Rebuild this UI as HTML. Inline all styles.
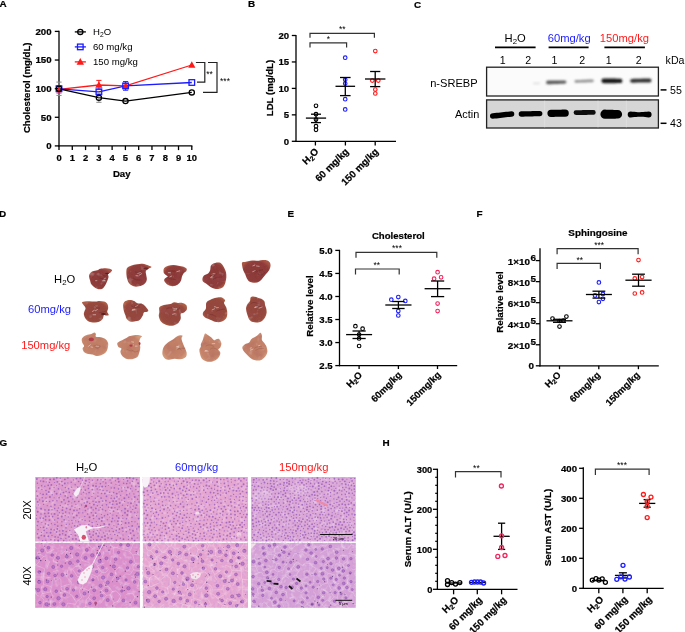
<!DOCTYPE html><html><head><meta charset="utf-8"><style>html,body{margin:0;padding:0;background:#fff;}svg{display:block;will-change:transform;font-family:"Liberation Sans", sans-serif;}</style></head><body><svg width="685" height="632" viewBox="0 0 685 632"><text x="-0.4" y="6.8" font-size="9.9" font-weight="bold" text-anchor="start" fill="#000" stroke="#000" stroke-width="0.22">A</text>
<text x="248" y="7.1" font-size="9.9" font-weight="bold" text-anchor="start" fill="#000" stroke="#000" stroke-width="0.22">B</text>
<text x="414" y="7.6" font-size="9.9" font-weight="bold" text-anchor="start" fill="#000" stroke="#000" stroke-width="0.22">C</text>
<text x="-0.9" y="216.8" font-size="9.9" font-weight="bold" text-anchor="start" fill="#000" stroke="#000" stroke-width="0.22">D</text>
<text x="287.6" y="217.1" font-size="9.9" font-weight="bold" text-anchor="start" fill="#000" stroke="#000" stroke-width="0.22">E</text>
<text x="476.6" y="217.1" font-size="9.9" font-weight="bold" text-anchor="start" fill="#000" stroke="#000" stroke-width="0.22">F</text>
<text x="-0.5" y="445.6" font-size="9.9" font-weight="bold" text-anchor="start" fill="#000" stroke="#000" stroke-width="0.22">G</text>
<text x="382.6" y="445.6" font-size="9.9" font-weight="bold" text-anchor="start" fill="#000" stroke="#000" stroke-width="0.22">H</text>
<line x1="59" y1="30.8" x2="59" y2="146.5" stroke="#000" stroke-width="1.3"/>
<line x1="58.4" y1="145.9" x2="192.4" y2="145.9" stroke="#000" stroke-width="1.3"/>
<line x1="54.8" y1="145.9" x2="59" y2="145.9" stroke="#000" stroke-width="1.3"/>
<text x="51.6" y="149.3" font-size="9.7" font-weight="bold" text-anchor="end" fill="#000" stroke="#000" stroke-width="0.22">0</text>
<line x1="54.8" y1="117.28" x2="59" y2="117.28" stroke="#000" stroke-width="1.3"/>
<text x="51.6" y="120.68" font-size="9.7" font-weight="bold" text-anchor="end" fill="#000" stroke="#000" stroke-width="0.22">50</text>
<line x1="54.8" y1="88.65" x2="59" y2="88.65" stroke="#000" stroke-width="1.3"/>
<text x="51.6" y="92.05" font-size="9.7" font-weight="bold" text-anchor="end" fill="#000" stroke="#000" stroke-width="0.22">100</text>
<line x1="54.8" y1="60.03" x2="59" y2="60.03" stroke="#000" stroke-width="1.3"/>
<text x="51.6" y="63.43" font-size="9.7" font-weight="bold" text-anchor="end" fill="#000" stroke="#000" stroke-width="0.22">150</text>
<line x1="54.8" y1="31.4" x2="59" y2="31.4" stroke="#000" stroke-width="1.3"/>
<text x="51.6" y="34.8" font-size="9.7" font-weight="bold" text-anchor="end" fill="#000" stroke="#000" stroke-width="0.22">200</text>
<line x1="59" y1="145.9" x2="59" y2="150.1" stroke="#000" stroke-width="1.3"/>
<text x="59" y="161" font-size="9.4" font-weight="bold" text-anchor="middle" fill="#000" stroke="#000" stroke-width="0.22">0</text>
<line x1="72.28" y1="145.9" x2="72.28" y2="150.1" stroke="#000" stroke-width="1.3"/>
<text x="72.28" y="161" font-size="9.4" font-weight="bold" text-anchor="middle" fill="#000" stroke="#000" stroke-width="0.22">1</text>
<line x1="85.56" y1="145.9" x2="85.56" y2="150.1" stroke="#000" stroke-width="1.3"/>
<text x="85.56" y="161" font-size="9.4" font-weight="bold" text-anchor="middle" fill="#000" stroke="#000" stroke-width="0.22">2</text>
<line x1="98.84" y1="145.9" x2="98.84" y2="150.1" stroke="#000" stroke-width="1.3"/>
<text x="98.84" y="161" font-size="9.4" font-weight="bold" text-anchor="middle" fill="#000" stroke="#000" stroke-width="0.22">3</text>
<line x1="112.12" y1="145.9" x2="112.12" y2="150.1" stroke="#000" stroke-width="1.3"/>
<text x="112.12" y="161" font-size="9.4" font-weight="bold" text-anchor="middle" fill="#000" stroke="#000" stroke-width="0.22">4</text>
<line x1="125.4" y1="145.9" x2="125.4" y2="150.1" stroke="#000" stroke-width="1.3"/>
<text x="125.4" y="161" font-size="9.4" font-weight="bold" text-anchor="middle" fill="#000" stroke="#000" stroke-width="0.22">5</text>
<line x1="138.68" y1="145.9" x2="138.68" y2="150.1" stroke="#000" stroke-width="1.3"/>
<text x="138.68" y="161" font-size="9.4" font-weight="bold" text-anchor="middle" fill="#000" stroke="#000" stroke-width="0.22">6</text>
<line x1="151.96" y1="145.9" x2="151.96" y2="150.1" stroke="#000" stroke-width="1.3"/>
<text x="151.96" y="161" font-size="9.4" font-weight="bold" text-anchor="middle" fill="#000" stroke="#000" stroke-width="0.22">7</text>
<line x1="165.24" y1="145.9" x2="165.24" y2="150.1" stroke="#000" stroke-width="1.3"/>
<text x="165.24" y="161" font-size="9.4" font-weight="bold" text-anchor="middle" fill="#000" stroke="#000" stroke-width="0.22">8</text>
<line x1="178.52" y1="145.9" x2="178.52" y2="150.1" stroke="#000" stroke-width="1.3"/>
<text x="178.52" y="161" font-size="9.4" font-weight="bold" text-anchor="middle" fill="#000" stroke="#000" stroke-width="0.22">9</text>
<line x1="191.8" y1="145.9" x2="191.8" y2="150.1" stroke="#000" stroke-width="1.3"/>
<text x="191.8" y="161" font-size="9.4" font-weight="bold" text-anchor="middle" fill="#000" stroke="#000" stroke-width="0.22">10</text>
<text x="121.7" y="177" font-size="9.6" font-weight="bold" text-anchor="middle" fill="#000" stroke="#000" stroke-width="0.22">Day</text>
<text x="29.8" y="87.8" font-size="9.6" font-weight="bold" text-anchor="middle" fill="#000" transform="rotate(-90 29.8 87.8)" stroke="#000" stroke-width="0.22">Cholesterol (mg/dL)</text>
<polyline points="59,89.3 98.9,85 125.6,85.9 191.8,65" stroke="#ff1a1a" stroke-width="1.3" fill="none"/>
<polyline points="59,88.8 98.9,91.8 125.6,85.9 191.8,82.5" stroke="#1c1cff" stroke-width="1.3" fill="none"/>
<polyline points="59,88.8 98.9,97.7 125.5,101.1 191.8,92.4" stroke="#000" stroke-width="1.3" fill="none"/>
<line x1="59" y1="82.1" x2="59" y2="95.4" stroke="#8a8a8a" stroke-width="1"/>
<line x1="56.4" y1="82.1" x2="61.6" y2="82.1" stroke="#8a8a8a" stroke-width="1"/>
<line x1="56.4" y1="95.4" x2="61.6" y2="95.4" stroke="#8a8a8a" stroke-width="1"/>
<line x1="98.9" y1="93.1" x2="98.9" y2="102.3" stroke="#8a8a8a" stroke-width="1"/>
<line x1="96.3" y1="93.1" x2="101.5" y2="93.1" stroke="#8a8a8a" stroke-width="1"/>
<line x1="96.3" y1="102.3" x2="101.5" y2="102.3" stroke="#8a8a8a" stroke-width="1"/>
<line x1="59" y1="85.5" x2="59" y2="93" stroke="#ff1a1a" stroke-width="1"/>
<line x1="56.4" y1="85.5" x2="61.6" y2="85.5" stroke="#ff1a1a" stroke-width="1"/>
<line x1="56.4" y1="93" x2="61.6" y2="93" stroke="#ff1a1a" stroke-width="1"/>
<line x1="98.9" y1="80.4" x2="98.9" y2="89.6" stroke="#ff1a1a" stroke-width="1"/>
<line x1="96.3" y1="80.4" x2="101.5" y2="80.4" stroke="#ff1a1a" stroke-width="1"/>
<line x1="96.3" y1="89.6" x2="101.5" y2="89.6" stroke="#ff1a1a" stroke-width="1"/>
<line x1="125.6" y1="81.6" x2="125.6" y2="90.2" stroke="#1c1cff" stroke-width="1"/>
<line x1="123" y1="81.6" x2="128.2" y2="81.6" stroke="#1c1cff" stroke-width="1"/>
<line x1="123" y1="90.2" x2="128.2" y2="90.2" stroke="#1c1cff" stroke-width="1"/>
<line x1="125.6" y1="83.5" x2="125.6" y2="88.3" stroke="#ff1a1a" stroke-width="1"/>
<line x1="123" y1="83.5" x2="128.2" y2="83.5" stroke="#ff1a1a" stroke-width="1"/>
<line x1="123" y1="88.3" x2="128.2" y2="88.3" stroke="#ff1a1a" stroke-width="1"/>
<path d="M98.9 81.28 L102.5 87.7 L95.3 87.7 Z" fill="#ff1a1a"/>
<path d="M125.6 82.18 L129.2 88.6 L122 88.6 Z" fill="#ff1a1a"/>
<path d="M191.8 61.28 L195.4 67.7 L188.2 67.7 Z" fill="#ff1a1a"/>
<path d="M59 86.87 L61.64 91.58 L56.36 91.58 Z" fill="#ff1a1a"/>
<rect x="56.2" y="86" width="5.6" height="5.6" fill="none" stroke="#1c1cff" stroke-width="1.3"/>
<rect x="96.1" y="89" width="5.6" height="5.6" fill="none" stroke="#1c1cff" stroke-width="1.3"/>
<rect x="122.8" y="83.1" width="5.6" height="5.6" fill="none" stroke="#1c1cff" stroke-width="1.3"/>
<rect x="189" y="79.7" width="5.6" height="5.6" fill="none" stroke="#1c1cff" stroke-width="1.3"/>
<circle cx="59" cy="88.8" r="2.6" stroke="#000" stroke-width="1.3" fill="none"/>
<circle cx="98.9" cy="97.7" r="2.6" stroke="#000" stroke-width="1.3" fill="none"/>
<circle cx="125.5" cy="101.1" r="2.6" stroke="#000" stroke-width="1.3" fill="none"/>
<circle cx="191.8" cy="92.4" r="2.6" stroke="#000" stroke-width="1.3" fill="none"/>
<line x1="74.8" y1="31.9" x2="85.9" y2="31.9" stroke="#000" stroke-width="1.3"/>
<circle cx="80.3" cy="31.9" r="2.6" stroke="#000" stroke-width="1.3" fill="none"/>
<text x="93" y="35.3" font-size="9.6" font-weight="normal" text-anchor="start" fill="#000">H<tspan font-size="0.7em" dy="0.25em">2</tspan><tspan dy="-0.18em">O</tspan></text>
<line x1="74.8" y1="46.9" x2="85.9" y2="46.9" stroke="#1c1cff" stroke-width="1.3"/>
<rect x="77.5" y="44.1" width="5.6" height="5.6" fill="none" stroke="#1c1cff" stroke-width="1.3"/>
<text x="93" y="50.3" font-size="9.6" font-weight="normal" text-anchor="start" fill="#000">60 mg/kg</text>
<line x1="74.8" y1="61.9" x2="85.9" y2="61.9" stroke="#ff1a1a" stroke-width="1.3"/>
<path d="M80.3 58.06 L84.02 64.69 L76.58 64.69 Z" fill="#ff1a1a"/>
<text x="93" y="65.3" font-size="9.6" font-weight="normal" text-anchor="start" fill="#000">150 mg/kg</text>
<polyline points="195.9,62.5 204.8,62.5 204.8,82.2 197,82.2" stroke="#222" stroke-width="1.2" fill="none"/>
<polyline points="208,62.5 217,62.5 217,92.3 203,92.3" stroke="#222" stroke-width="1.2" fill="none"/>
<text x="209.6" y="76.5" font-size="8.5" font-weight="normal" text-anchor="middle" fill="#000">**</text>
<text x="225" y="84" font-size="8.5" font-weight="normal" text-anchor="middle" fill="#000">***</text>
<line x1="296" y1="34.9" x2="296" y2="141.9" stroke="#000" stroke-width="1.3"/>
<line x1="291.8" y1="141.3" x2="296" y2="141.3" stroke="#000" stroke-width="1.3"/>
<text x="289.2" y="144.6" font-size="9.6" font-weight="bold" text-anchor="end" fill="#000" stroke="#000" stroke-width="0.22">0</text>
<line x1="291.8" y1="114.85" x2="296" y2="114.85" stroke="#000" stroke-width="1.3"/>
<text x="289.2" y="118.15" font-size="9.6" font-weight="bold" text-anchor="end" fill="#000" stroke="#000" stroke-width="0.22">5</text>
<line x1="291.8" y1="88.4" x2="296" y2="88.4" stroke="#000" stroke-width="1.3"/>
<text x="289.2" y="91.7" font-size="9.6" font-weight="bold" text-anchor="end" fill="#000" stroke="#000" stroke-width="0.22">10</text>
<line x1="291.8" y1="61.95" x2="296" y2="61.95" stroke="#000" stroke-width="1.3"/>
<text x="289.2" y="65.25" font-size="9.6" font-weight="bold" text-anchor="end" fill="#000" stroke="#000" stroke-width="0.22">15</text>
<line x1="291.8" y1="35.5" x2="296" y2="35.5" stroke="#000" stroke-width="1.3"/>
<text x="289.2" y="38.8" font-size="9.6" font-weight="bold" text-anchor="end" fill="#000" stroke="#000" stroke-width="0.22">20</text>
<line x1="295.4" y1="141.3" x2="396" y2="141.3" stroke="#000" stroke-width="1.3"/>
<line x1="315.4" y1="141.3" x2="315.4" y2="145.5" stroke="#000" stroke-width="1.3"/>
<line x1="345.4" y1="141.3" x2="345.4" y2="145.5" stroke="#000" stroke-width="1.3"/>
<line x1="375.2" y1="141.3" x2="375.2" y2="145.5" stroke="#000" stroke-width="1.3"/>
<text x="272.9" y="88" font-size="9.6" font-weight="bold" text-anchor="middle" fill="#000" transform="rotate(-90 272.9 88)" stroke="#000" stroke-width="0.22">LDL (mg/dL)</text>
<text x="319.3" y="152.2" font-size="9.8" font-weight="bold" text-anchor="end" fill="#000" transform="rotate(-45 319.3 152.2)" stroke="#000" stroke-width="0.22">H<tspan font-size="0.7em" dy="0.25em">2</tspan><tspan dy="-0.18em">O</tspan></text>
<text x="349.3" y="152.2" font-size="9.8" font-weight="bold" text-anchor="end" fill="#000" transform="rotate(-45 349.3 152.2)" stroke="#000" stroke-width="0.22">60 mg/kg</text>
<text x="379.1" y="152.2" font-size="9.8" font-weight="bold" text-anchor="end" fill="#000" transform="rotate(-45 379.1 152.2)" stroke="#000" stroke-width="0.22">150 mg/kg</text>
<circle cx="316" cy="105.8" r="1.8" stroke="#000" stroke-width="1.1" fill="none"/>
<circle cx="316" cy="114.2" r="1.8" stroke="#000" stroke-width="1.1" fill="none"/>
<circle cx="316" cy="119.6" r="1.8" stroke="#000" stroke-width="1.1" fill="none"/>
<circle cx="316" cy="126.2" r="1.8" stroke="#000" stroke-width="1.1" fill="none"/>
<circle cx="316" cy="129.8" r="1.8" stroke="#000" stroke-width="1.1" fill="none"/>
<line x1="305.9" y1="118.1" x2="326.1" y2="118.1" stroke="#000" stroke-width="1.3"/>
<line x1="316" y1="114.2" x2="316" y2="122.6" stroke="#000" stroke-width="1.3"/>
<line x1="311" y1="114.2" x2="321" y2="114.2" stroke="#000" stroke-width="1.3"/>
<line x1="311" y1="122.6" x2="321" y2="122.6" stroke="#000" stroke-width="1.3"/>
<circle cx="345.2" cy="57.7" r="1.8" stroke="#1c1cff" stroke-width="1.1" fill="none"/>
<circle cx="345.2" cy="79.7" r="1.8" stroke="#1c1cff" stroke-width="1.1" fill="none"/>
<circle cx="345.2" cy="83.6" r="1.8" stroke="#1c1cff" stroke-width="1.1" fill="none"/>
<circle cx="345.2" cy="99.2" r="1.8" stroke="#1c1cff" stroke-width="1.1" fill="none"/>
<circle cx="345.2" cy="109.4" r="1.8" stroke="#1c1cff" stroke-width="1.1" fill="none"/>
<line x1="335.5" y1="86.3" x2="355.1" y2="86.3" stroke="#000" stroke-width="1.3"/>
<line x1="345.3" y1="77.5" x2="345.3" y2="95.6" stroke="#000" stroke-width="1.3"/>
<line x1="340" y1="77.5" x2="350.6" y2="77.5" stroke="#000" stroke-width="1.3"/>
<line x1="340" y1="95.6" x2="350.6" y2="95.6" stroke="#000" stroke-width="1.3"/>
<circle cx="375.3" cy="51.1" r="1.8" stroke="#ff1a1a" stroke-width="1.1" fill="none"/>
<circle cx="372.3" cy="80.6" r="1.8" stroke="#ff1a1a" stroke-width="1.1" fill="none"/>
<circle cx="378.3" cy="80.6" r="1.8" stroke="#ff1a1a" stroke-width="1.1" fill="none"/>
<circle cx="375.3" cy="89.6" r="1.8" stroke="#ff1a1a" stroke-width="1.1" fill="none"/>
<circle cx="375.3" cy="93.5" r="1.8" stroke="#ff1a1a" stroke-width="1.1" fill="none"/>
<line x1="365" y1="79" x2="385.4" y2="79" stroke="#000" stroke-width="1.3"/>
<line x1="375.2" y1="71.5" x2="375.2" y2="86.6" stroke="#000" stroke-width="1.3"/>
<line x1="370.1" y1="71.5" x2="380.3" y2="71.5" stroke="#000" stroke-width="1.3"/>
<line x1="370.1" y1="86.6" x2="380.3" y2="86.6" stroke="#000" stroke-width="1.3"/>
<polyline points="310,47.6 310,42.8 346.6,42.8 346.6,47.6" stroke="#333" stroke-width="1.2" fill="none"/>
<polyline points="310,37.7 310,33.3 374.4,33.3 374.4,37.7" stroke="#333" stroke-width="1.2" fill="none"/>
<text x="328.3" y="42.2" font-size="8.5" font-weight="normal" text-anchor="middle" fill="#000">*</text>
<text x="342.3" y="32.3" font-size="8.5" font-weight="normal" text-anchor="middle" fill="#000">**</text>
<text x="515.2" y="42" font-size="11.2" font-weight="normal" text-anchor="middle" fill="#000">H<tspan font-size="0.7em" dy="0.25em">2</tspan><tspan dy="-0.18em">O</tspan></text>
<text x="569.2" y="42" font-size="11.2" font-weight="normal" text-anchor="middle" fill="#1c1cff">60mg/kg</text>
<text x="624.4" y="42" font-size="11.2" font-weight="normal" text-anchor="middle" fill="#ff1a1a">150mg/kg</text>
<line x1="495" y1="47.4" x2="535.6" y2="47.4" stroke="#000" stroke-width="1.6"/>
<line x1="548.6" y1="47.4" x2="588.6" y2="47.4" stroke="#000" stroke-width="1.6"/>
<line x1="604.4" y1="47.4" x2="644.9" y2="47.4" stroke="#000" stroke-width="1.6"/>
<text x="502.6" y="63.5" font-size="10.6" font-weight="normal" text-anchor="middle" fill="#000">1</text>
<text x="528.2" y="63.5" font-size="10.6" font-weight="normal" text-anchor="middle" fill="#000">2</text>
<text x="554.5" y="63.5" font-size="10.6" font-weight="normal" text-anchor="middle" fill="#000">1</text>
<text x="582.2" y="63.5" font-size="10.6" font-weight="normal" text-anchor="middle" fill="#000">2</text>
<text x="608.7" y="63.5" font-size="10.6" font-weight="normal" text-anchor="middle" fill="#000">1</text>
<text x="638.8" y="63.5" font-size="10.6" font-weight="normal" text-anchor="middle" fill="#000">2</text>
<text x="665.6" y="63.7" font-size="10.6" font-weight="normal" text-anchor="start" fill="#000">kDa</text>
<text x="453.9" y="87.2" font-size="11.1" font-weight="normal" text-anchor="middle" fill="#000">n-SREBP</text>
<text x="467.1" y="118" font-size="10.9" font-weight="normal" text-anchor="middle" fill="#000">Actin</text>
<defs><filter id="bl1" x="-50%" y="-50%" width="200%" height="200%"><feGaussianBlur stdDeviation="0.9"/></filter><filter id="bl2" x="-50%" y="-50%" width="200%" height="200%"><feGaussianBlur stdDeviation="0.6"/></filter><filter id="bl3" x="-20%" y="-20%" width="140%" height="140%"><feGaussianBlur stdDeviation="0.35"/></filter></defs>
<rect x="486.6" y="67.2" width="171.8" height="28.8" fill="#fbfbfb" stroke="#222" stroke-width="1.3"/>
<rect x="486.6" y="99.9" width="171.8" height="28.1" fill="#d6d6d6" stroke="#222" stroke-width="1.3"/>
<rect x="544.2" y="100.6" width="1" height="26.8" fill="#e4e4e4" opacity="0.6"/>
<rect x="597.5" y="100.6" width="1" height="26.8" fill="#e4e4e4" opacity="0.6"/>
<rect x="625.8" y="100.6" width="1" height="26.8" fill="#e4e4e4" opacity="0.6"/>
<path d="M534 82.2 L534.5 82.2 L535 82.2 L535.5 82.2 L536 82.2 L536.5 82.2 L537 82.2 L537.5 82.2 L538 82.2 L538.5 82.2 L539 82.2 A1.1 1.1 0 0 1 539 84.4 L538.5 84.4 L538 84.4 L537.5 84.4 L537 84.4 L536.5 84.4 L536 84.4 L535.5 84.4 L535 84.4 L534.5 84.4 L534 84.4 A1.1 1.1 0 0 1 534 82.2 Z" fill="#e4e4e4" filter="url(#bl1)"/>
<path d="M548 80.5 L549.68 80.49 L551.36 80.48 L553.04 80.47 L554.72 80.46 L556.4 80.45 L558.08 80.44 L559.76 80.43 L561.44 80.42 L563.12 80.41 L564.8 80.4 A1.6 1.6 0 0 1 564.8 83.6 L563.12 83.67 L561.44 83.74 L559.76 83.81 L558.08 83.88 L556.4 83.95 L554.72 84.02 L553.04 84.09 L551.36 84.16 L549.68 84.23 L548 84.3 A1.9 1.9 0 0 1 548 80.5 Z" fill="#5c5c5c" filter="url(#bl1)"/>
<path d="M575.8 80.1 L577.46 80.03 L579.12 79.96 L580.78 79.89 L582.44 79.82 L584.1 79.75 L585.76 79.68 L587.42 79.61 L589.08 79.54 L590.74 79.47 L592.4 79.4 A1.4 1.4 0 0 1 592.4 82.2 L590.74 82.25 L589.08 82.3 L587.42 82.35 L585.76 82.4 L584.1 82.45 L582.44 82.5 L580.78 82.55 L579.12 82.6 L577.46 82.65 L575.8 82.7 A1.3 1.3 0 0 1 575.8 80.1 Z" fill="#929292" filter="url(#bl1)"/>
<path d="M603.8 78.4 L605.44 78.43 L607.08 78.46 L608.72 78.49 L610.36 78.52 L612 78.55 L613.64 78.58 L615.28 78.61 L616.92 78.64 L618.56 78.67 L620.2 78.7 A2.2 2.2 0 0 1 620.2 83.1 L618.56 83.11 L616.92 83.12 L615.28 83.13 L613.64 83.14 L612 83.15 L610.36 83.16 L608.72 83.17 L607.08 83.18 L605.44 83.19 L603.8 83.2 A2.4 2.4 0 0 1 603.8 78.4 Z" fill="#181818" filter="url(#bl1)"/>
<path d="M632 78.9 L633.75 78.85 L635.5 78.8 L637.25 78.75 L639 78.7 L640.75 78.65 L642.5 78.6 L644.25 78.55 L646 78.5 L647.75 78.45 L649.5 78.4 A2 2 0 0 1 649.5 82.4 L647.75 82.43 L646 82.46 L644.25 82.49 L642.5 82.52 L640.75 82.55 L639 82.58 L637.25 82.61 L635.5 82.64 L633.75 82.67 L632 82.7 A1.9 1.9 0 0 1 632 78.9 Z" fill="#333" filter="url(#bl1)"/>
<path d="M492.8 113.2 L494.68 113.01 L496.56 112.82 L498.44 112.63 L500.32 112.44 L502.2 112.25 L504.08 112.06 L505.96 111.87 L507.84 111.68 L509.72 111.49 L511.6 111.3 A2.7 2.7 0 0 1 511.6 116.7 L509.72 116.91 L507.84 117.12 L505.96 117.33 L504.08 117.54 L502.2 117.75 L500.32 117.96 L498.44 118.17 L496.56 118.38 L494.68 118.59 L492.8 118.8 A2.8 2.8 0 0 1 492.8 113.2 Z" fill="#050505" filter="url(#bl2)"/>
<path d="M521.4 111.3 L523.24 111.27 L525.08 111.24 L526.92 111.21 L528.76 111.18 L530.6 111.15 L532.44 111.12 L534.28 111.09 L536.12 111.06 L537.96 111.03 L539.8 111 A2.6 2.6 0 0 1 539.8 116.2 L537.96 116.25 L536.12 116.3 L534.28 116.35 L532.44 116.4 L530.6 116.45 L528.76 116.5 L526.92 116.55 L525.08 116.6 L523.24 116.65 L521.4 116.7 A2.7 2.7 0 0 1 521.4 111.3 Z" fill="#050505" filter="url(#bl2)"/>
<path d="M551 109.7 L552.42 109.69 L553.84 109.68 L555.26 109.67 L556.68 109.66 L558.1 109.65 L559.52 109.64 L560.94 109.63 L562.36 109.62 L563.78 109.61 L565.2 109.6 A3.6 3.6 0 0 1 565.2 116.8 L563.78 116.81 L562.36 116.82 L560.94 116.83 L559.52 116.84 L558.1 116.85 L556.68 116.86 L555.26 116.87 L553.84 116.88 L552.42 116.89 L551 116.9 A3.6 3.6 0 0 1 551 109.7 Z" fill="#000" filter="url(#bl2)"/>
<path d="M576 110.2 L577.73 110.18 L579.46 110.16 L581.19 110.14 L582.92 110.12 L584.65 110.1 L586.38 110.08 L588.11 110.06 L589.84 110.04 L591.57 110.02 L593.3 110 A2.4 2.4 0 0 1 593.3 114.8 L591.57 114.82 L589.84 114.84 L588.11 114.86 L586.38 114.88 L584.65 114.9 L582.92 114.92 L581.19 114.94 L579.46 114.96 L577.73 114.98 L576 115 A2.4 2.4 0 0 1 576 110.2 Z" fill="#0a0a0a" filter="url(#bl2)"/>
<path d="M605 109.6 L606.28 109.64 L607.56 109.68 L608.84 109.72 L610.12 109.76 L611.4 109.8 L612.68 109.84 L613.96 109.88 L615.24 109.92 L616.52 109.96 L617.8 110 A4.3 4.3 0 0 1 617.8 118.6 L616.52 118.62 L615.24 118.64 L613.96 118.66 L612.68 118.68 L611.4 118.7 L610.12 118.72 L608.84 118.74 L607.56 118.76 L606.28 118.78 L605 118.8 A4.6 4.6 0 0 1 605 109.6 Z" fill="#000" filter="url(#bl2)"/>
<path d="M630.8 111.4 L632.58 111.64 L634.36 111.85 L636.14 112.02 L637.92 112.13 L639.7 112.16 L641.48 112.12 L643.26 112.01 L645.04 111.84 L646.82 111.63 L648.6 111.4 A3 3 0 0 1 648.6 117.4 L646.82 117.19 L645.04 117 L643.26 116.85 L641.48 116.76 L639.7 116.74 L637.92 116.79 L636.14 116.92 L634.36 117.11 L632.58 117.34 L630.8 117.6 A3.1 3.1 0 0 1 630.8 111.4 Z" fill="#050505" filter="url(#bl2)"/>
<line x1="660.6" y1="89.9" x2="666.5" y2="89.9" stroke="#000" stroke-width="1.5"/>
<line x1="660.6" y1="123.3" x2="666.5" y2="123.3" stroke="#000" stroke-width="1.5"/>
<text x="670" y="93.8" font-size="10.6" font-weight="normal" text-anchor="start" fill="#000">55</text>
<text x="670" y="127.2" font-size="10.6" font-weight="normal" text-anchor="start" fill="#000">43</text>
<text x="75.2" y="282.8" font-size="11.2" font-weight="normal" text-anchor="end" fill="#000">H<tspan font-size="0.7em" dy="0.25em">2</tspan><tspan dy="-0.18em">O</tspan></text>
<text x="71" y="313.4" font-size="11.2" font-weight="normal" text-anchor="end" fill="#1c1cff">60mg/kg</text>
<text x="70.3" y="349" font-size="11.2" font-weight="normal" text-anchor="end" fill="#ff1a1a">150mg/kg</text>
<defs><radialGradient id="lvA" cx="50%" cy="50%" r="55%"><stop offset="0" stop-color="#8a3939"/><stop offset="0.78" stop-color="#8f3c3a"/><stop offset="1" stop-color="#ac5844"/></radialGradient><radialGradient id="lvA2" cx="50%" cy="50%" r="55%"><stop offset="0" stop-color="#a34a3e"/><stop offset="0.75" stop-color="#a84e40"/><stop offset="1" stop-color="#c06a48"/></radialGradient><radialGradient id="lvB" cx="50%" cy="50%" r="55%"><stop offset="0" stop-color="#93453e"/><stop offset="0.78" stop-color="#96483e"/><stop offset="1" stop-color="#ae6045"/></radialGradient><radialGradient id="lvC" cx="50%" cy="50%" r="55%"><stop offset="0" stop-color="#bf7c64"/><stop offset="0.78" stop-color="#c4836a"/><stop offset="1" stop-color="#d29878"/></radialGradient><filter id="lvf" x="-10%" y="-10%" width="120%" height="120%"><feGaussianBlur in="SourceGraphic" stdDeviation="0.45" result="b"/><feTurbulence type="fractalNoise" baseFrequency="0.18" numOctaves="2" seed="4" result="t"/><feColorMatrix in="t" type="matrix" values="0 0 0 0 1  0 0 0 0 0.85  0 0 0 0 0.8  0 0 0 0.5 -0.31" result="tw"/><feComposite in="tw" in2="b" operator="in" result="tw2"/><feTurbulence type="fractalNoise" baseFrequency="0.12" numOctaves="2" seed="11" result="t2"/><feColorMatrix in="t2" type="matrix" values="0 0 0 0 0.35  0 0 0 0 0.08  0 0 0 0 0.1  0 0 0 0.8 -0.38" result="td"/><feComposite in="td" in2="b" operator="in" result="td2"/><feMerge><feMergeNode in="b"/><feMergeNode in="td2"/><feMergeNode in="tw2"/></feMerge></filter></defs>
<path d="M89.6 273.9 C90.2 272.97 91.42 271.9 92.7 271.3 C93.98 270.7 96.03 270.72 97.3 270.3 C98.57 269.88 98.95 269.13 100.3 268.8 C101.65 268.47 103.87 268.3 105.4 268.3 C106.93 268.3 108.38 268.47 109.5 268.8 C110.62 269.13 111.93 269.7 112.1 270.3 C112.27 270.9 111.18 271.8 110.5 272.4 C109.82 273 108.33 273.15 108 273.9 C107.67 274.65 108.67 275.63 108.5 276.9 C108.33 278.17 107.52 280.13 107 281.5 C106.48 282.87 106.17 283.9 105.4 285.1 C104.63 286.3 103.58 288.02 102.4 288.7 C101.22 289.38 99.75 289.53 98.3 289.2 C96.85 288.87 94.9 287.55 93.7 286.7 C92.5 285.85 91.7 285.13 91.1 284.1 C90.5 283.07 90.43 281.7 90.1 280.5 C89.77 279.3 89.18 278 89.1 276.9 C89.02 275.8 89 274.83 89.6 273.9 Z" fill="url(#lvA)" filter="url(#lvf)"/>
<path d="M126.9 268.3 C127.67 266.85 129.3 266.38 131 265.7 C132.7 265.02 135.23 264.53 137.1 264.2 C138.97 263.87 140.67 263.62 142.2 263.7 C143.73 263.78 144.93 264.28 146.3 264.7 C147.67 265.12 149.55 265.78 150.4 266.2 C151.25 266.62 151.73 266.77 151.4 267.2 C151.07 267.63 149.33 268.12 148.4 268.8 C147.47 269.48 146.15 270.2 145.8 271.3 C145.45 272.4 146.13 274.03 146.3 275.4 C146.47 276.77 146.97 278.22 146.8 279.5 C146.63 280.78 146.15 282.08 145.3 283.1 C144.45 284.12 143.23 285 141.7 285.6 C140.17 286.2 137.72 286.7 136.1 286.7 C134.48 286.7 133.2 286.2 132 285.6 C130.8 285 129.67 284.12 128.9 283.1 C128.13 282.08 127.82 280.95 127.4 279.5 C126.98 278.05 126.48 276.27 126.4 274.4 C126.32 272.53 126.13 269.75 126.9 268.3 Z" fill="url(#lvA)" filter="url(#lvf)"/>
<path d="M164.1 268.3 C164.87 267.2 166.67 266.25 168.2 265.7 C169.73 265.15 171.6 265 173.3 265 C175 265 176.7 265.42 178.4 265.7 C180.1 265.98 182.13 266.18 183.5 266.7 C184.87 267.22 186.17 268.03 186.6 268.8 C187.03 269.57 186.62 270.53 186.1 271.3 C185.58 272.07 184.18 272.55 183.5 273.4 C182.82 274.25 182.42 275.22 182 276.4 C181.58 277.58 181.6 279.22 181 280.5 C180.4 281.78 179.52 283.17 178.4 284.1 C177.28 285.03 175.83 285.85 174.3 286.1 C172.77 286.35 170.63 286.1 169.2 285.6 C167.77 285.1 166.55 284.03 165.7 283.1 C164.85 282.17 164.02 280.93 164.1 280 C164.18 279.07 165.6 278.1 166.2 277.5 C166.8 276.9 167.87 276.92 167.7 276.4 C167.53 275.88 165.88 275.08 165.2 274.4 C164.52 273.72 163.78 273.32 163.6 272.3 C163.42 271.28 163.33 269.4 164.1 268.3 Z" fill="url(#lvA)" filter="url(#lvf)"/>
<path d="M211.1 265.2 C211.95 263.97 213.83 263.33 215.2 262.9 C216.57 262.47 218.1 262.3 219.3 262.6 C220.5 262.9 221.55 263.75 222.4 264.7 C223.25 265.65 223.8 267.03 224.4 268.3 C225 269.57 225.68 270.77 226 272.3 C226.32 273.83 226.4 275.78 226.3 277.5 C226.2 279.22 225.88 281.07 225.4 282.6 C224.92 284.13 224.42 285.68 223.4 286.7 C222.38 287.72 220.75 288.37 219.3 288.7 C217.85 289.03 216.23 289.03 214.7 288.7 C213.17 288.37 211.55 287.55 210.1 286.7 C208.65 285.85 207.18 284.47 206 283.6 C204.82 282.73 203.58 282.35 203 281.5 C202.42 280.65 202.33 279.52 202.5 278.5 C202.67 277.48 203.07 276.25 204 275.4 C204.93 274.55 207.08 274.25 208.1 273.4 C209.12 272.55 209.6 271.67 210.1 270.3 C210.6 268.93 210.25 266.43 211.1 265.2 Z" fill="url(#lvA)" filter="url(#lvf)"/>
<path d="M242.2 262.5 C242.83 261.8 244.67 262.08 246 261.8 C247.33 261.52 248.8 261.03 250.2 260.8 C251.6 260.57 253 260.4 254.4 260.4 C255.8 260.4 257.2 260.85 258.6 260.8 C260 260.75 261.4 260.17 262.8 260.1 C264.2 260.03 265.83 260 267 260.4 C268.17 260.8 269.22 261.57 269.8 262.5 C270.38 263.43 270.62 264.72 270.5 266 C270.38 267.28 269.92 268.8 269.1 270.2 C268.28 271.6 266.65 273.12 265.6 274.4 C264.55 275.68 263.85 276.73 262.8 277.9 C261.75 279.07 260.58 280.58 259.3 281.4 C258.02 282.22 256.62 282.68 255.1 282.8 C253.58 282.92 251.48 282.68 250.2 282.1 C248.92 281.52 248.22 280.58 247.4 279.3 C246.58 278.02 246 275.92 245.3 274.4 C244.6 272.88 243.72 271.6 243.2 270.2 C242.68 268.8 242.37 267.28 242.2 266 C242.03 264.72 241.57 263.2 242.2 262.5 Z" fill="url(#lvA)" filter="url(#lvf)"/>
<path d="M82.3 302.1 C83.2 301.52 86.63 301.38 88.8 301.3 C90.97 301.22 93.5 301.65 95.3 301.6 C97.1 301.55 98.17 301 99.6 301 C101.03 301 102.63 301.15 103.9 301.6 C105.17 302.05 106.48 302.63 107.2 303.7 C107.92 304.77 108.2 306.65 108.2 308 C108.2 309.35 107.1 310.62 107.2 311.8 C107.3 312.98 108.98 314.47 108.8 315.1 C108.62 315.73 106.92 315.6 106.1 315.6 C105.28 315.6 104.45 314.57 103.9 315.1 C103.35 315.63 103.52 317.73 102.8 318.8 C102.08 319.87 101.03 320.87 99.6 321.5 C98.17 322.13 96 322.6 94.2 322.6 C92.4 322.6 90.23 322.13 88.8 321.5 C87.37 320.87 86.42 319.97 85.6 318.8 C84.78 317.63 84.08 315.75 83.9 314.5 C83.72 313.25 84.22 312.38 84.5 311.3 C84.78 310.22 85.78 309.08 85.6 308 C85.42 306.92 83.95 305.78 83.4 304.8 C82.85 303.82 81.4 302.68 82.3 302.1 Z" fill="url(#lvB)" filter="url(#lvf)"/>
<path d="M123.4 303.7 C123.78 302.7 124.42 301.63 125.5 301 C126.58 300.37 128.45 299.9 129.9 299.9 C131.35 299.9 132.95 300.45 134.2 301 C135.45 301.55 136.15 302.75 137.4 303.2 C138.65 303.65 140.43 303.25 141.7 303.7 C142.97 304.15 143.92 304.82 145 305.9 C146.08 306.98 147.85 309.22 148.2 310.2 C148.55 311.18 147.82 311.43 147.1 311.8 C146.38 312.17 144.62 311.77 143.9 312.4 C143.18 313.03 143.52 314.35 142.8 315.6 C142.08 316.85 141.03 318.92 139.6 319.9 C138.17 320.88 135.82 321.23 134.2 321.5 C132.58 321.77 131.17 321.95 129.9 321.5 C128.63 321.05 127.33 319.78 126.6 318.8 C125.87 317.82 125.95 316.85 125.5 315.6 C125.05 314.35 124.28 312.73 123.9 311.3 C123.52 309.87 123.28 308.27 123.2 307 C123.12 305.73 123.02 304.7 123.4 303.7 Z" fill="url(#lvB)" filter="url(#lvf)"/>
<path d="M159.4 307.3 C160.13 306.2 161.98 305.65 163.8 305.1 C165.62 304.55 168.67 304.45 170.3 304 C171.93 303.55 172.32 302.58 173.6 302.4 C174.88 302.22 176.53 302.82 178 302.9 C179.47 302.98 181.03 302.53 182.4 302.9 C183.77 303.27 185.47 304 186.2 305.1 C186.93 306.2 187.25 308.22 186.8 309.5 C186.35 310.78 184.52 312.07 183.5 312.8 C182.48 313.53 181.17 312.9 180.7 313.9 C180.23 314.9 181.15 317.25 180.7 318.8 C180.25 320.35 179.18 322.1 178 323.2 C176.82 324.3 175.25 325.03 173.6 325.4 C171.95 325.77 169.73 325.67 168.1 325.4 C166.47 325.13 165.07 324.53 163.8 323.8 C162.53 323.07 161.33 322.28 160.5 321 C159.67 319.72 158.98 317.65 158.8 316.1 C158.62 314.55 159.3 313.17 159.4 311.7 C159.5 310.23 158.67 308.4 159.4 307.3 Z" fill="url(#lvB)" filter="url(#lvf)"/>
<path d="M206.5 302.4 C207.5 300.85 210.08 299.92 211.9 299.1 C213.72 298.28 215.75 297.77 217.4 297.5 C219.05 297.23 220.52 297.05 221.8 297.5 C223.08 297.95 224.73 299.3 225.1 300.2 C225.47 301.1 223.82 301.72 224 302.9 C224.18 304.08 225.65 305.65 226.2 307.3 C226.75 308.95 227.3 310.97 227.3 312.8 C227.3 314.63 227.12 316.83 226.2 318.3 C225.28 319.77 223.45 320.97 221.8 321.6 C220.15 322.23 218.13 322.38 216.3 322.1 C214.47 321.82 212.43 320.53 210.8 319.9 C209.17 319.27 207.77 319.03 206.5 318.3 C205.23 317.57 203.75 316.5 203.2 315.5 C202.65 314.5 202.75 313.48 203.2 312.3 C203.65 311.12 205.35 310.05 205.9 308.4 C206.45 306.75 205.5 303.95 206.5 302.4 Z" fill="url(#lvB)" filter="url(#lvf)"/>
<path d="M250.6 297.4 C251.1 296.65 252.08 296.55 253 296.5 C253.92 296.45 255.18 296.85 256.1 297.1 C257.02 297.35 257.5 297.65 258.5 298 C259.5 298.35 261.1 298.6 262.1 299.2 C263.1 299.8 264 300.6 264.5 301.6 C265 302.6 264.8 304 265.1 305.2 C265.4 306.4 266.05 307.48 266.3 308.8 C266.55 310.12 266.8 311.68 266.6 313.1 C266.4 314.52 265.85 316 265.1 317.3 C264.35 318.6 263.3 320.05 262.1 320.9 C260.9 321.75 259.42 322.2 257.9 322.4 C256.38 322.6 254.42 322.55 253 322.1 C251.58 321.65 250.3 320.8 249.4 319.7 C248.5 318.6 248.1 316.9 247.6 315.5 C247.1 314.1 246.65 312.62 246.4 311.3 C246.15 309.98 245.9 308.82 246.1 307.6 C246.3 306.38 246.95 305.1 247.6 304 C248.25 302.9 249.5 302.1 250 301 C250.5 299.9 250.1 298.15 250.6 297.4 Z" fill="url(#lvB)" filter="url(#lvf)"/>
<path d="M82.1 338.2 C82.78 337.02 84.67 335.88 86.2 335.2 C87.73 334.52 89.93 334.53 91.3 334.1 C92.67 333.67 93.63 332.6 94.4 332.6 C95.17 332.6 95.65 333.42 95.9 334.1 C96.15 334.78 95.13 336.18 95.9 336.7 C96.67 337.22 98.88 336.78 100.5 337.2 C102.12 337.62 104.33 338.18 105.6 339.2 C106.87 340.22 107.77 341.77 108.1 343.3 C108.43 344.83 108.02 346.87 107.6 348.4 C107.18 349.93 106.62 351.38 105.6 352.5 C104.58 353.62 103.03 354.5 101.5 355.1 C99.97 355.7 97.93 356.18 96.4 356.1 C94.87 356.02 93.67 354.93 92.3 354.6 C90.93 354.27 89.57 354.53 88.2 354.1 C86.83 353.67 85.03 352.95 84.1 352 C83.17 351.05 82.6 349.42 82.6 348.4 C82.6 347.38 84.18 346.92 84.1 345.9 C84.02 344.88 82.43 343.58 82.1 342.3 C81.77 341.02 81.42 339.38 82.1 338.2 Z" fill="url(#lvC)" filter="url(#lvf)"/>
<path d="M117.3 343.3 C117.72 342.28 119.45 341.65 120.9 340.8 C122.35 339.95 124.63 338.97 126 338.2 C127.37 337.43 127.73 336.7 129.1 336.2 C130.47 335.7 132.5 335.37 134.2 335.2 C135.9 335.03 138.02 335.03 139.3 335.2 C140.58 335.37 141.73 335.7 141.9 336.2 C142.07 336.7 140.73 337.18 140.3 338.2 C139.87 339.22 139.3 340.77 139.3 342.3 C139.3 343.83 140.3 345.7 140.3 347.4 C140.3 349.1 139.8 350.88 139.3 352.5 C138.8 354.12 138.48 355.98 137.3 357.1 C136.12 358.22 134.08 358.93 132.2 359.2 C130.32 359.47 127.72 359.3 126 358.7 C124.28 358.1 122.83 356.8 121.9 355.6 C120.97 354.4 120.48 352.7 120.4 351.5 C120.32 350.3 121.73 349.17 121.4 348.4 C121.07 347.63 119.08 347.75 118.4 346.9 C117.72 346.05 116.88 344.32 117.3 343.3 Z" fill="url(#lvC)" filter="url(#lvf)"/>
<path d="M162.6 350.5 C162.85 349.05 163.17 347.77 164.1 346.4 C165.03 345.03 166.67 343.5 168.2 342.3 C169.73 341.1 171.93 340.13 173.3 339.2 C174.67 338.27 175.28 337.37 176.4 336.7 C177.52 336.03 178.98 335.37 180 335.2 C181.02 335.03 182.25 335.2 182.5 335.7 C182.75 336.2 181.5 337.1 181.5 338.2 C181.5 339.3 181.98 340.77 182.5 342.3 C183.02 343.83 183.92 345.7 184.6 347.4 C185.28 349.1 186.35 350.97 186.6 352.5 C186.85 354.03 186.7 355.57 186.1 356.6 C185.5 357.63 184.28 358.27 183 358.7 C181.72 359.13 179.85 359.2 178.4 359.2 C176.95 359.2 175.83 358.62 174.3 358.7 C172.77 358.78 170.72 359.7 169.2 359.7 C167.68 359.7 166.3 359.47 165.2 358.7 C164.1 357.93 163.03 356.47 162.6 355.1 C162.17 353.73 162.35 351.95 162.6 350.5 Z" fill="url(#lvC)" filter="url(#lvf)"/>
<path d="M200.9 344.3 C201.25 343.1 202.32 340.98 203 339.2 C203.68 337.42 204.15 334.27 205 333.6 C205.85 332.93 207.08 334.6 208.1 335.2 C209.12 335.8 210.08 336.35 211.1 337.2 C212.12 338.05 213.35 339.97 214.2 340.3 C215.05 340.63 215.35 339.38 216.2 339.2 C217.05 339.02 218.43 338.52 219.3 339.2 C220.17 339.88 221.23 341.93 221.4 343.3 C221.57 344.67 220.82 346.37 220.3 347.4 C219.78 348.43 218.3 348.65 218.3 349.5 C218.3 350.35 220.13 351.32 220.3 352.5 C220.47 353.68 219.98 355.4 219.3 356.6 C218.62 357.8 217.57 358.85 216.2 359.7 C214.83 360.55 212.8 361.45 211.1 361.7 C209.4 361.95 207.53 361.7 206 361.2 C204.47 360.7 202.92 359.98 201.9 358.7 C200.88 357.42 200.32 355.03 199.9 353.5 C199.48 351.97 199.23 350.68 199.4 349.5 C199.57 348.32 200.65 347.27 200.9 346.4 C201.15 345.53 200.55 345.5 200.9 344.3 Z" fill="url(#lvC)" filter="url(#lvf)"/>
<path d="M242.6 346.6 C243 345.8 243.9 344.9 245 344.2 C246.1 343.5 248.2 343.2 249.2 342.4 C250.2 341.6 250.2 340.2 251 339.4 C251.8 338.6 252.9 338.3 254 337.6 C255.1 336.9 256.53 336 257.6 335.2 C258.67 334.4 259.68 332.7 260.4 332.8 C261.12 332.9 261.65 334.6 261.9 335.8 C262.15 337 261.5 338.8 261.9 340 C262.3 341.2 263.5 341.8 264.3 343 C265.1 344.2 266.2 345.68 266.7 347.2 C267.2 348.72 267.5 350.58 267.3 352.1 C267.1 353.62 266.5 355 265.5 356.3 C264.5 357.6 262.82 359.2 261.3 359.9 C259.78 360.6 257.92 360.6 256.4 360.5 C254.88 360.4 253.6 360.1 252.2 359.3 C250.8 358.5 249.3 356.9 248 355.7 C246.7 354.5 245.3 353.22 244.4 352.1 C243.5 350.98 242.9 349.92 242.6 349 C242.3 348.08 242.2 347.4 242.6 346.6 Z" fill="url(#lvC)" filter="url(#lvf)"/>
<g filter="url(#bl3)"><path d="M95.6 280.69 l1.3 -0.02" stroke="#fbeee8" stroke-opacity="0.7" stroke-width="0.7" stroke-linecap="round"/><path d="M103.86 279.07 l1.6 -0.8" stroke="#fbeee8" stroke-opacity="0.7" stroke-width="0.7" stroke-linecap="round"/><path d="M102.55 280.81 l2.33 -0.42" stroke="#fbeee8" stroke-opacity="0.7" stroke-width="0.7" stroke-linecap="round"/><path d="M137.73 273.3 l2.44 -0.64" stroke="#fbeee8" stroke-opacity="0.7" stroke-width="0.7" stroke-linecap="round"/><path d="M139.34 275.1 l2.27 -1.42" stroke="#fbeee8" stroke-opacity="0.7" stroke-width="0.7" stroke-linecap="round"/><path d="M136 275.7 l2.14 0.18" stroke="#fbeee8" stroke-opacity="0.7" stroke-width="0.7" stroke-linecap="round"/><path d="M168.32 272.66 l2 -0.01" stroke="#fbeee8" stroke-opacity="0.7" stroke-width="0.7" stroke-linecap="round"/><path d="M169.89 276.92 l1.82 -0.89" stroke="#fbeee8" stroke-opacity="0.7" stroke-width="0.7" stroke-linecap="round"/><path d="M176.87 271.66 l2.87 -0.88" stroke="#fbeee8" stroke-opacity="0.7" stroke-width="0.7" stroke-linecap="round"/><path d="M213.06 273.71 l1.94 0.18" stroke="#fbeee8" stroke-opacity="0.7" stroke-width="0.7" stroke-linecap="round"/><path d="M211.5 276.52 l1.88 -0.9" stroke="#fbeee8" stroke-opacity="0.7" stroke-width="0.7" stroke-linecap="round"/><path d="M210.5 277.67 l1.83 -0.56" stroke="#fbeee8" stroke-opacity="0.7" stroke-width="0.7" stroke-linecap="round"/><path d="M256.51 266.01 l2.64 0.28" stroke="#fbeee8" stroke-opacity="0.7" stroke-width="0.7" stroke-linecap="round"/><path d="M252.68 271.69 l2.4 -0.9" stroke="#fbeee8" stroke-opacity="0.7" stroke-width="0.7" stroke-linecap="round"/><path d="M252.85 265.83 l1.83 -0.6" stroke="#fbeee8" stroke-opacity="0.7" stroke-width="0.7" stroke-linecap="round"/><path d="M95.34 310.79 l2.1 -1.25" stroke="#fbeee8" stroke-opacity="0.7" stroke-width="0.7" stroke-linecap="round"/><path d="M92.46 311.41 l1.94 -1.15" stroke="#fbeee8" stroke-opacity="0.7" stroke-width="0.7" stroke-linecap="round"/><path d="M93.03 314.77 l2.6 -0.05" stroke="#fbeee8" stroke-opacity="0.7" stroke-width="0.7" stroke-linecap="round"/><path d="M132.46 309.57 l2.41 -0.38" stroke="#fbeee8" stroke-opacity="0.7" stroke-width="0.7" stroke-linecap="round"/><path d="M135.6 306.51 l2.43 -1.1" stroke="#fbeee8" stroke-opacity="0.7" stroke-width="0.7" stroke-linecap="round"/><path d="M132.16 310.47 l2.9 -0.69" stroke="#fbeee8" stroke-opacity="0.7" stroke-width="0.7" stroke-linecap="round"/><path d="M173.75 310.52 l2.88 -1" stroke="#fbeee8" stroke-opacity="0.7" stroke-width="0.7" stroke-linecap="round"/><path d="M172.59 314.3 l2.4 -0.61" stroke="#fbeee8" stroke-opacity="0.7" stroke-width="0.7" stroke-linecap="round"/><path d="M173.76 308.93 l2.97 -0.38" stroke="#fbeee8" stroke-opacity="0.7" stroke-width="0.7" stroke-linecap="round"/><path d="M216.43 307.79 l1.96 -0.22" stroke="#fbeee8" stroke-opacity="0.7" stroke-width="0.7" stroke-linecap="round"/><path d="M214.42 306.73 l1.39 0.25" stroke="#fbeee8" stroke-opacity="0.7" stroke-width="0.7" stroke-linecap="round"/><path d="M212.14 309.87 l2.42 -1.06" stroke="#fbeee8" stroke-opacity="0.7" stroke-width="0.7" stroke-linecap="round"/><path d="M259.1 308.16 l2.89 -1.09" stroke="#fbeee8" stroke-opacity="0.7" stroke-width="0.7" stroke-linecap="round"/><path d="M254.89 307.25 l1.55 -0.65" stroke="#fbeee8" stroke-opacity="0.7" stroke-width="0.7" stroke-linecap="round"/><path d="M254.91 307.51 l2.74 -0.85" stroke="#fbeee8" stroke-opacity="0.7" stroke-width="0.7" stroke-linecap="round"/><path d="M88.54 346.21 l1.87 -1.45" stroke="#fbeee8" stroke-opacity="0.7" stroke-width="0.7" stroke-linecap="round"/><path d="M96.22 346.02 l2.31 0.14" stroke="#fbeee8" stroke-opacity="0.7" stroke-width="0.7" stroke-linecap="round"/><path d="M90.89 346.93 l1.73 0.22" stroke="#fbeee8" stroke-opacity="0.7" stroke-width="0.7" stroke-linecap="round"/><path d="M135.29 346.15 l1.84 -0.03" stroke="#fbeee8" stroke-opacity="0.7" stroke-width="0.7" stroke-linecap="round"/><path d="M132.22 345.76 l1.16 -0.79" stroke="#fbeee8" stroke-opacity="0.7" stroke-width="0.7" stroke-linecap="round"/><path d="M131.79 341.83 l1.82 0.33" stroke="#fbeee8" stroke-opacity="0.7" stroke-width="0.7" stroke-linecap="round"/><path d="M177.48 346.59 l1.27 -0.36" stroke="#fbeee8" stroke-opacity="0.7" stroke-width="0.7" stroke-linecap="round"/><path d="M176.38 346.8 l2.03 0.48" stroke="#fbeee8" stroke-opacity="0.7" stroke-width="0.7" stroke-linecap="round"/><path d="M176.77 348.84 l1.13 -0.55" stroke="#fbeee8" stroke-opacity="0.7" stroke-width="0.7" stroke-linecap="round"/><path d="M204.89 351.12 l2.03 -0.3" stroke="#fbeee8" stroke-opacity="0.7" stroke-width="0.7" stroke-linecap="round"/><path d="M212.13 343.73 l2.64 -0.1" stroke="#fbeee8" stroke-opacity="0.7" stroke-width="0.7" stroke-linecap="round"/><path d="M205.43 350.73 l2.73 0.48" stroke="#fbeee8" stroke-opacity="0.7" stroke-width="0.7" stroke-linecap="round"/><path d="M250.4 350.12 l2.56 -0.99" stroke="#fbeee8" stroke-opacity="0.7" stroke-width="0.7" stroke-linecap="round"/><path d="M250.26 348.21 l1.13 -0.4" stroke="#fbeee8" stroke-opacity="0.7" stroke-width="0.7" stroke-linecap="round"/><path d="M258.25 345.97 l1.67 -0.67" stroke="#fbeee8" stroke-opacity="0.7" stroke-width="0.7" stroke-linecap="round"/><path d="M102.6 275.35 q2.48 1.94 4.46 -0.1" stroke="#5a1e22" stroke-opacity="0.35" stroke-width="0.9" fill="none" stroke-linecap="round"/><path d="M100.19 278.2 q2.29 0.78 6 1.4" stroke="#5a1e22" stroke-opacity="0.35" stroke-width="0.9" fill="none" stroke-linecap="round"/><path d="M133.75 278.63 q2.35 1.88 6.03 1.34" stroke="#5a1e22" stroke-opacity="0.35" stroke-width="0.9" fill="none" stroke-linecap="round"/><path d="M135.3 272.27 q2.17 1.67 6.14 -1.18" stroke="#5a1e22" stroke-opacity="0.35" stroke-width="0.9" fill="none" stroke-linecap="round"/><path d="M169.66 270.61 q2.4 0.36 5.75 0.82" stroke="#5a1e22" stroke-opacity="0.35" stroke-width="0.9" fill="none" stroke-linecap="round"/><path d="M168.51 278.2 q3.96 1.44 6.97 1.4" stroke="#5a1e22" stroke-opacity="0.35" stroke-width="0.9" fill="none" stroke-linecap="round"/><path d="M210.02 275.7 q2.16 1.69 6.15 -1.57" stroke="#5a1e22" stroke-opacity="0.35" stroke-width="0.9" fill="none" stroke-linecap="round"/><path d="M213.52 278.86 q3.1 -2.27 7.75 -1.77" stroke="#5a1e22" stroke-opacity="0.35" stroke-width="0.9" fill="none" stroke-linecap="round"/><path d="M258.31 273.9 q3.5 2.68 6.12 -1.12" stroke="#5a1e22" stroke-opacity="0.35" stroke-width="0.9" fill="none" stroke-linecap="round"/><path d="M254.6 271.54 q3.54 -0.69 7.79 -1.86" stroke="#5a1e22" stroke-opacity="0.35" stroke-width="0.9" fill="none" stroke-linecap="round"/><path d="M94.94 306.33 q2.72 2.94 4.47 1.94" stroke="#5a1e22" stroke-opacity="0.35" stroke-width="0.9" fill="none" stroke-linecap="round"/><path d="M99.04 312.82 q2.11 -0.17 6.77 -1.62" stroke="#5a1e22" stroke-opacity="0.35" stroke-width="0.9" fill="none" stroke-linecap="round"/><path d="M131.54 306.14 q3.69 2.49 7.69 1" stroke="#5a1e22" stroke-opacity="0.35" stroke-width="0.9" fill="none" stroke-linecap="round"/><path d="M134.31 305.84 q2.96 1.56 7.02 -1.89" stroke="#5a1e22" stroke-opacity="0.35" stroke-width="0.9" fill="none" stroke-linecap="round"/><path d="M166.73 308.73 q3.85 -2.32 5.56 -0.1" stroke="#5a1e22" stroke-opacity="0.35" stroke-width="0.9" fill="none" stroke-linecap="round"/><path d="M175.48 309.21 q2.52 1.63 4.34 -1.34" stroke="#5a1e22" stroke-opacity="0.35" stroke-width="0.9" fill="none" stroke-linecap="round"/><path d="M210.13 314.34 q2.47 0.01 5.52 1.93" stroke="#5a1e22" stroke-opacity="0.35" stroke-width="0.9" fill="none" stroke-linecap="round"/><path d="M217 310.77 q2.98 -1.39 7.36 -1.59" stroke="#5a1e22" stroke-opacity="0.35" stroke-width="0.9" fill="none" stroke-linecap="round"/><path d="M256.43 306.3 q2.55 -0.28 4.76 0.37" stroke="#5a1e22" stroke-opacity="0.35" stroke-width="0.9" fill="none" stroke-linecap="round"/><path d="M250.92 303.54 q2.28 -2.46 7.51 0.04" stroke="#5a1e22" stroke-opacity="0.35" stroke-width="0.9" fill="none" stroke-linecap="round"/><path d="M94.71 347 q2.33 2.71 5.54 -0.16" stroke="#8a4a3c" stroke-opacity="0.35" stroke-width="0.9" fill="none" stroke-linecap="round"/><path d="M92.8 346.16 q3.54 -1.84 7.31 -0.29" stroke="#8a4a3c" stroke-opacity="0.35" stroke-width="0.9" fill="none" stroke-linecap="round"/><path d="M126.82 349.36 q3.74 2.15 5.29 1.66" stroke="#8a4a3c" stroke-opacity="0.35" stroke-width="0.9" fill="none" stroke-linecap="round"/><path d="M132.06 350.42 q3.51 3 5.91 1" stroke="#8a4a3c" stroke-opacity="0.35" stroke-width="0.9" fill="none" stroke-linecap="round"/><path d="M177.43 348.75 q3.01 -0.6 7.47 -0.49" stroke="#8a4a3c" stroke-opacity="0.35" stroke-width="0.9" fill="none" stroke-linecap="round"/><path d="M177.08 349.12 q3.41 -1.14 4.32 0.7" stroke="#8a4a3c" stroke-opacity="0.35" stroke-width="0.9" fill="none" stroke-linecap="round"/><path d="M206.09 346.01 q3.56 -2.71 7.64 0.36" stroke="#8a4a3c" stroke-opacity="0.35" stroke-width="0.9" fill="none" stroke-linecap="round"/><path d="M210.25 349.18 q2.11 -2.87 6.88 0.35" stroke="#8a4a3c" stroke-opacity="0.35" stroke-width="0.9" fill="none" stroke-linecap="round"/><path d="M255.78 350.03 q2.54 -2.03 7.88 -1.76" stroke="#8a4a3c" stroke-opacity="0.35" stroke-width="0.9" fill="none" stroke-linecap="round"/><path d="M254.54 348.03 q3.91 -2.48 6.81 -1.68" stroke="#8a4a3c" stroke-opacity="0.35" stroke-width="0.9" fill="none" stroke-linecap="round"/></g>
<ellipse cx="91.3" cy="339.4" rx="2.6" ry="1.8" fill="#b23a4a" filter="url(#bl3)"/>
<ellipse cx="131.1" cy="345.6" rx="1.6" ry="1.2" fill="#b23a4a" filter="url(#bl3)"/>
<ellipse cx="139.6" cy="343.5" rx="0.9" ry="1.5" fill="#c0304a" filter="url(#bl3)"/>
<ellipse cx="107" cy="273.5" rx="2" ry="0.8" fill="#5a1f22" filter="url(#bl3)"/>
<ellipse cx="146" cy="268.5" rx="2.5" ry="0.9" fill="#6a2525" filter="url(#bl3)"/>
<ellipse cx="103.5" cy="314" rx="2.5" ry="0.9" fill="#5a1f22" filter="url(#bl3)"/>
<line x1="339.5" y1="249.8" x2="339.5" y2="366.2" stroke="#000" stroke-width="1.3"/>
<line x1="335.3" y1="365.6" x2="339.5" y2="365.6" stroke="#000" stroke-width="1.3"/>
<text x="332.7" y="368.9" font-size="9.6" font-weight="bold" text-anchor="end" fill="#000" stroke="#000" stroke-width="0.22">2.5</text>
<line x1="335.3" y1="342.56" x2="339.5" y2="342.56" stroke="#000" stroke-width="1.3"/>
<text x="332.7" y="345.86" font-size="9.6" font-weight="bold" text-anchor="end" fill="#000" stroke="#000" stroke-width="0.22">3.0</text>
<line x1="335.3" y1="319.52" x2="339.5" y2="319.52" stroke="#000" stroke-width="1.3"/>
<text x="332.7" y="322.82" font-size="9.6" font-weight="bold" text-anchor="end" fill="#000" stroke="#000" stroke-width="0.22">3.5</text>
<line x1="335.3" y1="296.48" x2="339.5" y2="296.48" stroke="#000" stroke-width="1.3"/>
<text x="332.7" y="299.78" font-size="9.6" font-weight="bold" text-anchor="end" fill="#000" stroke="#000" stroke-width="0.22">4.0</text>
<line x1="335.3" y1="273.44" x2="339.5" y2="273.44" stroke="#000" stroke-width="1.3"/>
<text x="332.7" y="276.74" font-size="9.6" font-weight="bold" text-anchor="end" fill="#000" stroke="#000" stroke-width="0.22">4.5</text>
<line x1="335.3" y1="250.4" x2="339.5" y2="250.4" stroke="#000" stroke-width="1.3"/>
<text x="332.7" y="253.7" font-size="9.6" font-weight="bold" text-anchor="end" fill="#000" stroke="#000" stroke-width="0.22">5.0</text>
<line x1="338.9" y1="365.6" x2="457.2" y2="365.6" stroke="#000" stroke-width="1.3"/>
<line x1="359.1" y1="365.6" x2="359.1" y2="369" stroke="#000" stroke-width="1.3"/>
<line x1="398.4" y1="365.6" x2="398.4" y2="369" stroke="#000" stroke-width="1.3"/>
<line x1="437.5" y1="365.6" x2="437.5" y2="369" stroke="#000" stroke-width="1.3"/>
<text x="398.3" y="238.9" font-size="9.6" font-weight="bold" text-anchor="middle" fill="#000" stroke="#000" stroke-width="0.22">Cholesterol</text>
<text x="313.1" y="306" font-size="9.7" font-weight="bold" text-anchor="middle" fill="#000" transform="rotate(-90 313.1 306)" stroke="#000" stroke-width="0.22">Relative level</text>
<text x="362.9" y="375.5" font-size="9.5" font-weight="bold" text-anchor="end" fill="#000" transform="rotate(-45 362.9 375.5)" stroke="#000" stroke-width="0.22">H<tspan font-size="0.7em" dy="0.25em">2</tspan><tspan dy="-0.18em">O</tspan></text>
<text x="402.2" y="375.5" font-size="9.5" font-weight="bold" text-anchor="end" fill="#000" transform="rotate(-45 402.2 375.5)" stroke="#000" stroke-width="0.22">60mg/kg</text>
<text x="441.3" y="375.5" font-size="9.5" font-weight="bold" text-anchor="end" fill="#000" transform="rotate(-45 441.3 375.5)" stroke="#000" stroke-width="0.22">150mg/kg</text>
<circle cx="355.4" cy="326.2" r="1.8" stroke="#000" stroke-width="1.1" fill="none"/>
<circle cx="362.6" cy="328.7" r="1.8" stroke="#000" stroke-width="1.1" fill="none"/>
<circle cx="359.1" cy="334.6" r="1.8" stroke="#000" stroke-width="1.1" fill="none"/>
<circle cx="359.1" cy="338.5" r="1.8" stroke="#000" stroke-width="1.1" fill="none"/>
<circle cx="359.1" cy="346" r="1.8" stroke="#000" stroke-width="1.1" fill="none"/>
<line x1="346.1" y1="334.6" x2="372.1" y2="334.6" stroke="#000" stroke-width="1.3"/>
<line x1="359.1" y1="331" x2="359.1" y2="338.5" stroke="#000" stroke-width="1.3"/>
<line x1="352.5" y1="331" x2="365.7" y2="331" stroke="#000" stroke-width="1.3"/>
<line x1="352.5" y1="338.5" x2="365.7" y2="338.5" stroke="#000" stroke-width="1.3"/>
<circle cx="391.3" cy="299.7" r="1.8" stroke="#1c1cff" stroke-width="1.1" fill="none"/>
<circle cx="398.3" cy="297.1" r="1.8" stroke="#1c1cff" stroke-width="1.1" fill="none"/>
<circle cx="405.3" cy="300.9" r="1.8" stroke="#1c1cff" stroke-width="1.1" fill="none"/>
<circle cx="398.3" cy="311.1" r="1.8" stroke="#1c1cff" stroke-width="1.1" fill="none"/>
<circle cx="398.3" cy="315.5" r="1.8" stroke="#1c1cff" stroke-width="1.1" fill="none"/>
<line x1="385.3" y1="305" x2="411.5" y2="305" stroke="#000" stroke-width="1.3"/>
<line x1="398.4" y1="301.5" x2="398.4" y2="308.5" stroke="#000" stroke-width="1.3"/>
<line x1="392.2" y1="301.5" x2="404.6" y2="301.5" stroke="#000" stroke-width="1.3"/>
<line x1="392.2" y1="308.5" x2="404.6" y2="308.5" stroke="#000" stroke-width="1.3"/>
<circle cx="437.6" cy="272.2" r="1.8" stroke="#f0245e" stroke-width="1.1" fill="none"/>
<circle cx="434.1" cy="278.7" r="1.8" stroke="#f0245e" stroke-width="1.1" fill="none"/>
<circle cx="441.1" cy="277.3" r="1.8" stroke="#f0245e" stroke-width="1.1" fill="none"/>
<circle cx="437.6" cy="303.6" r="1.8" stroke="#f0245e" stroke-width="1.1" fill="none"/>
<circle cx="437.6" cy="311.1" r="1.8" stroke="#f0245e" stroke-width="1.1" fill="none"/>
<line x1="424.6" y1="288.7" x2="450.6" y2="288.7" stroke="#000" stroke-width="1.3"/>
<line x1="437.6" y1="281" x2="437.6" y2="296.6" stroke="#000" stroke-width="1.3"/>
<line x1="431" y1="281" x2="444.2" y2="281" stroke="#000" stroke-width="1.3"/>
<line x1="431" y1="296.6" x2="444.2" y2="296.6" stroke="#000" stroke-width="1.3"/>
<polyline points="356,257.8 356,252.4 436.8,252.4 436.8,257.8" stroke="#333" stroke-width="1.2" fill="none"/>
<polyline points="355.5,274.4 355.5,269 399.2,269 399.2,274.4" stroke="#333" stroke-width="1.2" fill="none"/>
<text x="397" y="251.3" font-size="8.5" font-weight="normal" text-anchor="middle" fill="#000">***</text>
<text x="376.8" y="268" font-size="8.5" font-weight="normal" text-anchor="middle" fill="#000">**</text>
<line x1="540" y1="248.3" x2="540" y2="366.4" stroke="#000" stroke-width="1.3"/>
<line x1="535.8" y1="365.8" x2="540" y2="365.8" stroke="#000" stroke-width="1.3"/>
<line x1="535.8" y1="344.76" x2="540" y2="344.76" stroke="#000" stroke-width="1.3"/>
<line x1="535.8" y1="323.72" x2="540" y2="323.72" stroke="#000" stroke-width="1.3"/>
<line x1="535.8" y1="302.68" x2="540" y2="302.68" stroke="#000" stroke-width="1.3"/>
<line x1="535.8" y1="281.64" x2="540" y2="281.64" stroke="#000" stroke-width="1.3"/>
<line x1="535.8" y1="260.6" x2="540" y2="260.6" stroke="#000" stroke-width="1.3"/>
<text x="534" y="369.4" font-size="9.9" font-weight="bold" text-anchor="end" fill="#000" stroke="#000" stroke-width="0.22">0</text>
<text x="529.9" y="348.86" font-size="9.9" font-weight="bold" text-anchor="end" fill="#000" stroke="#000" stroke-width="0.22">2×10</text>
<text x="530.6" y="345.36" font-size="9.9" font-weight="bold" text-anchor="start" fill="#000" stroke="#000" stroke-width="0.22">5</text>
<text x="529.9" y="327.82" font-size="9.9" font-weight="bold" text-anchor="end" fill="#000" stroke="#000" stroke-width="0.22">4×10</text>
<text x="530.6" y="324.32" font-size="9.9" font-weight="bold" text-anchor="start" fill="#000" stroke="#000" stroke-width="0.22">5</text>
<text x="529.9" y="306.78" font-size="9.9" font-weight="bold" text-anchor="end" fill="#000" stroke="#000" stroke-width="0.22">6×10</text>
<text x="530.6" y="303.28" font-size="9.9" font-weight="bold" text-anchor="start" fill="#000" stroke="#000" stroke-width="0.22">5</text>
<text x="529.9" y="285.74" font-size="9.9" font-weight="bold" text-anchor="end" fill="#000" stroke="#000" stroke-width="0.22">8×10</text>
<text x="530.6" y="282.24" font-size="9.9" font-weight="bold" text-anchor="start" fill="#000" stroke="#000" stroke-width="0.22">5</text>
<text x="529.9" y="264.7" font-size="9.9" font-weight="bold" text-anchor="end" fill="#000" stroke="#000" stroke-width="0.22">1×10</text>
<text x="530.6" y="261.2" font-size="9.9" font-weight="bold" text-anchor="start" fill="#000" stroke="#000" stroke-width="0.22">6</text>
<line x1="539.4" y1="365.8" x2="658.8" y2="365.8" stroke="#000" stroke-width="1.3"/>
<line x1="559.5" y1="365.8" x2="559.5" y2="369.2" stroke="#000" stroke-width="1.3"/>
<line x1="598.8" y1="365.8" x2="598.8" y2="369.2" stroke="#000" stroke-width="1.3"/>
<line x1="638.4" y1="365.8" x2="638.4" y2="369.2" stroke="#000" stroke-width="1.3"/>
<text x="597.9" y="236.1" font-size="9.85" font-weight="bold" text-anchor="middle" fill="#000" stroke="#000" stroke-width="0.22">Sphingosine</text>
<text x="502.5" y="302" font-size="9.7" font-weight="bold" text-anchor="middle" fill="#000" transform="rotate(-90 502.5 302)" stroke="#000" stroke-width="0.22">Relative level</text>
<text x="561.5" y="375.6" font-size="9.5" font-weight="bold" text-anchor="end" fill="#000" transform="rotate(-45 561.5 375.6)" stroke="#000" stroke-width="0.22">H<tspan font-size="0.7em" dy="0.25em">2</tspan><tspan dy="-0.18em">O</tspan></text>
<text x="600.8" y="375.6" font-size="9.5" font-weight="bold" text-anchor="end" fill="#000" transform="rotate(-45 600.8 375.6)" stroke="#000" stroke-width="0.22">60mg/kg</text>
<text x="640.4" y="375.6" font-size="9.5" font-weight="bold" text-anchor="end" fill="#000" transform="rotate(-45 640.4 375.6)" stroke="#000" stroke-width="0.22">150mg/kg</text>
<circle cx="552.5" cy="318.6" r="1.8" stroke="#000" stroke-width="1.1" fill="none"/>
<circle cx="559.5" cy="321" r="1.8" stroke="#000" stroke-width="1.1" fill="none"/>
<circle cx="559.5" cy="326.6" r="1.8" stroke="#000" stroke-width="1.1" fill="none"/>
<circle cx="566.4" cy="316.6" r="1.8" stroke="#000" stroke-width="1.1" fill="none"/>
<circle cx="563.5" cy="320.6" r="1.8" stroke="#000" stroke-width="1.1" fill="none"/>
<line x1="546.5" y1="320.8" x2="572.5" y2="320.8" stroke="#000" stroke-width="1.3"/>
<line x1="559.5" y1="319.3" x2="559.5" y2="322.3" stroke="#000" stroke-width="1.3"/>
<line x1="553" y1="319.3" x2="566" y2="319.3" stroke="#000" stroke-width="1.3"/>
<line x1="553" y1="322.3" x2="566" y2="322.3" stroke="#000" stroke-width="1.3"/>
<circle cx="598.9" cy="282.4" r="1.8" stroke="#1c1cff" stroke-width="1.1" fill="none"/>
<circle cx="595" cy="295.4" r="1.8" stroke="#1c1cff" stroke-width="1.1" fill="none"/>
<circle cx="602.9" cy="293.9" r="1.8" stroke="#1c1cff" stroke-width="1.1" fill="none"/>
<circle cx="602.9" cy="298.8" r="1.8" stroke="#1c1cff" stroke-width="1.1" fill="none"/>
<circle cx="598.9" cy="302.1" r="1.8" stroke="#1c1cff" stroke-width="1.1" fill="none"/>
<line x1="585.9" y1="294.5" x2="611.9" y2="294.5" stroke="#000" stroke-width="1.3"/>
<line x1="598.9" y1="291.2" x2="598.9" y2="298.1" stroke="#000" stroke-width="1.3"/>
<line x1="592.5" y1="291.2" x2="605.3" y2="291.2" stroke="#000" stroke-width="1.3"/>
<line x1="592.5" y1="298.1" x2="605.3" y2="298.1" stroke="#000" stroke-width="1.3"/>
<circle cx="638.5" cy="260.1" r="1.8" stroke="#ff1a1a" stroke-width="1.1" fill="none"/>
<circle cx="634.8" cy="278.4" r="1.8" stroke="#ff1a1a" stroke-width="1.1" fill="none"/>
<circle cx="642.1" cy="277.1" r="1.8" stroke="#ff1a1a" stroke-width="1.1" fill="none"/>
<circle cx="634.8" cy="293.5" r="1.8" stroke="#ff1a1a" stroke-width="1.1" fill="none"/>
<circle cx="642.1" cy="292.4" r="1.8" stroke="#ff1a1a" stroke-width="1.1" fill="none"/>
<line x1="625.4" y1="280.2" x2="651.6" y2="280.2" stroke="#000" stroke-width="1.3"/>
<line x1="638.5" y1="274.2" x2="638.5" y2="286.2" stroke="#000" stroke-width="1.3"/>
<line x1="632.1" y1="274.2" x2="644.9" y2="274.2" stroke="#000" stroke-width="1.3"/>
<line x1="632.1" y1="286.2" x2="644.9" y2="286.2" stroke="#000" stroke-width="1.3"/>
<polyline points="557.1,254.2 557.1,248.6 638.1,248.6 638.1,254.2" stroke="#333" stroke-width="1.2" fill="none"/>
<polyline points="557.1,269 557.1,263.4 600.4,263.4 600.4,269" stroke="#333" stroke-width="1.2" fill="none"/>
<text x="599.2" y="247.6" font-size="8.5" font-weight="normal" text-anchor="middle" fill="#000">***</text>
<text x="579.8" y="262.7" font-size="8.5" font-weight="normal" text-anchor="middle" fill="#000">**</text>
<text x="86.6" y="471.2" font-size="11.3" font-weight="normal" text-anchor="middle" fill="#000">H<tspan font-size="0.7em" dy="0.25em">2</tspan><tspan dy="-0.18em">O</tspan></text>
<text x="196.7" y="471.2" font-size="11.25" font-weight="normal" text-anchor="middle" fill="#1c1cff">60mg/kg</text>
<text x="303.7" y="471.2" font-size="11.25" font-weight="normal" text-anchor="middle" fill="#ff1a1a">150mg/kg</text>
<text x="31.2" y="509.8" font-size="10.9" font-weight="normal" text-anchor="middle" fill="#000" transform="rotate(-90 31.2 509.8)">20X</text>
<text x="31.2" y="575.8" font-size="10.9" font-weight="normal" text-anchor="middle" fill="#000" transform="rotate(-90 31.2 575.8)">40X</text>
<defs><filter id="nz1" x="0" y="0" width="100%" height="100%"><feTurbulence type="fractalNoise" baseFrequency="0.22" numOctaves="2" seed="3"/><feColorMatrix values="0 0 0 0 1  0 0 0 0 0.95  0 0 0 0 1  0 0 0 1.6 -0.75"/></filter><filter id="nz2" x="0" y="0" width="100%" height="100%"><feTurbulence type="fractalNoise" baseFrequency="0.5" numOctaves="1" seed="9"/><feColorMatrix values="0 0 0 0 0.55  0 0 0 0 0.3  0 0 0 0 0.72  0 0 0 2.2 -1.05"/></filter></defs>
<rect x="35.2" y="477" width="104.8" height="64.5" fill="#df9bcc"/>
<rect x="35.2" y="477" width="104.8" height="64.5" filter="url(#nz1)" opacity="0.55"/>
<rect x="35.2" y="477" width="104.8" height="64.5" filter="url(#nz2)" opacity="0.6"/>
<g fill="#7e40ae" fill-opacity="0.58"><circle cx="51.0" cy="506.4" r="0.78"/><circle cx="49.6" cy="501.6" r="0.74"/><circle cx="46.4" cy="501.4" r="0.67"/><circle cx="54.7" cy="508.5" r="0.75"/><circle cx="52.0" cy="509.8" r="0.76"/><circle cx="52.9" cy="500.8" r="0.76"/><circle cx="43.6" cy="504.4" r="0.58"/><circle cx="45.0" cy="509.9" r="0.90"/><circle cx="54.6" cy="513.9" r="0.96"/><circle cx="46.0" cy="498.0" r="0.71"/><circle cx="47.2" cy="505.7" r="0.60"/><circle cx="56.9" cy="500.7" r="0.70"/><circle cx="54.8" cy="504.8" r="0.90"/><circle cx="60.3" cy="505.4" r="0.72"/><circle cx="48.8" cy="510.0" r="0.91"/><circle cx="57.3" cy="510.7" r="0.70"/><circle cx="43.1" cy="494.3" r="0.89"/><circle cx="43.0" cy="501.3" r="0.97"/><circle cx="58.4" cy="507.9" r="0.58"/><circle cx="49.9" cy="497.0" r="0.95"/><circle cx="54.1" cy="497.8" r="0.55"/><circle cx="41.1" cy="508.8" r="0.98"/><circle cx="52.6" cy="516.6" r="0.80"/><circle cx="52.2" cy="494.8" r="0.74"/><circle cx="41.0" cy="514.0" r="0.72"/><circle cx="48.4" cy="513.1" r="0.96"/><circle cx="44.7" cy="513.6" r="0.89"/><circle cx="49.1" cy="516.3" r="0.76"/><circle cx="38.4" cy="504.9" r="0.57"/><circle cx="62.4" cy="510.2" r="0.91"/><circle cx="46.5" cy="494.1" r="0.89"/><circle cx="40.2" cy="518.1" r="0.85"/><circle cx="59.5" cy="512.7" r="0.63"/><circle cx="56.6" cy="493.7" r="0.98"/><circle cx="62.7" cy="507.3" r="0.74"/><circle cx="43.2" cy="518.2" r="0.84"/><circle cx="42.2" cy="497.7" r="0.76"/><circle cx="41.8" cy="522.5" r="0.62"/><circle cx="59.1" cy="497.7" r="0.85"/><circle cx="37.7" cy="511.8" r="0.98"/><circle cx="51.3" cy="513.9" r="0.73"/><circle cx="45.7" cy="519.9" r="0.82"/><circle cx="66.6" cy="508.3" r="0.88"/><circle cx="49.4" cy="520.1" r="0.97"/><circle cx="63.0" cy="513.5" r="0.74"/><circle cx="45.4" cy="523.9" r="0.78"/><circle cx="65.7" cy="512.1" r="0.79"/><circle cx="37.5" cy="501.9" r="0.97"/><circle cx="54.7" cy="520.1" r="0.75"/><circle cx="70.2" cy="509.4" r="0.87"/><circle cx="48.4" cy="525.1" r="0.93"/><circle cx="69.2" cy="513.1" r="0.75"/><circle cx="48.8" cy="492.0" r="0.95"/><circle cx="54.5" cy="491.6" r="0.82"/><circle cx="36.7" cy="508.0" r="0.60"/><circle cx="39.6" cy="499.9" r="0.67"/><circle cx="60.6" cy="494.2" r="0.72"/><circle cx="49.7" cy="488.5" r="0.88"/><circle cx="71.9" cy="506.1" r="0.80"/><circle cx="61.6" cy="501.8" r="0.92"/><circle cx="36.1" cy="498.9" r="0.57"/><circle cx="58.0" cy="518.3" r="0.89"/><circle cx="37.4" cy="495.9" r="0.88"/><circle cx="64.0" cy="499.8" r="0.92"/><circle cx="65.3" cy="503.2" r="0.67"/><circle cx="54.9" cy="524.6" r="0.77"/><circle cx="58.4" cy="488.9" r="0.78"/><circle cx="38.0" cy="521.7" r="0.87"/><circle cx="46.0" cy="490.5" r="0.78"/><circle cx="71.8" cy="502.9" r="0.59"/><circle cx="54.2" cy="530.0" r="0.79"/><circle cx="74.0" cy="510.4" r="0.95"/><circle cx="75.9" cy="504.3" r="0.66"/><circle cx="36.5" cy="515.3" r="0.67"/><circle cx="57.4" cy="522.1" r="0.69"/><circle cx="68.8" cy="501.4" r="0.93"/><circle cx="37.3" cy="525.6" r="0.78"/><circle cx="40.3" cy="493.2" r="0.56"/><circle cx="41.9" cy="489.4" r="0.69"/><circle cx="65.2" cy="495.9" r="0.91"/><circle cx="48.2" cy="485.4" r="0.81"/><circle cx="65.2" cy="515.6" r="0.72"/><circle cx="38.7" cy="487.9" r="0.78"/><circle cx="77.0" cy="510.3" r="0.73"/><circle cx="51.4" cy="523.7" r="0.60"/><circle cx="45.6" cy="516.4" r="0.93"/><circle cx="76.8" cy="515.4" r="0.94"/><circle cx="67.9" cy="504.6" r="0.64"/><circle cx="70.7" cy="496.6" r="0.76"/><circle cx="72.9" cy="499.0" r="0.69"/><circle cx="67.8" cy="497.7" r="0.91"/><circle cx="36.6" cy="518.8" r="0.67"/><circle cx="54.1" cy="487.6" r="0.60"/><circle cx="56.6" cy="485.6" r="0.57"/><circle cx="41.6" cy="485.7" r="0.75"/><circle cx="61.9" cy="521.8" r="0.69"/><circle cx="59.3" cy="484.1" r="0.77"/><circle cx="51.1" cy="529.4" r="0.89"/><circle cx="57.7" cy="526.1" r="0.95"/><circle cx="61.7" cy="516.4" r="0.99"/><circle cx="56.5" cy="532.0" r="0.92"/><circle cx="63.4" cy="492.5" r="0.85"/><circle cx="57.3" cy="529.0" r="0.89"/><circle cx="43.6" cy="527.3" r="0.86"/><circle cx="46.8" cy="528.3" r="0.82"/><circle cx="69.3" cy="492.4" r="0.81"/><circle cx="58.0" cy="515.3" r="0.77"/><circle cx="40.6" cy="527.5" r="0.58"/><circle cx="61.6" cy="525.5" r="0.84"/><circle cx="36.5" cy="491.1" r="0.63"/><circle cx="37.4" cy="483.2" r="0.68"/><circle cx="64.2" cy="519.8" r="0.87"/><circle cx="38.1" cy="529.4" r="0.77"/><circle cx="59.7" cy="530.9" r="0.70"/><circle cx="61.9" cy="489.9" r="0.60"/><circle cx="79.6" cy="508.8" r="0.82"/><circle cx="37.5" cy="533.9" r="0.83"/><circle cx="44.8" cy="486.2" r="0.72"/><circle cx="74.7" cy="501.6" r="0.80"/><circle cx="62.9" cy="530.8" r="0.97"/><circle cx="55.1" cy="536.8" r="0.88"/><circle cx="38.6" cy="537.7" r="1.00"/><circle cx="68.3" cy="516.9" r="0.57"/><circle cx="52.0" cy="535.4" r="0.70"/><circle cx="73.7" cy="517.5" r="1.00"/><circle cx="65.4" cy="487.5" r="0.77"/><circle cx="41.5" cy="532.3" r="0.61"/><circle cx="50.6" cy="532.8" r="0.98"/><circle cx="62.4" cy="485.4" r="0.75"/><circle cx="46.8" cy="532.7" r="0.79"/><circle cx="82.8" cy="512.8" r="0.67"/><circle cx="66.1" cy="491.4" r="0.77"/><circle cx="68.9" cy="520.2" r="0.56"/><circle cx="51.3" cy="484.9" r="0.93"/><circle cx="66.3" cy="524.4" r="0.60"/><circle cx="50.9" cy="539.8" r="0.80"/><circle cx="58.1" cy="537.3" r="0.77"/><circle cx="40.5" cy="481.0" r="0.77"/><circle cx="61.0" cy="538.4" r="0.76"/><circle cx="73.9" cy="490.2" r="0.79"/><circle cx="44.4" cy="536.1" r="0.98"/><circle cx="67.8" cy="482.9" r="0.58"/><circle cx="48.3" cy="536.2" r="0.94"/><circle cx="59.8" cy="534.8" r="0.95"/><circle cx="62.6" cy="533.8" r="0.81"/><circle cx="71.2" cy="482.3" r="0.77"/><circle cx="65.6" cy="534.9" r="0.99"/><circle cx="71.8" cy="520.4" r="0.63"/><circle cx="49.5" cy="482.4" r="0.69"/><circle cx="36.9" cy="479.0" r="0.98"/><circle cx="43.4" cy="481.4" r="0.92"/><circle cx="44.1" cy="530.3" r="0.86"/><circle cx="67.9" cy="478.1" r="0.83"/><circle cx="75.6" cy="520.8" r="0.57"/><circle cx="65.8" cy="538.4" r="0.58"/><circle cx="63.7" cy="540.6" r="0.79"/><circle cx="71.7" cy="487.3" r="0.77"/><circle cx="64.8" cy="483.5" r="0.99"/><circle cx="46.3" cy="481.9" r="0.63"/><circle cx="66.0" cy="527.9" r="0.78"/><circle cx="46.0" cy="478.8" r="0.59"/><circle cx="61.7" cy="481.6" r="0.94"/><circle cx="76.1" cy="494.2" r="0.85"/><circle cx="78.8" cy="501.5" r="0.82"/><circle cx="73.0" cy="493.8" r="0.67"/><circle cx="66.2" cy="531.5" r="0.72"/><circle cx="85.4" cy="510.6" r="0.82"/><circle cx="45.9" cy="540.3" r="0.72"/><circle cx="72.4" cy="523.2" r="0.58"/><circle cx="69.3" cy="540.0" r="0.59"/><circle cx="81.6" cy="505.0" r="0.63"/><circle cx="69.8" cy="530.5" r="0.71"/><circle cx="69.0" cy="536.7" r="0.99"/><circle cx="77.2" cy="497.5" r="0.66"/><circle cx="54.7" cy="540.0" r="0.72"/><circle cx="58.1" cy="540.6" r="0.98"/><circle cx="54.6" cy="482.5" r="0.62"/><circle cx="75.0" cy="507.5" r="0.55"/><circle cx="77.8" cy="487.0" r="0.85"/><circle cx="71.4" cy="527.1" r="0.57"/><circle cx="78.8" cy="512.9" r="0.80"/><circle cx="43.1" cy="478.2" r="0.66"/><circle cx="72.5" cy="513.8" r="0.66"/><circle cx="57.4" cy="481.8" r="0.91"/><circle cx="84.8" cy="507.2" r="0.71"/><circle cx="71.1" cy="534.4" r="0.72"/><circle cx="74.8" cy="529.4" r="0.75"/><circle cx="82.1" cy="499.3" r="0.76"/><circle cx="80.0" cy="524.3" r="0.61"/><circle cx="84.3" cy="503.0" r="0.76"/><circle cx="41.3" cy="535.4" r="0.82"/><circle cx="81.1" cy="489.5" r="0.86"/><circle cx="87.2" cy="501.9" r="0.93"/><circle cx="75.1" cy="532.3" r="0.79"/><circle cx="79.2" cy="517.8" r="0.60"/><circle cx="68.5" cy="488.6" r="0.89"/><circle cx="89.7" cy="503.4" r="0.66"/><circle cx="75.2" cy="484.8" r="0.73"/><circle cx="53.9" cy="479.3" r="0.96"/><circle cx="84.8" cy="516.5" r="0.74"/><circle cx="85.3" cy="497.8" r="0.58"/><circle cx="42.6" cy="540.5" r="0.61"/><circle cx="81.2" cy="494.1" r="0.57"/><circle cx="78.6" cy="481.5" r="0.81"/><circle cx="72.8" cy="538.9" r="0.85"/><circle cx="76.0" cy="538.9" r="0.93"/><circle cx="56.8" cy="477.8" r="0.84"/><circle cx="64.9" cy="479.4" r="0.90"/><circle cx="75.5" cy="535.5" r="0.95"/><circle cx="81.4" cy="537.5" r="0.88"/><circle cx="83.5" cy="492.3" r="0.69"/><circle cx="79.9" cy="532.5" r="0.70"/><circle cx="79.4" cy="540.4" r="0.87"/><circle cx="80.2" cy="528.4" r="0.79"/><circle cx="88.0" cy="509.0" r="0.63"/><circle cx="82.8" cy="480.2" r="0.75"/><circle cx="89.0" cy="498.2" r="0.91"/><circle cx="84.5" cy="525.4" r="0.67"/><circle cx="73.5" cy="479.9" r="0.64"/><circle cx="50.1" cy="479.4" r="0.98"/><circle cx="91.3" cy="507.5" r="0.94"/><circle cx="77.9" cy="490.3" r="0.72"/><circle cx="87.6" cy="514.1" r="0.77"/><circle cx="86.3" cy="493.8" r="0.60"/><circle cx="89.1" cy="492.6" r="0.88"/><circle cx="76.5" cy="478.7" r="0.90"/><circle cx="86.1" cy="534.6" r="0.77"/><circle cx="60.2" cy="478.3" r="0.71"/><circle cx="95.9" cy="508.4" r="0.91"/><circle cx="74.6" cy="525.8" r="0.92"/><circle cx="78.6" cy="521.7" r="0.71"/><circle cx="91.4" cy="512.8" r="0.82"/><circle cx="77.5" cy="526.0" r="0.72"/><circle cx="89.6" cy="517.2" r="0.95"/><circle cx="82.2" cy="519.7" r="0.75"/><circle cx="83.0" cy="534.9" r="0.82"/><circle cx="98.9" cy="510.1" r="0.69"/><circle cx="86.3" cy="539.9" r="0.61"/><circle cx="93.6" cy="493.5" r="0.58"/><circle cx="88.1" cy="536.8" r="0.56"/><circle cx="82.7" cy="531.7" r="0.69"/><circle cx="88.4" cy="488.5" r="0.80"/><circle cx="85.9" cy="480.7" r="0.94"/><circle cx="85.3" cy="490.1" r="0.94"/><circle cx="83.8" cy="486.8" r="0.72"/><circle cx="69.4" cy="524.1" r="0.59"/><circle cx="93.6" cy="518.5" r="0.78"/><circle cx="93.9" cy="504.6" r="0.90"/><circle cx="88.2" cy="485.4" r="0.75"/><circle cx="100.3" cy="507.4" r="0.69"/><circle cx="80.8" cy="483.7" r="0.61"/><circle cx="93.0" cy="501.3" r="0.82"/><circle cx="96.0" cy="502.1" r="0.91"/><circle cx="86.1" cy="530.0" r="0.94"/><circle cx="80.5" cy="478.4" r="0.91"/><circle cx="77.6" cy="530.6" r="0.67"/><circle cx="78.4" cy="536.5" r="0.56"/><circle cx="97.2" cy="489.0" r="0.77"/><circle cx="85.1" cy="520.4" r="0.70"/><circle cx="95.8" cy="513.1" r="0.94"/><circle cx="97.4" cy="505.7" r="0.69"/><circle cx="97.9" cy="496.3" r="0.73"/><circle cx="101.6" cy="493.5" r="0.78"/><circle cx="83.4" cy="528.8" r="0.68"/><circle cx="89.5" cy="521.1" r="0.78"/><circle cx="95.4" cy="498.3" r="0.68"/><circle cx="92.1" cy="522.4" r="0.75"/><circle cx="99.1" cy="501.8" r="0.89"/><circle cx="102.3" cy="505.3" r="0.77"/><circle cx="89.1" cy="479.4" r="0.62"/><circle cx="89.7" cy="527.5" r="0.97"/><circle cx="102.2" cy="486.4" r="1.00"/><circle cx="88.8" cy="524.5" r="0.79"/><circle cx="101.1" cy="498.1" r="0.86"/><circle cx="102.8" cy="501.0" r="0.85"/><circle cx="92.5" cy="480.2" r="0.65"/><circle cx="91.9" cy="496.5" r="0.59"/><circle cx="85.2" cy="483.6" r="0.80"/><circle cx="93.1" cy="485.8" r="0.95"/><circle cx="96.3" cy="521.7" r="0.58"/><circle cx="96.1" cy="483.2" r="0.57"/><circle cx="106.6" cy="504.7" r="0.71"/><circle cx="92.3" cy="489.6" r="0.89"/><circle cx="92.4" cy="526.3" r="0.83"/><circle cx="89.3" cy="530.9" r="0.85"/><circle cx="96.6" cy="516.0" r="0.63"/><circle cx="106.5" cy="496.3" r="0.88"/><circle cx="89.7" cy="534.1" r="0.91"/><circle cx="103.1" cy="490.4" r="0.73"/><circle cx="89.3" cy="482.3" r="0.63"/><circle cx="109.7" cy="492.2" r="0.80"/><circle cx="99.2" cy="518.8" r="0.96"/><circle cx="93.1" cy="535.1" r="0.86"/><circle cx="104.9" cy="493.6" r="0.98"/><circle cx="101.7" cy="520.9" r="0.97"/><circle cx="101.5" cy="514.3" r="0.59"/><circle cx="105.6" cy="510.8" r="0.78"/><circle cx="93.3" cy="509.9" r="0.64"/><circle cx="105.8" cy="483.0" r="0.83"/><circle cx="107.3" cy="519.7" r="0.60"/><circle cx="97.6" cy="479.9" r="0.84"/><circle cx="93.3" cy="515.5" r="0.90"/><circle cx="102.2" cy="517.7" r="0.98"/><circle cx="105.9" cy="500.7" r="0.88"/><circle cx="96.0" cy="486.2" r="0.95"/><circle cx="100.4" cy="483.7" r="0.80"/><circle cx="102.5" cy="509.4" r="0.92"/><circle cx="93.5" cy="531.8" r="0.74"/><circle cx="107.0" cy="490.7" r="0.73"/><circle cx="111.3" cy="487.9" r="0.72"/><circle cx="109.9" cy="502.6" r="0.81"/><circle cx="111.7" cy="521.7" r="0.83"/><circle cx="111.1" cy="498.2" r="0.77"/><circle cx="114.4" cy="487.9" r="0.81"/><circle cx="96.2" cy="533.4" r="0.98"/><circle cx="113.6" cy="492.6" r="0.81"/><circle cx="91.0" cy="537.1" r="0.93"/><circle cx="99.2" cy="533.1" r="0.73"/><circle cx="103.6" cy="532.9" r="0.63"/><circle cx="109.2" cy="524.5" r="0.96"/><circle cx="98.0" cy="492.8" r="0.59"/><circle cx="97.3" cy="530.6" r="0.72"/><circle cx="112.0" cy="528.4" r="0.61"/><circle cx="100.6" cy="525.4" r="0.66"/><circle cx="100.7" cy="530.1" r="0.61"/><circle cx="98.3" cy="536.3" r="0.95"/><circle cx="102.0" cy="537.1" r="0.88"/><circle cx="101.0" cy="479.7" r="0.75"/><circle cx="105.3" cy="479.5" r="0.77"/><circle cx="93.8" cy="528.9" r="0.64"/><circle cx="100.1" cy="489.7" r="0.67"/><circle cx="105.5" cy="486.5" r="0.66"/><circle cx="109.3" cy="531.0" r="0.74"/><circle cx="96.3" cy="527.2" r="0.60"/><circle cx="93.6" cy="539.3" r="0.61"/><circle cx="108.6" cy="485.5" r="0.57"/><circle cx="113.1" cy="501.1" r="0.93"/><circle cx="116.1" cy="501.2" r="0.83"/><circle cx="104.9" cy="526.9" r="0.74"/><circle cx="107.6" cy="514.5" r="0.74"/><circle cx="114.8" cy="520.8" r="0.59"/><circle cx="109.9" cy="510.3" r="0.57"/><circle cx="111.3" cy="483.0" r="0.79"/><circle cx="111.5" cy="507.7" r="0.99"/><circle cx="117.0" cy="496.8" r="0.92"/><circle cx="112.5" cy="518.3" r="0.86"/><circle cx="120.6" cy="495.3" r="0.61"/><circle cx="105.8" cy="531.0" r="0.58"/><circle cx="110.1" cy="480.0" r="0.66"/><circle cx="108.6" cy="507.2" r="0.72"/><circle cx="104.2" cy="524.0" r="0.96"/><circle cx="112.9" cy="515.0" r="0.60"/><circle cx="104.5" cy="515.8" r="0.77"/><circle cx="112.6" cy="504.3" r="0.86"/><circle cx="118.3" cy="524.1" r="0.94"/><circle cx="114.5" cy="498.4" r="0.81"/><circle cx="113.9" cy="525.5" r="0.58"/><circle cx="97.5" cy="524.4" r="0.70"/><circle cx="124.4" cy="498.2" r="0.99"/><circle cx="113.6" cy="511.2" r="0.90"/><circle cx="96.8" cy="540.0" r="0.89"/><circle cx="118.7" cy="518.0" r="0.89"/><circle cx="119.1" cy="498.9" r="0.62"/><circle cx="121.9" cy="491.2" r="0.82"/><circle cx="99.2" cy="486.9" r="0.62"/><circle cx="126.8" cy="494.9" r="0.83"/><circle cx="114.9" cy="507.8" r="0.68"/><circle cx="116.7" cy="515.8" r="0.83"/><circle cx="121.5" cy="524.5" r="0.58"/><circle cx="115.9" cy="484.3" r="0.57"/><circle cx="90.9" cy="540.5" r="0.90"/><circle cx="116.2" cy="530.5" r="0.90"/><circle cx="128.0" cy="502.8" r="0.65"/><circle cx="118.1" cy="512.9" r="0.56"/><circle cx="116.7" cy="527.2" r="0.66"/><circle cx="100.6" cy="539.8" r="0.98"/><circle cx="113.3" cy="531.6" r="0.83"/><circle cx="119.2" cy="485.4" r="0.69"/><circle cx="124.8" cy="487.7" r="0.67"/><circle cx="116.9" cy="504.1" r="0.96"/><circle cx="105.0" cy="535.9" r="0.98"/><circle cx="131.9" cy="499.1" r="0.55"/><circle cx="109.7" cy="517.0" r="0.55"/><circle cx="119.2" cy="506.9" r="0.63"/><circle cx="119.1" cy="491.9" r="0.58"/><circle cx="110.2" cy="534.2" r="0.56"/><circle cx="110.3" cy="513.3" r="0.60"/><circle cx="122.5" cy="505.2" r="0.67"/><circle cx="112.2" cy="477.9" r="0.77"/><circle cx="105.1" cy="539.3" r="0.89"/><circle cx="115.4" cy="480.7" r="0.73"/><circle cx="121.7" cy="521.3" r="0.76"/><circle cx="126.2" cy="490.7" r="0.62"/><circle cx="129.5" cy="493.8" r="0.66"/><circle cx="117.5" cy="535.5" r="0.67"/><circle cx="125.1" cy="508.8" r="0.99"/><circle cx="128.7" cy="497.3" r="0.75"/><circle cx="118.8" cy="481.8" r="0.94"/><circle cx="125.6" cy="523.1" r="0.98"/><circle cx="122.6" cy="515.4" r="0.64"/><circle cx="126.6" cy="518.7" r="0.77"/><circle cx="117.5" cy="509.4" r="0.73"/><circle cx="108.1" cy="537.9" r="0.82"/><circle cx="123.6" cy="483.2" r="0.77"/><circle cx="118.1" cy="478.7" r="0.98"/><circle cx="119.4" cy="529.0" r="0.88"/><circle cx="116.7" cy="493.6" r="0.94"/><circle cx="117.8" cy="521.1" r="0.92"/><circle cx="118.5" cy="489.0" r="0.74"/><circle cx="111.6" cy="538.6" r="0.89"/><circle cx="127.6" cy="505.7" r="0.74"/><circle cx="124.6" cy="501.4" r="0.67"/><circle cx="123.0" cy="535.0" r="0.58"/><circle cx="122.9" cy="518.4" r="0.57"/><circle cx="131.0" cy="503.3" r="0.99"/><circle cx="111.5" cy="495.2" r="0.55"/><circle cx="107.3" cy="533.9" r="0.77"/><circle cx="133.1" cy="506.0" r="0.67"/><circle cx="119.1" cy="532.6" r="0.64"/><circle cx="103.1" cy="481.7" r="0.68"/><circle cx="119.8" cy="503.1" r="0.98"/><circle cx="122.4" cy="528.1" r="0.99"/><circle cx="127.8" cy="487.4" r="0.96"/><circle cx="123.0" cy="531.2" r="0.78"/><circle cx="123.4" cy="479.4" r="0.67"/><circle cx="128.4" cy="536.5" r="0.58"/><circle cx="134.8" cy="501.7" r="0.58"/><circle cx="126.1" cy="527.8" r="0.59"/><circle cx="127.3" cy="515.0" r="0.98"/><circle cx="121.7" cy="510.7" r="0.62"/><circle cx="121.8" cy="500.1" r="0.59"/><circle cx="123.5" cy="539.2" r="0.89"/><circle cx="128.8" cy="526.4" r="0.66"/><circle cx="127.8" cy="511.0" r="0.99"/><circle cx="131.0" cy="511.9" r="0.78"/><circle cx="131.7" cy="486.0" r="0.71"/><circle cx="125.0" cy="512.7" r="0.93"/><circle cx="116.3" cy="540.1" r="0.85"/><circle cx="126.3" cy="531.8" r="0.69"/><circle cx="127.6" cy="480.8" r="0.87"/><circle cx="132.2" cy="491.1" r="0.58"/><circle cx="136.6" cy="505.1" r="0.96"/><circle cx="130.2" cy="507.1" r="0.58"/><circle cx="121.7" cy="487.8" r="0.64"/><circle cx="129.8" cy="529.8" r="0.75"/><circle cx="132.2" cy="525.9" r="0.87"/><circle cx="108.1" cy="527.6" r="0.66"/><circle cx="131.8" cy="521.5" r="0.72"/><circle cx="132.7" cy="509.4" r="0.70"/><circle cx="133.0" cy="530.8" r="0.98"/><circle cx="134.8" cy="512.5" r="0.63"/><circle cx="135.9" cy="489.5" r="0.66"/><circle cx="132.4" cy="481.3" r="0.73"/><circle cx="135.7" cy="508.1" r="0.97"/><circle cx="131.9" cy="538.6" r="0.98"/><circle cx="130.7" cy="533.1" r="0.90"/><circle cx="132.0" cy="517.2" r="0.70"/><circle cx="114.8" cy="534.5" r="0.80"/><circle cx="130.0" cy="483.0" r="0.66"/><circle cx="120.3" cy="538.2" r="0.73"/><circle cx="133.9" cy="493.9" r="0.58"/><circle cx="128.4" cy="539.4" r="0.56"/><circle cx="128.8" cy="522.8" r="0.84"/><circle cx="139.0" cy="502.1" r="0.81"/><circle cx="135.0" cy="521.8" r="0.64"/><circle cx="134.0" cy="535.3" r="0.89"/><circle cx="138.1" cy="533.1" r="0.64"/><circle cx="136.7" cy="479.8" r="0.73"/><circle cx="138.1" cy="483.3" r="1.00"/><circle cx="126.7" cy="483.6" r="0.82"/><circle cx="133.3" cy="478.4" r="0.99"/><circle cx="129.8" cy="478.0" r="0.89"/><circle cx="137.2" cy="537.9" r="0.69"/><circle cx="138.2" cy="491.6" r="0.88"/><circle cx="135.8" cy="486.3" r="0.70"/><circle cx="139.1" cy="486.5" r="0.81"/><circle cx="134.8" cy="497.0" r="0.88"/><circle cx="137.8" cy="512.1" r="0.58"/><circle cx="136.7" cy="528.9" r="0.76"/><circle cx="136.6" cy="515.6" r="0.71"/><circle cx="130.6" cy="488.7" r="0.69"/><circle cx="137.4" cy="523.9" r="0.57"/><circle cx="134.6" cy="540.6" r="0.90"/><circle cx="138.9" cy="526.7" r="0.99"/><circle cx="138.6" cy="518.6" r="0.89"/><circle cx="137.7" cy="499.3" r="0.76"/><circle cx="126.8" cy="477.9" r="0.84"/><circle cx="138.8" cy="495.6" r="0.57"/></g>
<rect x="142.9" y="477" width="105.1" height="64.5" fill="#e6a7d1"/>
<rect x="142.9" y="477" width="105.1" height="64.5" filter="url(#nz1)" opacity="0.55"/>
<rect x="142.9" y="477" width="105.1" height="64.5" filter="url(#nz2)" opacity="0.6"/>
<g fill="#7e40ae" fill-opacity="0.58"><circle cx="203.8" cy="490.1" r="0.87"/><circle cx="199.1" cy="491.0" r="0.82"/><circle cx="199.4" cy="486.7" r="0.69"/><circle cx="200.2" cy="494.0" r="0.63"/><circle cx="196.7" cy="488.2" r="0.78"/><circle cx="199.2" cy="497.0" r="0.62"/><circle cx="194.6" cy="483.8" r="0.89"/><circle cx="198.0" cy="484.2" r="0.63"/><circle cx="199.1" cy="480.4" r="0.84"/><circle cx="203.7" cy="497.3" r="0.71"/><circle cx="203.5" cy="486.3" r="0.57"/><circle cx="193.6" cy="491.8" r="0.73"/><circle cx="195.9" cy="480.0" r="0.85"/><circle cx="205.6" cy="492.5" r="0.65"/><circle cx="207.3" cy="488.6" r="0.67"/><circle cx="190.9" cy="494.9" r="0.86"/><circle cx="196.9" cy="493.0" r="0.59"/><circle cx="209.2" cy="486.2" r="0.83"/><circle cx="200.8" cy="482.9" r="0.67"/><circle cx="206.3" cy="502.2" r="0.84"/><circle cx="203.7" cy="480.2" r="0.99"/><circle cx="206.9" cy="481.9" r="0.63"/><circle cx="192.4" cy="480.3" r="0.69"/><circle cx="206.4" cy="485.4" r="0.99"/><circle cx="209.4" cy="480.4" r="0.77"/><circle cx="206.3" cy="478.6" r="0.83"/><circle cx="212.6" cy="482.1" r="0.67"/><circle cx="202.3" cy="500.9" r="0.77"/><circle cx="187.1" cy="482.1" r="0.97"/><circle cx="211.5" cy="488.3" r="0.90"/><circle cx="208.6" cy="496.4" r="0.62"/><circle cx="196.9" cy="502.8" r="0.84"/><circle cx="193.8" cy="494.8" r="0.72"/><circle cx="196.2" cy="497.2" r="0.86"/><circle cx="204.2" cy="506.7" r="0.57"/><circle cx="211.6" cy="500.6" r="0.58"/><circle cx="217.1" cy="481.9" r="0.98"/><circle cx="192.3" cy="498.9" r="0.87"/><circle cx="214.7" cy="485.3" r="0.86"/><circle cx="220.7" cy="479.4" r="0.82"/><circle cx="214.0" cy="477.9" r="0.56"/><circle cx="213.8" cy="492.7" r="0.97"/><circle cx="209.5" cy="504.9" r="0.62"/><circle cx="201.3" cy="504.3" r="0.72"/><circle cx="220.9" cy="483.2" r="0.56"/><circle cx="183.6" cy="481.3" r="0.94"/><circle cx="193.7" cy="486.7" r="0.74"/><circle cx="179.5" cy="478.5" r="0.68"/><circle cx="210.5" cy="492.5" r="0.89"/><circle cx="206.0" cy="509.0" r="0.68"/><circle cx="189.3" cy="478.2" r="0.59"/><circle cx="185.8" cy="478.9" r="0.65"/><circle cx="191.9" cy="503.9" r="0.72"/><circle cx="188.3" cy="499.4" r="0.70"/><circle cx="217.9" cy="486.2" r="0.78"/><circle cx="198.9" cy="509.1" r="0.98"/><circle cx="190.0" cy="482.8" r="0.71"/><circle cx="187.3" cy="485.2" r="0.59"/><circle cx="183.9" cy="486.8" r="0.98"/><circle cx="202.2" cy="510.4" r="0.80"/><circle cx="181.5" cy="483.4" r="0.75"/><circle cx="182.7" cy="478.3" r="0.63"/><circle cx="185.9" cy="497.4" r="0.62"/><circle cx="198.7" cy="506.0" r="0.64"/><circle cx="195.1" cy="505.3" r="0.67"/><circle cx="208.5" cy="499.4" r="0.80"/><circle cx="190.3" cy="487.0" r="0.65"/><circle cx="212.4" cy="497.1" r="0.80"/><circle cx="224.4" cy="483.4" r="0.84"/><circle cx="186.4" cy="501.7" r="0.56"/><circle cx="225.0" cy="486.8" r="0.89"/><circle cx="227.9" cy="481.2" r="0.62"/><circle cx="199.8" cy="512.1" r="0.90"/><circle cx="174.4" cy="481.1" r="0.56"/><circle cx="223.9" cy="479.7" r="0.66"/><circle cx="178.3" cy="481.2" r="0.78"/><circle cx="189.2" cy="490.2" r="0.86"/><circle cx="201.0" cy="477.8" r="0.67"/><circle cx="217.0" cy="478.2" r="0.82"/><circle cx="183.5" cy="506.7" r="1.00"/><circle cx="214.6" cy="504.6" r="0.86"/><circle cx="214.5" cy="500.2" r="0.77"/><circle cx="176.5" cy="484.3" r="0.89"/><circle cx="195.1" cy="509.7" r="0.96"/><circle cx="191.0" cy="508.3" r="0.67"/><circle cx="214.5" cy="489.3" r="0.71"/><circle cx="179.8" cy="488.4" r="0.98"/><circle cx="216.8" cy="498.2" r="0.79"/><circle cx="229.7" cy="488.7" r="0.85"/><circle cx="191.2" cy="513.4" r="0.62"/><circle cx="220.5" cy="490.8" r="0.79"/><circle cx="197.9" cy="516.7" r="0.93"/><circle cx="174.3" cy="488.7" r="0.83"/><circle cx="185.5" cy="491.4" r="0.84"/><circle cx="215.5" cy="495.3" r="0.64"/><circle cx="186.9" cy="510.1" r="0.58"/><circle cx="180.9" cy="493.3" r="0.70"/><circle cx="220.5" cy="495.1" r="0.78"/><circle cx="227.1" cy="478.4" r="0.80"/><circle cx="182.8" cy="501.9" r="0.64"/><circle cx="225.5" cy="497.7" r="0.71"/><circle cx="210.4" cy="510.3" r="0.95"/><circle cx="186.5" cy="488.5" r="0.80"/><circle cx="169.9" cy="478.7" r="0.97"/><circle cx="218.7" cy="506.8" r="0.68"/><circle cx="187.3" cy="504.8" r="0.76"/><circle cx="231.4" cy="482.1" r="0.59"/><circle cx="201.4" cy="515.2" r="0.95"/><circle cx="204.0" cy="513.2" r="0.71"/><circle cx="217.4" cy="502.3" r="0.62"/><circle cx="217.5" cy="490.6" r="0.94"/><circle cx="183.7" cy="495.4" r="0.88"/><circle cx="221.0" cy="487.7" r="0.74"/><circle cx="186.8" cy="494.2" r="0.85"/><circle cx="169.7" cy="490.2" r="0.83"/><circle cx="164.8" cy="487.2" r="0.72"/><circle cx="206.7" cy="515.0" r="0.76"/><circle cx="217.5" cy="509.8" r="0.55"/><circle cx="194.5" cy="514.7" r="0.80"/><circle cx="182.0" cy="498.1" r="0.78"/><circle cx="172.5" cy="493.7" r="1.00"/><circle cx="233.4" cy="490.6" r="0.98"/><circle cx="216.8" cy="514.0" r="0.69"/><circle cx="169.7" cy="484.6" r="0.78"/><circle cx="221.0" cy="503.1" r="0.90"/><circle cx="214.7" cy="508.1" r="0.96"/><circle cx="220.9" cy="499.4" r="0.55"/><circle cx="172.7" cy="497.5" r="0.85"/><circle cx="204.1" cy="520.0" r="0.77"/><circle cx="220.2" cy="513.5" r="0.74"/><circle cx="224.4" cy="506.6" r="1.00"/><circle cx="169.3" cy="500.9" r="0.70"/><circle cx="222.7" cy="515.0" r="0.75"/><circle cx="226.2" cy="493.2" r="0.83"/><circle cx="207.2" cy="511.6" r="0.74"/><circle cx="193.2" cy="518.9" r="0.73"/><circle cx="169.1" cy="496.9" r="0.78"/><circle cx="219.5" cy="517.5" r="0.60"/><circle cx="165.1" cy="481.7" r="0.69"/><circle cx="211.2" cy="513.9" r="0.57"/><circle cx="206.6" cy="523.5" r="0.82"/><circle cx="168.0" cy="493.2" r="0.77"/><circle cx="221.3" cy="508.8" r="0.89"/><circle cx="225.1" cy="501.4" r="0.74"/><circle cx="230.2" cy="499.2" r="0.74"/><circle cx="189.5" cy="517.3" r="0.61"/><circle cx="215.4" cy="518.5" r="0.84"/><circle cx="223.0" cy="493.1" r="0.58"/><circle cx="223.0" cy="511.4" r="0.97"/><circle cx="212.8" cy="516.8" r="0.97"/><circle cx="228.7" cy="491.5" r="0.69"/><circle cx="233.6" cy="494.4" r="0.65"/><circle cx="195.4" cy="524.3" r="0.59"/><circle cx="211.7" cy="520.2" r="0.81"/><circle cx="187.3" cy="513.3" r="0.67"/><circle cx="216.6" cy="522.6" r="0.90"/><circle cx="180.1" cy="511.0" r="0.80"/><circle cx="168.2" cy="481.2" r="0.66"/><circle cx="230.9" cy="495.9" r="0.77"/><circle cx="217.9" cy="493.5" r="0.83"/><circle cx="173.5" cy="485.4" r="0.78"/><circle cx="167.8" cy="487.9" r="0.76"/><circle cx="224.9" cy="490.3" r="0.74"/><circle cx="225.8" cy="509.6" r="0.80"/><circle cx="163.8" cy="492.9" r="0.89"/><circle cx="228.4" cy="485.7" r="0.83"/><circle cx="176.9" cy="492.1" r="0.72"/><circle cx="227.0" cy="514.3" r="0.80"/><circle cx="230.9" cy="502.1" r="0.98"/><circle cx="213.6" cy="512.0" r="0.73"/><circle cx="175.5" cy="495.8" r="0.61"/><circle cx="166.2" cy="499.7" r="0.57"/><circle cx="162.4" cy="501.8" r="0.70"/><circle cx="161.6" cy="496.9" r="0.80"/><circle cx="209.3" cy="516.6" r="0.99"/><circle cx="178.3" cy="498.3" r="0.64"/><circle cx="180.5" cy="504.0" r="0.94"/><circle cx="173.4" cy="501.7" r="0.65"/><circle cx="220.5" cy="524.9" r="0.91"/><circle cx="170.5" cy="505.7" r="0.87"/><circle cx="171.0" cy="487.5" r="0.82"/><circle cx="165.8" cy="478.3" r="0.87"/><circle cx="177.0" cy="501.3" r="0.64"/><circle cx="175.6" cy="505.6" r="0.71"/><circle cx="178.2" cy="494.8" r="0.61"/><circle cx="183.6" cy="510.4" r="0.62"/><circle cx="235.1" cy="480.4" r="0.73"/><circle cx="231.2" cy="479.2" r="0.78"/><circle cx="200.0" cy="520.7" r="0.62"/><circle cx="232.9" cy="487.5" r="0.59"/><circle cx="182.8" cy="490.3" r="0.94"/><circle cx="178.2" cy="506.9" r="0.69"/><circle cx="191.0" cy="523.4" r="0.77"/><circle cx="238.5" cy="488.1" r="0.93"/><circle cx="164.7" cy="496.9" r="0.79"/><circle cx="196.7" cy="521.3" r="0.72"/><circle cx="169.7" cy="510.1" r="0.60"/><circle cx="214.1" cy="526.0" r="0.77"/><circle cx="210.4" cy="524.0" r="0.87"/><circle cx="184.3" cy="515.1" r="0.95"/><circle cx="161.3" cy="483.7" r="0.59"/><circle cx="236.2" cy="496.7" r="0.77"/><circle cx="158.7" cy="504.0" r="0.86"/><circle cx="160.2" cy="489.8" r="0.56"/><circle cx="173.1" cy="478.2" r="0.70"/><circle cx="173.6" cy="508.6" r="0.56"/><circle cx="230.9" cy="514.1" r="0.86"/><circle cx="177.2" cy="512.6" r="0.73"/><circle cx="238.8" cy="478.7" r="0.98"/><circle cx="226.5" cy="517.7" r="0.93"/><circle cx="180.3" cy="513.9" r="0.87"/><circle cx="240.9" cy="480.8" r="0.92"/><circle cx="158.0" cy="494.6" r="0.73"/><circle cx="238.1" cy="483.9" r="0.70"/><circle cx="234.5" cy="484.9" r="0.83"/><circle cx="166.2" cy="484.6" r="0.85"/><circle cx="193.3" cy="528.2" r="0.64"/><circle cx="158.9" cy="500.3" r="0.65"/><circle cx="241.6" cy="486.6" r="0.93"/><circle cx="211.1" cy="530.2" r="0.87"/><circle cx="243.6" cy="484.2" r="0.96"/><circle cx="204.6" cy="517.1" r="0.68"/><circle cx="236.5" cy="490.9" r="0.90"/><circle cx="222.0" cy="522.2" r="0.70"/><circle cx="222.8" cy="527.7" r="0.74"/><circle cx="234.4" cy="499.5" r="0.60"/><circle cx="162.1" cy="478.7" r="0.79"/><circle cx="182.6" cy="518.2" r="0.90"/><circle cx="226.0" cy="526.2" r="0.72"/><circle cx="186.0" cy="521.6" r="0.70"/><circle cx="179.1" cy="517.1" r="0.82"/><circle cx="186.6" cy="517.3" r="0.87"/><circle cx="234.8" cy="502.7" r="0.64"/><circle cx="159.7" cy="486.3" r="0.94"/><circle cx="228.2" cy="505.6" r="0.79"/><circle cx="208.1" cy="530.7" r="0.72"/><circle cx="213.9" cy="529.2" r="0.92"/><circle cx="207.6" cy="519.8" r="0.61"/><circle cx="234.8" cy="511.3" r="0.85"/><circle cx="243.9" cy="478.5" r="0.85"/><circle cx="240.3" cy="493.8" r="0.88"/><circle cx="207.1" cy="527.6" r="0.81"/><circle cx="230.5" cy="510.2" r="0.90"/><circle cx="160.3" cy="507.0" r="0.60"/><circle cx="165.7" cy="490.0" r="0.95"/><circle cx="198.4" cy="529.3" r="0.67"/><circle cx="189.6" cy="520.6" r="0.62"/><circle cx="234.8" cy="507.1" r="0.92"/><circle cx="156.5" cy="483.0" r="0.83"/><circle cx="209.9" cy="535.9" r="0.60"/><circle cx="199.5" cy="523.9" r="0.98"/><circle cx="165.7" cy="505.3" r="0.58"/><circle cx="243.2" cy="496.6" r="0.80"/><circle cx="217.1" cy="525.5" r="0.70"/><circle cx="218.1" cy="520.0" r="0.74"/><circle cx="164.0" cy="509.3" r="0.97"/><circle cx="226.5" cy="522.7" r="0.89"/><circle cx="187.6" cy="526.8" r="0.67"/><circle cx="154.4" cy="485.4" r="0.92"/><circle cx="203.7" cy="524.9" r="0.91"/><circle cx="231.2" cy="517.7" r="0.78"/><circle cx="167.9" cy="507.7" r="0.84"/><circle cx="231.4" cy="506.0" r="0.78"/><circle cx="182.6" cy="522.3" r="0.73"/><circle cx="182.9" cy="525.3" r="0.58"/><circle cx="159.2" cy="481.3" r="0.93"/><circle cx="203.9" cy="533.0" r="0.86"/><circle cx="235.1" cy="514.7" r="0.96"/><circle cx="239.3" cy="500.3" r="0.79"/><circle cx="229.4" cy="521.9" r="0.98"/><circle cx="237.8" cy="511.2" r="0.87"/><circle cx="222.3" cy="519.2" r="0.55"/><circle cx="152.8" cy="493.1" r="0.95"/><circle cx="242.6" cy="491.4" r="0.93"/><circle cx="154.1" cy="478.3" r="0.77"/><circle cx="203.2" cy="528.9" r="0.68"/><circle cx="179.1" cy="527.3" r="0.69"/><circle cx="174.0" cy="518.6" r="0.95"/><circle cx="154.8" cy="498.0" r="0.65"/><circle cx="227.8" cy="531.1" r="0.55"/><circle cx="176.1" cy="523.7" r="0.92"/><circle cx="247.0" cy="483.1" r="0.55"/><circle cx="177.6" cy="520.7" r="0.79"/><circle cx="160.2" cy="510.5" r="0.85"/><circle cx="234.7" cy="519.0" r="0.69"/><circle cx="247.0" cy="486.3" r="0.76"/><circle cx="246.0" cy="489.3" r="0.68"/><circle cx="172.8" cy="513.8" r="0.92"/><circle cx="151.4" cy="479.8" r="0.66"/><circle cx="150.4" cy="496.8" r="0.87"/><circle cx="167.4" cy="512.8" r="0.63"/><circle cx="246.5" cy="480.1" r="0.62"/><circle cx="155.4" cy="489.2" r="0.77"/><circle cx="210.5" cy="527.0" r="0.74"/><circle cx="246.1" cy="497.3" r="0.57"/><circle cx="151.2" cy="487.4" r="0.92"/><circle cx="213.4" cy="522.6" r="0.60"/><circle cx="155.5" cy="504.3" r="0.77"/><circle cx="206.7" cy="534.1" r="0.58"/><circle cx="231.3" cy="529.1" r="0.95"/><circle cx="239.7" cy="497.0" r="0.83"/><circle cx="200.7" cy="526.9" r="0.97"/><circle cx="224.3" cy="530.9" r="0.63"/><circle cx="232.8" cy="522.1" r="0.96"/><circle cx="148.8" cy="485.7" r="0.99"/><circle cx="200.3" cy="533.6" r="0.81"/><circle cx="239.0" cy="505.1" r="0.84"/><circle cx="162.2" cy="513.1" r="0.69"/><circle cx="144.8" cy="488.9" r="0.64"/><circle cx="246.6" cy="492.6" r="0.84"/><circle cx="214.0" cy="534.3" r="0.87"/><circle cx="194.2" cy="531.1" r="0.97"/><circle cx="202.1" cy="538.7" r="0.71"/><circle cx="188.9" cy="529.4" r="0.73"/><circle cx="148.6" cy="478.6" r="0.62"/><circle cx="230.3" cy="524.8" r="0.89"/><circle cx="242.8" cy="500.8" r="0.82"/><circle cx="150.7" cy="483.5" r="0.75"/><circle cx="155.6" cy="509.4" r="0.67"/><circle cx="242.1" cy="504.0" r="0.59"/><circle cx="180.5" cy="530.9" r="0.63"/><circle cx="179.9" cy="523.5" r="0.76"/><circle cx="219.7" cy="529.7" r="0.76"/><circle cx="146.2" cy="483.9" r="0.72"/><circle cx="237.7" cy="516.5" r="0.61"/><circle cx="240.4" cy="508.0" r="0.72"/><circle cx="151.3" cy="490.3" r="0.91"/><circle cx="151.0" cy="501.7" r="0.77"/><circle cx="233.3" cy="525.7" r="0.75"/><circle cx="246.2" cy="501.3" r="0.60"/><circle cx="245.0" cy="511.0" r="0.75"/><circle cx="216.5" cy="530.7" r="0.77"/><circle cx="157.2" cy="478.2" r="0.61"/><circle cx="186.0" cy="531.3" r="0.78"/><circle cx="212.6" cy="537.4" r="0.92"/><circle cx="246.2" cy="507.7" r="0.93"/><circle cx="147.3" cy="490.8" r="0.94"/><circle cx="148.1" cy="494.7" r="0.78"/><circle cx="192.6" cy="533.9" r="0.97"/><circle cx="183.7" cy="534.4" r="0.63"/><circle cx="144.4" cy="495.6" r="0.73"/><circle cx="236.8" cy="525.3" r="0.70"/><circle cx="209.9" cy="540.0" r="0.67"/><circle cx="245.7" cy="504.5" r="0.61"/><circle cx="230.2" cy="533.5" r="0.98"/><circle cx="227.2" cy="535.5" r="0.97"/><circle cx="165.4" cy="517.2" r="0.57"/><circle cx="176.4" cy="515.6" r="0.82"/><circle cx="162.4" cy="518.0" r="0.96"/><circle cx="241.4" cy="510.8" r="0.75"/><circle cx="187.3" cy="537.3" r="0.88"/><circle cx="217.2" cy="536.9" r="0.66"/><circle cx="235.2" cy="528.3" r="0.99"/><circle cx="239.7" cy="490.8" r="0.59"/><circle cx="238.9" cy="521.0" r="0.59"/><circle cx="195.4" cy="534.9" r="0.87"/><circle cx="230.1" cy="536.4" r="0.69"/><circle cx="219.6" cy="533.4" r="0.76"/><circle cx="143.8" cy="492.3" r="0.95"/><circle cx="241.9" cy="517.3" r="0.89"/><circle cx="145.5" cy="479.5" r="0.61"/><circle cx="150.6" cy="505.6" r="0.62"/><circle cx="174.6" cy="511.3" r="0.68"/><circle cx="179.3" cy="536.8" r="0.89"/><circle cx="223.8" cy="535.0" r="0.74"/><circle cx="150.9" cy="511.8" r="0.81"/><circle cx="245.8" cy="517.2" r="0.83"/><circle cx="168.4" cy="515.9" r="0.69"/><circle cx="182.2" cy="538.4" r="0.84"/><circle cx="147.9" cy="499.8" r="0.61"/><circle cx="234.2" cy="532.1" r="0.89"/><circle cx="195.8" cy="538.5" r="0.94"/><circle cx="185.0" cy="539.3" r="0.79"/><circle cx="242.1" cy="522.7" r="0.92"/><circle cx="246.8" cy="514.4" r="0.89"/><circle cx="152.0" cy="508.2" r="0.92"/><circle cx="146.2" cy="510.4" r="0.83"/><circle cx="205.6" cy="539.4" r="0.60"/><circle cx="243.6" cy="514.6" r="0.66"/><circle cx="158.5" cy="514.7" r="0.76"/><circle cx="211.2" cy="533.3" r="0.61"/><circle cx="188.7" cy="532.6" r="0.98"/><circle cx="173.5" cy="526.9" r="0.76"/><circle cx="197.2" cy="532.4" r="0.67"/><circle cx="226.5" cy="539.0" r="0.73"/><circle cx="238.6" cy="531.4" r="0.68"/><circle cx="244.4" cy="524.8" r="0.77"/><circle cx="240.0" cy="525.0" r="0.99"/><circle cx="153.6" cy="481.9" r="0.72"/><circle cx="219.1" cy="540.2" r="0.58"/><circle cx="192.5" cy="537.7" r="0.81"/><circle cx="240.2" cy="513.5" r="0.83"/><circle cx="176.4" cy="531.5" r="0.55"/><circle cx="239.4" cy="535.5" r="0.85"/><circle cx="220.0" cy="536.3" r="0.96"/><circle cx="154.0" cy="501.2" r="0.82"/><circle cx="153.5" cy="513.4" r="0.59"/><circle cx="231.7" cy="538.8" r="0.71"/><circle cx="223.5" cy="539.3" r="0.93"/><circle cx="244.5" cy="520.6" r="0.77"/><circle cx="244.0" cy="532.3" r="0.76"/><circle cx="242.3" cy="527.0" r="0.88"/><circle cx="243.5" cy="506.5" r="0.78"/><circle cx="144.9" cy="500.4" r="0.69"/><circle cx="170.1" cy="521.0" r="0.87"/><circle cx="246.0" cy="528.4" r="0.58"/><circle cx="199.8" cy="536.6" r="0.63"/><circle cx="238.8" cy="527.8" r="0.72"/><circle cx="161.0" cy="521.7" r="0.85"/><circle cx="188.6" cy="540.2" r="0.64"/><circle cx="168.8" cy="528.0" r="0.90"/><circle cx="147.4" cy="514.9" r="1.00"/><circle cx="182.2" cy="528.2" r="0.85"/><circle cx="147.0" cy="504.7" r="0.84"/><circle cx="246.9" cy="532.8" r="0.62"/><circle cx="146.1" cy="518.4" r="0.89"/><circle cx="216.1" cy="540.1" r="0.70"/><circle cx="165.3" cy="525.9" r="0.95"/><circle cx="145.0" cy="507.0" r="0.79"/><circle cx="156.5" cy="512.2" r="0.96"/><circle cx="234.2" cy="536.3" r="0.90"/><circle cx="154.8" cy="516.3" r="0.76"/><circle cx="156.7" cy="518.7" r="0.76"/><circle cx="190.9" cy="526.3" r="0.59"/><circle cx="189.9" cy="535.9" r="0.63"/><circle cx="165.4" cy="529.2" r="0.74"/><circle cx="241.5" cy="530.8" r="0.89"/><circle cx="151.2" cy="516.0" r="0.58"/><circle cx="154.4" cy="522.1" r="0.60"/><circle cx="156.8" cy="524.7" r="0.72"/><circle cx="244.6" cy="537.2" r="0.80"/><circle cx="228.8" cy="527.3" r="0.91"/><circle cx="171.9" cy="534.4" r="0.72"/><circle cx="236.6" cy="538.0" r="0.79"/><circle cx="240.9" cy="539.1" r="0.85"/><circle cx="171.7" cy="524.2" r="0.75"/><circle cx="173.5" cy="530.0" r="0.79"/><circle cx="148.1" cy="507.8" r="0.66"/><circle cx="143.9" cy="503.6" r="0.97"/><circle cx="144.3" cy="513.4" r="0.84"/><circle cx="176.6" cy="535.7" r="0.95"/><circle cx="148.4" cy="481.5" r="0.76"/><circle cx="162.7" cy="505.3" r="0.89"/><circle cx="173.2" cy="539.0" r="0.85"/><circle cx="160.3" cy="525.5" r="0.68"/><circle cx="245.9" cy="539.9" r="0.77"/><circle cx="160.8" cy="493.1" r="0.89"/><circle cx="147.6" cy="523.0" r="0.93"/><circle cx="193.6" cy="540.6" r="0.91"/><circle cx="169.5" cy="531.0" r="0.55"/><circle cx="166.3" cy="522.8" r="0.72"/><circle cx="198.5" cy="540.6" r="0.75"/><circle cx="169.9" cy="537.0" r="0.77"/><circle cx="168.1" cy="540.0" r="0.74"/><circle cx="159.0" cy="530.0" r="0.81"/><circle cx="166.5" cy="533.2" r="0.95"/><circle cx="162.3" cy="527.9" r="0.63"/><circle cx="163.5" cy="523.3" r="0.91"/><circle cx="150.3" cy="525.5" r="0.98"/><circle cx="157.2" cy="534.9" r="0.75"/><circle cx="154.3" cy="527.4" r="0.71"/><circle cx="159.9" cy="538.3" r="0.69"/><circle cx="164.9" cy="538.8" r="0.71"/><circle cx="156.8" cy="491.8" r="0.83"/><circle cx="152.0" cy="537.1" r="0.64"/><circle cx="150.4" cy="519.6" r="0.92"/><circle cx="151.5" cy="522.7" r="0.92"/><circle cx="149.0" cy="529.3" r="0.75"/><circle cx="173.8" cy="521.6" r="0.76"/><circle cx="204.3" cy="536.1" r="0.92"/><circle cx="179.3" cy="540.7" r="0.90"/><circle cx="145.8" cy="526.0" r="0.70"/><circle cx="148.1" cy="537.1" r="0.81"/><circle cx="160.5" cy="535.4" r="0.89"/><circle cx="155.2" cy="530.7" r="0.75"/><circle cx="162.0" cy="532.3" r="0.83"/><circle cx="144.1" cy="531.1" r="0.61"/><circle cx="153.1" cy="534.3" r="0.77"/><circle cx="151.9" cy="530.0" r="0.78"/><circle cx="157.2" cy="540.0" r="1.00"/><circle cx="154.9" cy="536.9" r="0.71"/><circle cx="150.1" cy="532.7" r="0.76"/><circle cx="178.6" cy="533.6" r="0.66"/><circle cx="164.3" cy="535.7" r="0.68"/><circle cx="176.6" cy="539.0" r="0.69"/><circle cx="147.3" cy="534.1" r="0.65"/><circle cx="162.0" cy="540.6" r="0.80"/><circle cx="144.9" cy="537.4" r="0.74"/><circle cx="153.3" cy="540.4" r="0.81"/><circle cx="144.5" cy="522.8" r="0.61"/><circle cx="149.8" cy="539.7" r="0.79"/><circle cx="145.5" cy="540.4" r="0.85"/><circle cx="143.9" cy="534.4" r="0.77"/></g>
<rect x="251.1" y="477" width="104.7" height="64.5" fill="#dca8d6"/>
<rect x="251.1" y="477" width="104.7" height="64.5" filter="url(#nz1)" opacity="0.55"/>
<rect x="251.1" y="477" width="104.7" height="64.5" filter="url(#nz2)" opacity="0.6"/>
<g fill="#7e40ae" fill-opacity="0.58"><circle cx="267.2" cy="516.5" r="0.99"/><circle cx="263.1" cy="515.1" r="0.75"/><circle cx="264.0" cy="519.3" r="0.76"/><circle cx="260.1" cy="517.1" r="0.63"/><circle cx="262.8" cy="511.5" r="0.68"/><circle cx="258.7" cy="512.8" r="0.57"/><circle cx="266.7" cy="511.4" r="0.98"/><circle cx="261.3" cy="508.2" r="0.58"/><circle cx="256.1" cy="514.2" r="0.57"/><circle cx="265.3" cy="521.8" r="0.91"/><circle cx="256.0" cy="518.6" r="0.79"/><circle cx="261.5" cy="520.9" r="0.64"/><circle cx="258.7" cy="507.7" r="0.87"/><circle cx="258.8" cy="521.5" r="0.89"/><circle cx="268.7" cy="525.5" r="0.78"/><circle cx="254.2" cy="510.0" r="0.90"/><circle cx="259.0" cy="503.2" r="0.56"/><circle cx="252.6" cy="505.1" r="0.78"/><circle cx="268.2" cy="520.4" r="0.90"/><circle cx="262.9" cy="505.3" r="0.70"/><circle cx="266.4" cy="507.5" r="0.96"/><circle cx="255.1" cy="507.5" r="0.84"/><circle cx="256.3" cy="522.3" r="0.82"/><circle cx="259.7" cy="524.6" r="0.95"/><circle cx="256.4" cy="525.7" r="0.77"/><circle cx="256.8" cy="510.4" r="0.75"/><circle cx="253.0" cy="515.9" r="0.86"/><circle cx="268.9" cy="508.1" r="0.99"/><circle cx="272.1" cy="516.3" r="0.67"/><circle cx="253.5" cy="526.4" r="0.95"/><circle cx="255.8" cy="530.0" r="0.62"/><circle cx="264.6" cy="509.4" r="0.56"/><circle cx="269.6" cy="514.6" r="0.96"/><circle cx="262.7" cy="523.4" r="0.74"/><circle cx="262.8" cy="501.7" r="0.84"/><circle cx="259.4" cy="529.7" r="0.74"/><circle cx="270.2" cy="523.2" r="0.98"/><circle cx="274.2" cy="518.3" r="0.69"/><circle cx="271.4" cy="519.7" r="0.78"/><circle cx="276.1" cy="514.7" r="0.97"/><circle cx="272.4" cy="527.7" r="0.92"/><circle cx="258.2" cy="532.4" r="0.90"/><circle cx="265.3" cy="525.1" r="0.96"/><circle cx="252.2" cy="512.9" r="0.68"/><circle cx="257.1" cy="505.7" r="0.59"/><circle cx="266.1" cy="528.1" r="0.64"/><circle cx="270.2" cy="511.8" r="0.78"/><circle cx="265.4" cy="513.7" r="0.69"/><circle cx="271.1" cy="503.9" r="0.68"/><circle cx="273.9" cy="521.8" r="0.67"/><circle cx="272.1" cy="531.7" r="0.89"/><circle cx="252.3" cy="529.4" r="0.62"/><circle cx="278.5" cy="518.8" r="0.58"/><circle cx="277.0" cy="520.9" r="0.76"/><circle cx="274.7" cy="525.0" r="0.67"/><circle cx="273.8" cy="512.6" r="0.71"/><circle cx="271.9" cy="507.5" r="0.57"/><circle cx="274.2" cy="501.8" r="0.79"/><circle cx="254.2" cy="534.7" r="0.98"/><circle cx="279.2" cy="524.7" r="0.95"/><circle cx="262.4" cy="527.0" r="0.63"/><circle cx="263.5" cy="530.4" r="0.57"/><circle cx="278.9" cy="512.6" r="0.89"/><circle cx="269.8" cy="529.4" r="0.77"/><circle cx="259.1" cy="498.3" r="0.69"/><circle cx="276.4" cy="528.0" r="0.89"/><circle cx="274.3" cy="530.0" r="0.76"/><circle cx="278.7" cy="509.0" r="0.67"/><circle cx="268.5" cy="505.1" r="0.76"/><circle cx="252.9" cy="532.0" r="0.60"/><circle cx="266.1" cy="531.6" r="0.80"/><circle cx="260.5" cy="534.6" r="0.75"/><circle cx="256.4" cy="499.9" r="0.97"/><circle cx="280.6" cy="515.0" r="0.63"/><circle cx="257.3" cy="536.6" r="0.67"/><circle cx="252.9" cy="523.8" r="0.95"/><circle cx="275.1" cy="509.3" r="0.75"/><circle cx="252.6" cy="519.9" r="0.99"/><circle cx="282.8" cy="509.8" r="0.61"/><circle cx="252.4" cy="507.8" r="0.96"/><circle cx="278.0" cy="532.6" r="0.62"/><circle cx="272.2" cy="510.1" r="0.83"/><circle cx="265.6" cy="504.3" r="0.75"/><circle cx="263.8" cy="535.9" r="0.71"/><circle cx="282.4" cy="517.1" r="0.59"/><circle cx="261.0" cy="537.9" r="0.86"/><circle cx="275.7" cy="534.1" r="0.76"/><circle cx="252.0" cy="498.2" r="0.77"/><circle cx="279.3" cy="530.2" r="0.91"/><circle cx="277.1" cy="506.7" r="0.88"/><circle cx="282.8" cy="526.7" r="0.86"/><circle cx="268.8" cy="501.9" r="0.62"/><circle cx="268.3" cy="533.9" r="0.63"/><circle cx="272.7" cy="537.1" r="0.89"/><circle cx="274.5" cy="506.7" r="0.61"/><circle cx="279.0" cy="535.8" r="0.58"/><circle cx="266.5" cy="537.4" r="0.82"/><circle cx="278.8" cy="502.9" r="0.83"/><circle cx="269.2" cy="536.4" r="0.64"/><circle cx="271.3" cy="499.3" r="0.98"/><circle cx="274.5" cy="497.1" r="0.78"/><circle cx="276.3" cy="499.4" r="0.59"/><circle cx="256.1" cy="496.1" r="0.99"/><circle cx="268.7" cy="499.2" r="0.90"/><circle cx="264.9" cy="498.6" r="0.85"/><circle cx="284.9" cy="514.6" r="0.96"/><circle cx="275.9" cy="503.8" r="0.61"/><circle cx="255.1" cy="502.7" r="0.55"/><circle cx="253.4" cy="493.6" r="0.97"/><circle cx="288.5" cy="513.6" r="0.88"/><circle cx="271.8" cy="534.5" r="0.63"/><circle cx="281.8" cy="512.3" r="0.80"/><circle cx="275.8" cy="539.0" r="0.62"/><circle cx="259.8" cy="510.5" r="0.79"/><circle cx="280.7" cy="505.3" r="0.63"/><circle cx="256.7" cy="540.5" r="0.87"/><circle cx="287.4" cy="509.0" r="0.97"/><circle cx="282.6" cy="530.8" r="0.64"/><circle cx="252.6" cy="500.9" r="0.62"/><circle cx="271.8" cy="539.9" r="0.62"/><circle cx="256.1" cy="489.8" r="0.93"/><circle cx="270.0" cy="496.4" r="0.62"/><circle cx="283.6" cy="503.0" r="0.86"/><circle cx="282.2" cy="533.8" r="0.64"/><circle cx="268.9" cy="539.5" r="0.72"/><circle cx="261.8" cy="499.1" r="0.79"/><circle cx="266.4" cy="540.6" r="0.96"/><circle cx="267.2" cy="494.7" r="0.56"/><circle cx="281.4" cy="520.0" r="0.82"/><circle cx="279.7" cy="499.7" r="0.61"/><circle cx="278.0" cy="496.9" r="0.99"/><circle cx="275.2" cy="493.8" r="0.78"/><circle cx="281.1" cy="497.4" r="0.83"/><circle cx="254.5" cy="486.5" r="0.86"/><circle cx="252.5" cy="537.7" r="0.71"/><circle cx="258.6" cy="493.5" r="1.00"/><circle cx="266.1" cy="501.5" r="0.57"/><circle cx="253.9" cy="539.9" r="0.85"/><circle cx="260.8" cy="490.8" r="0.90"/><circle cx="258.4" cy="486.1" r="0.93"/><circle cx="262.8" cy="539.9" r="0.66"/><circle cx="253.5" cy="490.1" r="0.87"/><circle cx="283.5" cy="522.0" r="0.86"/><circle cx="263.7" cy="490.0" r="0.71"/><circle cx="286.0" cy="532.9" r="0.86"/><circle cx="260.7" cy="496.2" r="0.60"/><circle cx="263.4" cy="495.8" r="0.58"/><circle cx="264.3" cy="493.3" r="0.86"/><circle cx="278.7" cy="538.9" r="0.74"/><circle cx="285.2" cy="511.7" r="0.58"/><circle cx="285.3" cy="529.6" r="0.93"/><circle cx="278.7" cy="493.4" r="0.80"/><circle cx="267.0" cy="490.4" r="0.85"/><circle cx="256.4" cy="482.3" r="0.58"/><circle cx="264.5" cy="487.1" r="0.62"/><circle cx="281.5" cy="536.4" r="0.74"/><circle cx="289.3" cy="532.5" r="0.57"/><circle cx="283.4" cy="540.4" r="0.62"/><circle cx="269.1" cy="492.1" r="0.76"/><circle cx="252.2" cy="485.3" r="0.80"/><circle cx="285.6" cy="496.2" r="0.90"/><circle cx="270.7" cy="488.7" r="0.99"/><circle cx="290.1" cy="510.6" r="0.87"/><circle cx="263.0" cy="533.0" r="0.65"/><circle cx="279.4" cy="522.0" r="0.74"/><circle cx="287.5" cy="501.4" r="0.83"/><circle cx="253.4" cy="482.3" r="0.81"/><circle cx="291.1" cy="507.4" r="0.92"/><circle cx="286.5" cy="517.5" r="0.95"/><circle cx="283.4" cy="499.6" r="0.58"/><circle cx="286.4" cy="506.3" r="0.65"/><circle cx="285.5" cy="538.1" r="0.86"/><circle cx="286.3" cy="521.2" r="0.66"/><circle cx="273.2" cy="490.2" r="0.87"/><circle cx="261.3" cy="483.6" r="0.59"/><circle cx="283.4" cy="506.8" r="0.65"/><circle cx="290.7" cy="529.7" r="0.61"/><circle cx="288.8" cy="523.9" r="0.77"/><circle cx="292.9" cy="526.9" r="0.64"/><circle cx="287.8" cy="535.9" r="0.88"/><circle cx="292.7" cy="512.3" r="0.94"/><circle cx="259.1" cy="479.8" r="0.67"/><circle cx="292.9" cy="503.2" r="0.60"/><circle cx="261.8" cy="487.7" r="0.95"/><circle cx="294.1" cy="507.4" r="0.84"/><circle cx="280.9" cy="491.7" r="0.74"/><circle cx="288.8" cy="527.8" r="0.62"/><circle cx="256.4" cy="478.6" r="0.70"/><circle cx="285.9" cy="524.9" r="0.65"/><circle cx="289.4" cy="504.7" r="0.88"/><circle cx="271.7" cy="493.9" r="0.77"/><circle cx="293.3" cy="530.1" r="0.58"/><circle cx="296.0" cy="503.1" r="0.78"/><circle cx="289.8" cy="520.3" r="0.93"/><circle cx="288.4" cy="538.6" r="0.66"/><circle cx="283.0" cy="494.6" r="0.94"/><circle cx="253.8" cy="479.8" r="0.98"/><circle cx="291.4" cy="516.6" r="0.61"/><circle cx="294.7" cy="520.7" r="0.95"/><circle cx="284.0" cy="490.6" r="0.97"/><circle cx="284.6" cy="535.2" r="0.70"/><circle cx="290.4" cy="536.7" r="0.80"/><circle cx="293.1" cy="523.1" r="0.68"/><circle cx="280.3" cy="488.7" r="0.61"/><circle cx="293.6" cy="536.7" r="0.94"/><circle cx="298.6" cy="504.1" r="0.62"/><circle cx="293.7" cy="515.2" r="0.63"/><circle cx="290.2" cy="493.7" r="0.73"/><circle cx="276.0" cy="489.3" r="0.97"/><circle cx="267.6" cy="483.6" r="0.74"/><circle cx="292.8" cy="540.0" r="0.87"/><circle cx="290.6" cy="496.8" r="0.57"/><circle cx="288.0" cy="498.4" r="0.89"/><circle cx="293.5" cy="518.2" r="0.74"/><circle cx="296.3" cy="539.7" r="0.59"/><circle cx="290.3" cy="540.6" r="0.83"/><circle cx="267.7" cy="487.4" r="0.70"/><circle cx="296.9" cy="510.8" r="0.67"/><circle cx="296.3" cy="533.6" r="0.56"/><circle cx="292.6" cy="532.8" r="0.98"/><circle cx="280.2" cy="484.1" r="0.90"/><circle cx="285.5" cy="493.1" r="0.87"/><circle cx="297.7" cy="528.7" r="0.94"/><circle cx="296.5" cy="514.6" r="0.80"/><circle cx="292.3" cy="500.1" r="0.86"/><circle cx="274.2" cy="487.2" r="0.83"/><circle cx="297.3" cy="522.7" r="0.58"/><circle cx="263.2" cy="479.9" r="0.95"/><circle cx="271.6" cy="486.2" r="0.92"/><circle cx="296.4" cy="517.7" r="0.73"/><circle cx="294.3" cy="510.3" r="0.94"/><circle cx="283.6" cy="485.3" r="0.73"/><circle cx="299.1" cy="520.7" r="0.95"/><circle cx="295.4" cy="525.3" r="0.94"/><circle cx="277.6" cy="485.0" r="0.81"/><circle cx="302.9" cy="519.2" r="0.87"/><circle cx="287.0" cy="490.5" r="0.73"/><circle cx="298.4" cy="526.2" r="0.98"/><circle cx="290.1" cy="501.7" r="0.95"/><circle cx="284.1" cy="482.7" r="1.00"/><circle cx="284.6" cy="487.9" r="0.77"/><circle cx="297.8" cy="535.8" r="0.66"/><circle cx="301.7" cy="526.3" r="0.88"/><circle cx="296.1" cy="500.2" r="0.70"/><circle cx="280.2" cy="479.6" r="0.86"/><circle cx="274.0" cy="483.9" r="0.93"/><circle cx="298.8" cy="506.9" r="0.87"/><circle cx="264.5" cy="482.5" r="0.92"/><circle cx="266.9" cy="479.3" r="0.77"/><circle cx="290.0" cy="490.9" r="0.59"/><circle cx="287.1" cy="486.2" r="0.90"/><circle cx="294.8" cy="495.2" r="0.76"/><circle cx="293.9" cy="487.9" r="0.64"/><circle cx="294.6" cy="491.1" r="0.99"/><circle cx="270.6" cy="480.7" r="0.90"/><circle cx="299.7" cy="515.1" r="0.83"/><circle cx="300.4" cy="533.5" r="0.60"/><circle cx="276.9" cy="481.6" r="0.67"/><circle cx="297.9" cy="492.4" r="0.73"/><circle cx="303.6" cy="514.5" r="0.56"/><circle cx="287.0" cy="479.8" r="0.73"/><circle cx="298.7" cy="498.1" r="0.97"/><circle cx="295.9" cy="530.9" r="0.96"/><circle cx="270.5" cy="483.5" r="0.87"/><circle cx="296.4" cy="486.6" r="0.57"/><circle cx="299.9" cy="517.8" r="0.60"/><circle cx="300.8" cy="496.5" r="0.73"/><circle cx="300.9" cy="493.1" r="0.68"/><circle cx="302.9" cy="535.0" r="0.91"/><circle cx="303.3" cy="508.2" r="0.69"/><circle cx="300.3" cy="500.7" r="0.91"/><circle cx="300.5" cy="530.4" r="0.76"/><circle cx="273.8" cy="481.0" r="0.85"/><circle cx="300.7" cy="511.6" r="0.86"/><circle cx="298.5" cy="495.1" r="0.97"/><circle cx="303.5" cy="499.3" r="0.59"/><circle cx="289.2" cy="481.4" r="0.86"/><circle cx="291.7" cy="485.4" r="0.66"/><circle cx="304.4" cy="511.4" r="0.56"/><circle cx="299.8" cy="487.8" r="0.63"/><circle cx="283.3" cy="479.5" r="0.59"/><circle cx="299.7" cy="539.9" r="0.92"/><circle cx="305.3" cy="522.0" r="0.82"/><circle cx="307.2" cy="507.1" r="0.92"/><circle cx="304.2" cy="537.5" r="0.99"/><circle cx="291.0" cy="488.2" r="0.55"/><circle cx="302.2" cy="504.8" r="0.95"/><circle cx="306.8" cy="516.2" r="0.76"/><circle cx="304.9" cy="525.4" r="0.80"/><circle cx="301.5" cy="521.8" r="0.99"/><circle cx="294.3" cy="498.0" r="0.98"/><circle cx="307.7" cy="538.2" r="0.85"/><circle cx="296.8" cy="489.5" r="0.58"/><circle cx="308.8" cy="511.5" r="0.76"/><circle cx="307.2" cy="519.8" r="0.89"/><circle cx="309.7" cy="521.1" r="0.78"/><circle cx="312.2" cy="510.8" r="0.74"/><circle cx="303.5" cy="528.5" r="0.66"/><circle cx="307.6" cy="524.2" r="0.80"/><circle cx="303.8" cy="495.3" r="0.84"/><circle cx="306.7" cy="504.2" r="0.71"/><circle cx="304.7" cy="532.2" r="0.97"/><circle cx="308.5" cy="533.2" r="0.71"/><circle cx="309.3" cy="526.2" r="1.00"/><circle cx="312.1" cy="524.2" r="0.89"/><circle cx="304.9" cy="501.5" r="0.85"/><circle cx="286.8" cy="482.8" r="0.90"/><circle cx="310.4" cy="514.9" r="0.89"/><circle cx="313.2" cy="507.3" r="0.92"/><circle cx="306.9" cy="509.7" r="1.00"/><circle cx="310.0" cy="503.6" r="0.65"/><circle cx="303.8" cy="488.3" r="0.78"/><circle cx="295.0" cy="484.0" r="0.79"/><circle cx="271.4" cy="478.0" r="0.88"/><circle cx="306.8" cy="486.8" r="0.83"/><circle cx="310.1" cy="509.1" r="0.62"/><circle cx="308.5" cy="488.8" r="0.88"/><circle cx="313.5" cy="502.8" r="0.60"/><circle cx="300.5" cy="536.3" r="0.66"/><circle cx="313.3" cy="520.8" r="0.57"/><circle cx="276.4" cy="478.0" r="0.99"/><circle cx="304.0" cy="485.0" r="0.94"/><circle cx="317.3" cy="510.1" r="0.84"/><circle cx="309.9" cy="506.3" r="0.88"/><circle cx="307.0" cy="513.6" r="0.61"/><circle cx="315.7" cy="513.7" r="0.76"/><circle cx="300.1" cy="524.1" r="0.59"/><circle cx="307.3" cy="498.8" r="0.59"/><circle cx="314.0" cy="526.8" r="0.94"/><circle cx="303.4" cy="491.0" r="0.77"/><circle cx="298.1" cy="482.4" r="0.83"/><circle cx="300.2" cy="480.6" r="0.73"/><circle cx="312.1" cy="518.4" r="0.73"/><circle cx="307.9" cy="528.7" r="0.85"/><circle cx="312.2" cy="528.8" r="0.96"/><circle cx="300.7" cy="490.2" r="0.92"/><circle cx="320.0" cy="514.6" r="0.86"/><circle cx="315.5" cy="504.6" r="0.89"/><circle cx="292.5" cy="478.3" r="0.88"/><circle cx="292.6" cy="482.2" r="0.60"/><circle cx="307.6" cy="492.4" r="0.93"/><circle cx="311.3" cy="533.1" r="0.96"/><circle cx="314.2" cy="533.4" r="0.91"/><circle cx="310.6" cy="483.4" r="0.80"/><circle cx="301.8" cy="482.8" r="0.98"/><circle cx="299.9" cy="477.8" r="0.58"/><circle cx="295.1" cy="479.0" r="0.72"/><circle cx="303.0" cy="480.0" r="0.66"/><circle cx="310.6" cy="500.8" r="0.66"/><circle cx="309.3" cy="496.2" r="0.99"/><circle cx="305.8" cy="480.2" r="0.68"/><circle cx="323.9" cy="517.8" r="0.62"/><circle cx="315.0" cy="498.0" r="0.73"/><circle cx="319.5" cy="504.4" r="0.84"/><circle cx="317.3" cy="506.5" r="0.56"/><circle cx="313.0" cy="513.5" r="0.61"/><circle cx="317.5" cy="530.2" r="0.81"/><circle cx="311.2" cy="536.5" r="0.82"/><circle cx="306.4" cy="483.7" r="0.76"/><circle cx="315.2" cy="517.0" r="0.87"/><circle cx="308.3" cy="481.8" r="0.78"/><circle cx="317.9" cy="501.5" r="0.65"/><circle cx="324.3" cy="512.3" r="0.63"/><circle cx="312.6" cy="499.1" r="0.55"/><circle cx="312.1" cy="494.7" r="0.90"/><circle cx="305.6" cy="534.6" r="0.91"/><circle cx="309.0" cy="517.9" r="0.76"/><circle cx="316.6" cy="520.5" r="0.58"/><circle cx="308.6" cy="479.2" r="0.99"/><circle cx="317.3" cy="524.6" r="0.69"/><circle cx="312.9" cy="486.4" r="0.99"/><circle cx="319.1" cy="535.1" r="0.75"/><circle cx="311.0" cy="489.8" r="0.63"/><circle cx="310.0" cy="486.4" r="0.59"/><circle cx="320.7" cy="497.6" r="0.68"/><circle cx="322.5" cy="532.7" r="0.58"/><circle cx="320.1" cy="538.8" r="0.94"/><circle cx="321.9" cy="529.1" r="0.70"/><circle cx="313.9" cy="536.1" r="0.55"/><circle cx="315.0" cy="500.6" r="0.63"/><circle cx="315.1" cy="538.9" r="0.80"/><circle cx="299.9" cy="484.9" r="0.68"/><circle cx="314.7" cy="530.9" r="0.91"/><circle cx="317.7" cy="498.6" r="0.58"/><circle cx="317.1" cy="536.9" r="0.84"/><circle cx="317.4" cy="540.7" r="0.65"/><circle cx="319.6" cy="532.1" r="0.62"/><circle cx="321.1" cy="509.1" r="0.98"/><circle cx="318.0" cy="527.3" r="0.61"/><circle cx="315.3" cy="488.1" r="0.71"/><circle cx="311.0" cy="480.5" r="0.59"/><circle cx="326.2" cy="532.0" r="0.88"/><circle cx="321.4" cy="512.1" r="0.83"/><circle cx="317.4" cy="491.4" r="0.87"/><circle cx="310.1" cy="539.4" r="0.66"/><circle cx="324.0" cy="535.1" r="0.80"/><circle cx="314.2" cy="491.9" r="0.99"/><circle cx="321.9" cy="536.7" r="0.69"/><circle cx="314.8" cy="495.2" r="0.90"/><circle cx="324.6" cy="540.3" r="0.62"/><circle cx="320.6" cy="500.7" r="0.69"/><circle cx="317.8" cy="517.3" r="0.85"/><circle cx="321.2" cy="506.4" r="0.90"/><circle cx="307.7" cy="501.4" r="0.65"/><circle cx="322.2" cy="525.7" r="0.72"/><circle cx="314.5" cy="523.2" r="0.55"/><circle cx="329.0" cy="536.0" r="0.98"/><circle cx="324.5" cy="505.1" r="0.75"/><circle cx="314.6" cy="484.1" r="0.75"/><circle cx="331.2" cy="537.5" r="0.55"/><circle cx="317.0" cy="533.2" r="0.75"/><circle cx="317.0" cy="480.9" r="0.55"/><circle cx="321.3" cy="520.5" r="0.74"/><circle cx="306.5" cy="495.2" r="0.59"/><circle cx="320.0" cy="493.9" r="0.59"/><circle cx="323.9" cy="497.1" r="0.76"/><circle cx="324.3" cy="494.3" r="0.61"/><circle cx="318.9" cy="485.9" r="0.88"/><circle cx="333.1" cy="533.0" r="0.63"/><circle cx="325.0" cy="529.8" r="0.82"/><circle cx="324.6" cy="521.1" r="0.67"/><circle cx="326.1" cy="536.9" r="0.83"/><circle cx="327.1" cy="517.2" r="0.82"/><circle cx="320.2" cy="479.6" r="0.59"/><circle cx="325.2" cy="490.1" r="0.58"/><circle cx="325.7" cy="526.5" r="0.70"/><circle cx="318.8" cy="488.9" r="0.91"/><circle cx="325.2" cy="508.3" r="0.81"/><circle cx="321.9" cy="484.2" r="0.87"/><circle cx="317.6" cy="495.6" r="0.91"/><circle cx="320.1" cy="523.0" r="0.79"/><circle cx="325.4" cy="515.1" r="0.70"/><circle cx="328.2" cy="510.1" r="0.87"/><circle cx="327.9" cy="494.1" r="0.83"/><circle cx="321.9" cy="503.0" r="0.70"/><circle cx="330.8" cy="531.1" r="0.69"/><circle cx="289.1" cy="484.0" r="0.94"/><circle cx="312.2" cy="478.1" r="0.68"/><circle cx="328.6" cy="514.5" r="0.93"/><circle cx="327.9" cy="507.2" r="0.60"/><circle cx="325.3" cy="500.7" r="0.76"/><circle cx="328.1" cy="529.8" r="0.77"/><circle cx="314.3" cy="479.7" r="0.85"/><circle cx="322.7" cy="514.7" r="0.66"/><circle cx="332.2" cy="512.6" r="0.59"/><circle cx="330.5" cy="496.3" r="0.82"/><circle cx="321.9" cy="491.6" r="0.84"/><circle cx="321.4" cy="487.8" r="0.59"/><circle cx="329.9" cy="540.1" r="0.59"/><circle cx="320.5" cy="517.8" r="0.84"/><circle cx="333.7" cy="540.3" r="0.77"/><circle cx="335.1" cy="535.0" r="0.73"/><circle cx="305.0" cy="493.0" r="0.79"/><circle cx="323.0" cy="477.9" r="0.56"/><circle cx="336.5" cy="540.6" r="0.92"/><circle cx="336.0" cy="537.9" r="0.91"/><circle cx="330.1" cy="504.6" r="0.87"/><circle cx="328.9" cy="520.2" r="0.78"/><circle cx="336.4" cy="532.7" r="0.99"/><circle cx="332.3" cy="526.8" r="0.94"/><circle cx="318.5" cy="483.0" r="0.92"/><circle cx="333.3" cy="522.1" r="0.86"/><circle cx="317.4" cy="478.0" r="0.97"/><circle cx="306.0" cy="489.9" r="0.78"/><circle cx="324.1" cy="524.0" r="0.57"/><circle cx="331.1" cy="508.6" r="0.80"/><circle cx="334.5" cy="530.1" r="0.84"/><circle cx="326.4" cy="498.2" r="0.70"/><circle cx="327.7" cy="502.2" r="0.95"/><circle cx="327.2" cy="524.0" r="0.86"/><circle cx="322.8" cy="481.5" r="0.86"/><circle cx="329.8" cy="527.6" r="0.99"/><circle cx="330.0" cy="500.8" r="0.64"/><circle cx="324.5" cy="486.2" r="0.87"/><circle cx="325.6" cy="478.3" r="0.62"/><circle cx="339.1" cy="535.6" r="0.89"/><circle cx="326.1" cy="482.4" r="0.97"/><circle cx="329.1" cy="487.8" r="0.85"/><circle cx="339.8" cy="538.2" r="0.65"/><circle cx="292.9" cy="493.4" r="0.71"/><circle cx="334.1" cy="503.5" r="0.74"/><circle cx="329.6" cy="481.6" r="0.61"/><circle cx="332.8" cy="506.0" r="0.77"/><circle cx="334.7" cy="507.8" r="0.72"/><circle cx="329.7" cy="523.0" r="0.80"/><circle cx="328.4" cy="490.6" r="0.85"/><circle cx="329.7" cy="533.5" r="0.93"/><circle cx="329.3" cy="484.4" r="0.75"/><circle cx="339.9" cy="508.2" r="0.68"/><circle cx="339.3" cy="532.0" r="0.63"/><circle cx="331.1" cy="518.7" r="0.89"/><circle cx="333.0" cy="483.0" r="0.73"/><circle cx="333.8" cy="498.9" r="0.70"/><circle cx="339.1" cy="504.8" r="0.86"/><circle cx="329.6" cy="478.7" r="0.59"/><circle cx="341.9" cy="535.4" r="0.60"/><circle cx="338.0" cy="529.4" r="0.85"/><circle cx="335.4" cy="527.0" r="0.98"/><circle cx="334.2" cy="494.6" r="0.58"/><circle cx="344.7" cy="537.9" r="0.74"/><circle cx="342.2" cy="504.1" r="0.91"/><circle cx="340.0" cy="501.1" r="0.84"/><circle cx="334.0" cy="486.3" r="0.65"/><circle cx="334.7" cy="517.0" r="0.63"/><circle cx="346.0" cy="534.3" r="0.86"/><circle cx="348.1" cy="537.7" r="0.82"/><circle cx="342.7" cy="508.1" r="0.58"/><circle cx="335.1" cy="481.2" r="0.75"/><circle cx="332.0" cy="515.7" r="0.92"/><circle cx="342.0" cy="531.9" r="0.55"/><circle cx="336.9" cy="502.4" r="0.63"/><circle cx="341.9" cy="511.2" r="0.89"/><circle cx="331.7" cy="489.8" r="0.57"/><circle cx="336.8" cy="499.5" r="0.74"/><circle cx="334.2" cy="510.9" r="0.71"/><circle cx="338.9" cy="510.6" r="0.69"/><circle cx="335.9" cy="523.9" r="0.95"/><circle cx="337.1" cy="519.8" r="0.88"/><circle cx="337.1" cy="506.7" r="0.61"/><circle cx="341.1" cy="528.3" r="0.97"/><circle cx="338.9" cy="524.5" r="0.88"/><circle cx="340.9" cy="515.8" r="0.81"/><circle cx="338.5" cy="497.2" r="0.95"/><circle cx="330.5" cy="492.6" r="0.73"/><circle cx="344.2" cy="513.3" r="0.88"/><circle cx="334.3" cy="490.8" r="1.00"/><circle cx="338.0" cy="514.3" r="0.55"/><circle cx="346.0" cy="531.5" r="0.85"/><circle cx="345.3" cy="504.8" r="0.98"/><circle cx="334.4" cy="478.7" r="0.96"/><circle cx="335.5" cy="513.7" r="0.57"/><circle cx="345.6" cy="526.9" r="0.98"/><circle cx="342.0" cy="499.0" r="0.88"/><circle cx="349.3" cy="530.9" r="0.91"/><circle cx="331.3" cy="486.2" r="0.87"/><circle cx="344.4" cy="501.5" r="0.61"/><circle cx="346.6" cy="516.5" r="0.65"/><circle cx="349.2" cy="501.2" r="0.69"/><circle cx="348.5" cy="504.4" r="0.95"/><circle cx="335.8" cy="488.3" r="0.61"/><circle cx="337.3" cy="492.9" r="0.90"/><circle cx="344.9" cy="510.1" r="0.75"/><circle cx="339.4" cy="490.1" r="0.88"/><circle cx="346.2" cy="497.1" r="0.76"/><circle cx="346.2" cy="507.3" r="0.92"/><circle cx="341.7" cy="494.5" r="0.68"/><circle cx="342.4" cy="540.0" r="0.88"/><circle cx="336.9" cy="483.1" r="0.56"/><circle cx="354.1" cy="500.1" r="0.57"/><circle cx="344.0" cy="529.3" r="0.88"/><circle cx="338.7" cy="479.3" r="0.89"/><circle cx="354.1" cy="505.0" r="0.89"/><circle cx="339.2" cy="486.1" r="0.70"/><circle cx="346.7" cy="512.4" r="0.97"/><circle cx="349.6" cy="507.6" r="0.63"/><circle cx="349.1" cy="510.5" r="0.92"/><circle cx="342.2" cy="524.9" r="0.93"/><circle cx="347.2" cy="522.6" r="0.59"/><circle cx="351.3" cy="502.9" r="0.91"/><circle cx="351.9" cy="497.9" r="0.59"/><circle cx="349.3" cy="534.3" r="0.65"/><circle cx="340.0" cy="481.6" r="0.66"/><circle cx="349.2" cy="496.9" r="0.59"/><circle cx="342.6" cy="479.4" r="1.00"/><circle cx="352.4" cy="508.8" r="0.86"/><circle cx="350.0" cy="527.5" r="0.86"/><circle cx="341.9" cy="491.0" r="0.76"/><circle cx="352.5" cy="536.6" r="0.59"/><circle cx="349.0" cy="493.2" r="0.87"/><circle cx="352.2" cy="530.1" r="0.68"/><circle cx="345.4" cy="494.4" r="0.80"/><circle cx="342.0" cy="483.7" r="0.81"/><circle cx="352.6" cy="540.2" r="0.99"/><circle cx="350.0" cy="522.5" r="0.61"/><circle cx="347.2" cy="529.1" r="0.73"/><circle cx="346.5" cy="519.7" r="0.61"/><circle cx="344.1" cy="522.0" r="0.90"/><circle cx="353.8" cy="527.8" r="0.71"/><circle cx="348.1" cy="540.7" r="0.75"/><circle cx="354.0" cy="510.9" r="0.67"/><circle cx="350.5" cy="519.1" r="0.72"/><circle cx="352.0" cy="514.0" r="0.75"/><circle cx="348.7" cy="514.9" r="0.78"/><circle cx="344.4" cy="489.8" r="0.68"/><circle cx="343.6" cy="519.3" r="0.87"/><circle cx="354.8" cy="514.7" r="0.94"/><circle cx="354.0" cy="532.1" r="0.97"/><circle cx="342.7" cy="487.6" r="0.77"/><circle cx="340.3" cy="521.9" r="0.95"/><circle cx="346.7" cy="499.8" r="0.89"/><circle cx="345.7" cy="484.3" r="0.97"/><circle cx="344.8" cy="481.4" r="0.91"/><circle cx="349.4" cy="488.5" r="0.93"/><circle cx="348.9" cy="525.0" r="0.81"/><circle cx="340.0" cy="518.3" r="0.58"/><circle cx="353.9" cy="517.4" r="0.56"/><circle cx="348.4" cy="485.0" r="0.81"/><circle cx="351.6" cy="490.0" r="0.75"/><circle cx="345.0" cy="540.5" r="0.75"/><circle cx="354.2" cy="495.3" r="0.82"/><circle cx="346.5" cy="491.8" r="0.76"/><circle cx="354.9" cy="538.5" r="0.96"/><circle cx="354.0" cy="520.5" r="0.56"/><circle cx="354.9" cy="491.7" r="0.59"/><circle cx="351.6" cy="525.5" r="0.59"/><circle cx="351.4" cy="485.4" r="0.79"/><circle cx="346.9" cy="479.1" r="0.59"/><circle cx="354.4" cy="485.9" r="0.87"/><circle cx="352.2" cy="534.0" r="0.96"/><circle cx="352.4" cy="493.2" r="0.71"/><circle cx="346.0" cy="487.5" r="0.63"/><circle cx="349.4" cy="482.4" r="0.61"/><circle cx="351.0" cy="478.5" r="0.76"/><circle cx="354.6" cy="523.7" r="0.68"/><circle cx="352.1" cy="480.9" r="0.96"/><circle cx="353.7" cy="483.4" r="0.63"/><circle cx="354.3" cy="489.1" r="0.96"/><circle cx="354.8" cy="535.4" r="0.93"/><circle cx="354.7" cy="478.4" r="0.68"/></g>
<rect x="35.2" y="542.9" width="104.8" height="64.9" fill="#dd90ca"/>
<rect x="35.2" y="542.9" width="104.8" height="64.9" filter="url(#nz1)" opacity="0.55"/>
<rect x="35.2" y="542.9" width="104.8" height="64.9" filter="url(#nz2)" opacity="0.6"/>
<path d="M42.68 544.04L35.09 537.38 M36.69 548.76L31.22 542.18 M35.09 537.38L31.22 542.18 M141.08 555.85L184.78 542.3 M406.82 592.36L141.21 604.26 M82.1 560.52L80.79 557.47 M82.1 560.52L88.74 562.34 M80.79 557.47L82.54 553.35 M115.17 571.18L118.55 567.5 M101.24 542.28L109.28 516.81 M110.26 521.02L110.7 545.45 M97.52 543.27L92.95 537.54 M92.95 537.54L102.78 387.35 M102.78 387.35L109.28 516.81 M119.62 540.45L110.26 521.02 M127.77 539.47L124.59 541.59 M113.8 547.41L114.74 547.14 M113.8 547.41L110.7 545.45 M50.78 -84.28L44.17 337.23 M43.06 544L46.81 541.09 M50.78 -84.28L65.84 505.18 M46.81 541.09L54.21 544.27 M139.83 579.43L164.54 588.71 M139.83 579.43L139.79 579.36 M539.01 592.14L142.78 571.54 M139.83 579.43L136.78 588.2 M147.19 591.61L136.78 588.2 M93.11 549.02L88.15 545.1 M93.11 549.02L94.13 549.04 M88.15 545.1L88.04 542.08 M88.04 542.08L84.07 539.02 M111.31 555.91L110.71 561.83 M120.71 558.48L120.26 557.15 M113.8 547.41L113.19 554.12 M114.74 547.14L124.12 549.96 M124.12 549.96L124.21 549.92 M135.76 542.5L133.52 543.05 M133.52 543.05L129.94 551.46 M140.57 546.04L137.36 554.01 M137.36 554.01L132.8 554.94 M129.94 551.46L132.26 554.74 M132.8 554.94L132.26 554.74 M124.21 549.92L129.94 551.46 M141.08 555.85L137.36 554.01 M80.35 548.68L78.79 547.8 M102.06 557.25L103.92 553.94 M96.24 557.86L94.58 549.5 M103.25 551.52L103.92 553.94 M93.74 561.1L97.39 566.05 M97.39 566.05L104.34 562.77 M36.22 565.16L43.45 556.43 M36.22 565.16L36.12 565.18 M36.12 565.18L33.15 558.71 M36.7 552.07L43.45 556.43 M35.84 565.43L-25.85 569.99 M-5455.01 608.87L-25.85 569.99 M36.12 565.18L35.84 565.43 M43.06 544L47.07 552.98 M43.45 556.43L45.57 556.25 M54.45 544.58L54.21 544.27 M47.07 552.98L54.44 549.23 M57.08 552.25L53.01 560.94 M57.14 563.12L53.01 560.94 M42.19 607.93L44.06 600.18 M42.19 607.93L44.86 609.98 M44.86 609.98L50.57 606.51 M50.57 606.51L50.32 600.64 M79.01 566.03L82.87 568.73 M79.01 566.03L74.93 566.57 M71.58 553.64L65.77 550.63 M71.58 553.64L72.43 557.66 M61.94 553.36L65.77 550.63 M64.66 561.71L72.43 557.66 M78.79 547.8L77.66 548.01 M73.15 558.26L72.43 557.66 M115.99 574.21L115.17 571.18 M122.38 576.53L125.87 573.85 M118.55 567.5L122.81 568.19 M125.78 561.02L126.21 563.32 M135.19 563.34L141.82 563.11 M135.19 563.34L132.92 566.77 M132.92 566.77L133.26 569.76 M133.26 569.76L142.34 571.07 M141.82 563.11L142.34 571.07 M132.8 554.94L135.19 563.34 M125.87 573.85L130.28 574.44 M130.28 574.44L133.26 569.76 M131.37 576.5L139.79 579.36 M142.78 571.54L142.34 571.07 M70.86 543.77L72.37 533.74 M67.37 517.93L62.77 543.14 M79.33 541.41L72.37 533.74 M65.84 505.18L67.37 517.93 M44.68 568.72L43.35 576.76 M43.35 576.76L50.88 577.92 M36.22 565.16L44.68 568.72 M49.81 561.24L47.04 567.55 M43.06 577.01L35.72 576.95 M43.06 577.01L43.35 576.76 M35.72 576.95L34.17 574.39 M57.74 570.5L52.84 571.52 M35.72 576.95L34.28 580.27 M-267.85 625.27L-19.4 592.16 M34.28 580.27L-19.4 592.16 M51.94 586.25L52.32 579.78 M43.06 577.01L43.54 584.46 M43.54 584.46L51.41 586.72 M50.57 606.51L56.49 609.5 M72.61 569.18L77.4 576.59 M66.84 577.14L71.91 582.87 M66.84 577.14L67.7 569.9 M74.93 566.57L72.61 569.18 M82.17 576.72L77.4 576.59 M59.06 577.87L60.88 579.32 M115.99 574.21L112.41 579.83 M108.47 569.21L105.94 572.4 M129.74 583.39L123.32 585.28 M134.92 597.47L132.77 593.19 M139.26 607.56L131.1 607.35 M134.92 597.47L129.75 605.46 M132.77 593.19L126.95 593.92 M69.48 593.42L61.69 590.21 M69.48 593.42L71.47 583.62 M71.47 583.62L61.12 586.6 M61.69 590.21L60.92 586.9 M60.92 586.9L61.12 586.6 M71.89 583.19L71.91 582.87 M60.88 579.32L61.12 586.6 M50.46 591.77L51.41 586.72 M50.46 591.77L53.05 596.21 M59.99 593.86L61.69 590.21 M33.61 588.64L36.67 595.12 M41.36 586.29L42.32 593.84 M36.67 595.12L39.32 596.34 M42.32 593.84L40.63 596.16 M-19.4 592.16L33.61 588.64 M50.46 591.77L42.32 593.84 M44.06 600.18L40.63 596.16 M53.05 596.21L52.73 598.3 M38.4 607.87L42.19 607.93 M58.9 602.9L63.12 599.6 M58.7 607.61L65.24 608.99 M65.24 608.99L67.53 603.05 M97.59 576.94L91.42 574.16 M97.59 576.94L101.75 572.55 M97.39 566.08L101.75 572.55 M105.94 572.4L101.75 572.55 M98.44 580.67L97.59 576.94 M97.39 566.05L97.39 566.08 M87.39 567.2L91.4 572.03 M82.17 576.72L85.06 578.69 M85.06 578.69L86.1 578.55 M120.84 596L118.11 601.25 M127.62 604.59L124.22 605.28 M126.95 593.92L125.63 595.24 M70.06 594.48L71.74 594.94 M71.74 594.94L76.18 602.08 M67.53 603.05L75.7 604.24 M76.18 602.08L75.7 604.24 M68.94 614.27L65.24 608.99 M109.12 586.83L112.32 591.61 M116.14 590.78L112.32 591.61 M103.17 582.08L105.04 586.2 M105.04 586.2L109.12 586.83 M120.87 584.35L120.05 584.62 M120.84 596L116.14 590.78 M131.1 607.35L125.71 633.43 M125.71 633.43L120.66 610.93 M125.71 633.43L124.11 4295.81 M68.94 614.27L93.65 1403.56 M81.91 609.09L95.58 784.11 M51.67 646.27L99.05 2296.39 M118.11 601.25L113.82 602.81 M112.32 591.61L110.24 594.82 M110.24 594.82L113.82 602.81 M113.78 607.01L100.29 659.51 M99.95 649.48L100.29 659.51 M120.66 610.93L113.78 607.01 M95.58 784.11L100.29 659.51 M113.82 602.81L112.83 604.62 M81.91 609.09L85.51 606.49 M99.95 649.48L93.54 608.41 M93.54 608.41L85.51 606.49 M95.19 584.84L93.21 585.09 M81.58 597.65L79.2 591.11 M88.85 590.56L90.1 594.24 M88.85 590.56L82.13 587.68 M90.1 594.24L88.37 597.88 M86.39 598.97L88.37 597.88 M79.2 591.11L79.99 588.73 M79.99 588.73L82.13 587.68 M76.18 602.08L81.58 597.65 M85.51 606.49L86.39 598.97 M85.06 578.69L82.13 587.68 M93.21 585.09L88.85 590.56 M96.07 604.18L88.37 597.88 M106.53 595.34L101.31 602.6 M106.53 595.34L101.48 590.7 M101.48 590.7L99.41 590.92 M110.24 594.82L106.53 595.34 M105.04 586.2L101.48 590.7" stroke="#fff" stroke-opacity="0.3" stroke-width="0.8" fill="none" clip-path="url(#cp10)"/>
<clipPath id="cp10"><rect x="35.2" y="542.9" width="104.8" height="64.9"/></clipPath>
<g fill="#a262c2" fill-opacity="0.62" stroke="#74389e" stroke-opacity="0.6" stroke-width="0.55"><circle cx="138.32" cy="566.74" r="1.22"/><circle cx="85.5" cy="557.94" r="1.6"/><circle cx="77.88" cy="561.2" r="1.34"/><circle cx="103.05" cy="577.55" r="1.72"/><circle cx="78.85" cy="582.28" r="1.69"/><circle cx="106.42" cy="558.25" r="1.53"/><circle cx="71.57" cy="575.91" r="1.37"/><circle cx="77.17" cy="554.41" r="1.74"/><circle cx="48.44" cy="547.68" r="1.41"/><circle cx="86.12" cy="571.59" r="1.79"/><circle cx="130.82" cy="561.79" r="1.56"/><circle cx="86.78" cy="549.9" r="1.51"/><circle cx="46.59" cy="604.26" r="1.74"/><circle cx="128.47" cy="588.26" r="1.77"/><circle cx="58.13" cy="557.79" r="1.6"/><circle cx="115.64" cy="559.19" r="1.41"/><circle cx="53.29" cy="566.94" r="1.58"/><circle cx="42.21" cy="550.46" r="1.7"/><circle cx="48.73" cy="573.6" r="1.46"/><circle cx="100.5" cy="547.36" r="1.71"/><circle cx="128.05" cy="545.18" r="1.58"/><circle cx="55.07" cy="575.54" r="1.36"/><circle cx="118.54" cy="552.4" r="1.23"/><circle cx="89.89" cy="603.53" r="1.42"/><circle cx="47.53" cy="581.39" r="1.53"/><circle cx="39.26" cy="572.04" r="1.47"/><circle cx="127.64" cy="567.96" r="1.29"/><circle cx="66.78" cy="556.62" r="1.52"/><circle cx="134.58" cy="582.01" r="1.45"/><circle cx="63.35" cy="604.32" r="1.69"/><circle cx="54.35" cy="603.94" r="1.55"/><circle cx="47.15" cy="596.51" r="1.21"/><circle cx="73.56" cy="590.01" r="1.31"/><circle cx="39.18" cy="581.92" r="1.67"/><circle cx="121.85" cy="591.04" r="1.24"/><circle cx="117.7" cy="578.38" r="1.41"/><circle cx="135.58" cy="602.75" r="1.54"/><circle cx="137.26" cy="574.09" r="1.73"/><circle cx="92.93" cy="579.85" r="1.25"/><circle cx="126.04" cy="579.99" r="1.2"/><circle cx="111.5" cy="574.42" r="1.5"/><circle cx="39.95" cy="602.66" r="1.42"/><circle cx="101.64" cy="595.67" r="1.42"/><circle cx="52.15" cy="554.99" r="1.36"/><circle cx="37.49" cy="557.76" r="1.57"/><circle cx="84.4" cy="593.58" r="1.61"/><circle cx="96.68" cy="571.53" r="1.25"/><circle cx="56.21" cy="591.23" r="1.38"/><circle cx="79.17" cy="570.99" r="1.32"/><circle cx="71.25" cy="548" r="1.68"/><circle cx="94.22" cy="590.24" r="1.51"/><circle cx="102.7" cy="567.46" r="1.27"/><circle cx="92.29" cy="555.36" r="1.75"/><circle cx="38.27" cy="590.08" r="1.69"/><circle cx="107.78" cy="600.08" r="1.57"/><circle cx="113.84" cy="566.47" r="1.66"/><circle cx="64.42" cy="595.07" r="1.45"/><circle cx="94.21" cy="598.25" r="1.48"/><circle cx="91.94" cy="566.75" r="1.8"/><circle cx="70.04" cy="562.88" r="1.61"/><circle cx="120.82" cy="544.85" r="1.28"/><circle cx="45.3" cy="589.19" r="1.64"/><circle cx="100.59" cy="585.81" r="1.64"/><circle cx="61.56" cy="566.26" r="1.26"/><circle cx="98.94" cy="554.03" r="1.68"/><circle cx="106.44" cy="590.44" r="1.56"/><circle cx="123.34" cy="600.41" r="1.53"/><circle cx="76.81" cy="596.34" r="1.24"/><circle cx="107.67" cy="582.58" r="1.71"/><circle cx="99.67" cy="561.05" r="1.71"/><circle cx="67.05" cy="588.69" r="1.51"/><circle cx="62.54" cy="574.84" r="1.6"/><circle cx="58.6" cy="598.24" r="1.78"/></g>
<g fill="#3a1a60" fill-opacity="0.7"><circle cx="57.46" cy="573.91" r="0.47"/><circle cx="36.17" cy="558.09" r="0.61"/><circle cx="60.91" cy="591.06" r="0.55"/><circle cx="85.35" cy="578.25" r="0.63"/><circle cx="100.59" cy="559.55" r="0.61"/><circle cx="97.25" cy="553.26" r="0.65"/><circle cx="35.89" cy="588.86" r="0.55"/><circle cx="66.71" cy="574.29" r="0.5"/><circle cx="100.37" cy="592.03" r="0.58"/><circle cx="120.13" cy="576.15" r="0.64"/><circle cx="108.98" cy="550.18" r="0.59"/><circle cx="137.48" cy="596.63" r="0.7"/><circle cx="112.59" cy="581.82" r="0.46"/><circle cx="66.52" cy="554.28" r="0.62"/><circle cx="70.67" cy="553.41" r="0.56"/><circle cx="41.68" cy="543.63" r="0.45"/><circle cx="91.57" cy="587.04" r="0.63"/><circle cx="82.54" cy="589.53" r="0.41"/><circle cx="51.38" cy="580.36" r="0.46"/><circle cx="136.71" cy="553.09" r="0.42"/><circle cx="95.67" cy="605.63" r="0.48"/><circle cx="105.84" cy="585.13" r="0.58"/><circle cx="73.03" cy="564.02" r="0.52"/><circle cx="92.18" cy="568.04" r="0.45"/><circle cx="55.9" cy="579.05" r="0.51"/><circle cx="106.51" cy="546.36" r="0.45"/><circle cx="66.6" cy="549.92" r="0.54"/><circle cx="44.66" cy="546.24" r="0.48"/><circle cx="122.48" cy="587.24" r="0.63"/><circle cx="48.3" cy="599.9" r="0.47"/><circle cx="134.97" cy="574.98" r="0.62"/><circle cx="83.95" cy="570.81" r="0.52"/><circle cx="103.97" cy="545.31" r="0.7"/><circle cx="98.59" cy="546.3" r="0.58"/><circle cx="38.92" cy="553.19" r="0.53"/><circle cx="56.72" cy="557.87" r="0.43"/><circle cx="110.8" cy="546.99" r="0.58"/><circle cx="57.15" cy="561.55" r="0.47"/><circle cx="45.49" cy="560.61" r="0.5"/><circle cx="39.39" cy="558.38" r="0.57"/><circle cx="40.11" cy="571.51" r="0.55"/><circle cx="130.1" cy="602.4" r="0.55"/><circle cx="46.28" cy="579.82" r="0.68"/><circle cx="65.29" cy="563.04" r="0.56"/><circle cx="110.27" cy="565.55" r="0.64"/><circle cx="79.63" cy="545.46" r="0.4"/><circle cx="48" cy="606.07" r="0.44"/><circle cx="139.09" cy="591.63" r="0.6"/><circle cx="57.72" cy="564.96" r="0.54"/><circle cx="90.13" cy="568.42" r="0.67"/><circle cx="125.28" cy="571.11" r="0.7"/><circle cx="49.32" cy="604.07" r="0.54"/><circle cx="51.23" cy="597.09" r="0.6"/><circle cx="97.27" cy="550.55" r="0.51"/><circle cx="89.41" cy="547.05" r="0.42"/><circle cx="80.16" cy="564.64" r="0.55"/><circle cx="114.49" cy="562.16" r="0.41"/><circle cx="38.93" cy="580.43" r="0.51"/><circle cx="116.83" cy="581.16" r="0.53"/><circle cx="135.38" cy="577.1" r="0.54"/><circle cx="40.73" cy="560.53" r="0.69"/><circle cx="113.13" cy="598.99" r="0.48"/><circle cx="116.51" cy="577.56" r="0.51"/><circle cx="93.02" cy="580.35" r="0.49"/><circle cx="124.23" cy="590.56" r="0.56"/><circle cx="88.43" cy="592.03" r="0.67"/><circle cx="114.94" cy="569.47" r="0.59"/><circle cx="112.72" cy="605.93" r="0.65"/><circle cx="136.16" cy="551.52" r="0.58"/><circle cx="95.73" cy="604.14" r="0.61"/></g>
<rect x="142.9" y="542.9" width="105.1" height="64.9" fill="#e7a6d0"/>
<rect x="142.9" y="542.9" width="105.1" height="64.9" filter="url(#nz1)" opacity="0.55"/>
<rect x="142.9" y="542.9" width="105.1" height="64.9" filter="url(#nz2)" opacity="0.6"/>
<path d="M1106.75 557.68L284.58 565.72 M258.1 546.63L249.2 551.68 M249.2 551.68L247.82 555.98 M247.82 555.98L284.58 565.72 M143.42 558.63L134.92 549.94 M138.93 1964.71L150.95 607.14 M144.25 605.31L150.95 607.14 M-435.45 594.86L142.78 602.81 M258.1 546.63L249.9 542.05 M205.31 551.01L208.98 546 M205.31 551.01L198.2 549.41 M195.81 544.98L195.64 545.61 M195.81 544.98L201.84 538.75 M198.2 549.41L195.64 545.61 M208.98 546L201.84 538.75 M189.28 536.38L195.81 544.98 M204.34 514.72L201.84 538.75 M136.35 549.16L141.87 540.53 M146.6 548.84L145.75 542.54 M141.87 540.53L145.75 542.54 M148.91 550.79L146.6 548.84 M134.92 549.94L136.35 549.16 M148.91 550.79L150.76 550.54 M150.76 550.54L156.47 544.84 M149.69 540.52L156.47 544.84 M252.83 605.68L246.47 611.12 M175.37 535.12L171.22 546.02 M171.22 546.02L168.85 546.27 M164.56 542.79L168.85 546.27 M170.13 508.46L165.14 444.27 M165.14 444.27L156.83 544.63 M156.47 544.84L156.69 544.78 M165.14 444.27L160.94 324.33 M156.83 544.63L156.69 544.78 M72.53 587.06L144.22 588.73 M-58.2 584.1L46.73 585.1 M46.73 585.1L72.53 587.06 M141.63 1886.16L187.92 738.68 M163.93 630.88L169.45 605.76 M169.45 605.76L172.34 606.23 M186.45 663.63L179.07 614.67 M150.95 607.14L153.28 605.27 M163.93 630.88L160.1 606.98 M160.1 606.98L164.2 604.27 M221.79 567.2L226.29 565.44 M226.29 565.44L230.06 567.05 M230.06 567.05L231.89 570.32 M231.89 570.32L230.64 575.29 M228.05 576.97L230.64 575.29 M228.05 576.97L224.86 576.4 M228.58 583.99L222.91 586.23 M216.81 563.3L209.97 565.85 M220.85 570.57L214.67 574.6 M209.97 565.85L214.67 574.6 M217.13 580.53L214.21 575.77 M214.67 574.6L214.21 575.77 M224.7 633.29L218.58 611.21 M218.58 611.21L222.69 605.68 M225.04 605.36L222.69 605.68 M234.83 600.87L227.18 598.57 M225.04 605.36L227.18 598.57 M161.31 596.88L168.72 593.27 M196.08 555.83L198.2 549.41 M196.08 555.83L197.86 558.93 M196.08 555.83L190.47 555.5 M230.06 567.05L235.89 561.59 M231.89 570.32L241.6 570.56 M241.6 570.56L238.23 562.34 M235.89 561.59L238.23 562.34 M266.38 567.88L247.82 564.17 M266.38 567.88L284.58 565.72 M245.77 557.52L245.69 557.84 M238.23 562.34L245.69 557.84 M245.77 557.52L239.13 552.34 M234.36 557.81L239.13 552.34 M204.34 514.72L213.86 543.11 M213.86 543.11L212.98 545.25 M234.59 183.52L221.3 538.66 M232.52 586.01L236.71 579.26 M234.83 600.87L236.16 600.26 M234.39 590L234.73 590.14 M139.71 578.93L145.05 587.59 M143.45 576.08L149.44 578.15 M149.44 578.15L149.62 585.95 M46.73 585.1L139.71 578.93 M143.53 570.28L143.45 576.08 M159.93 580.4L153.71 575.39 M153.71 575.39L149.44 578.15 M151.28 586.65L159.79 582.57 M151.28 586.65L149.62 585.95 M242.82 606.67L247.12 600.24 M242.87 597.16L247.12 600.24 M246.47 611.12L242.82 606.67 M236.16 600.26L236.97 600.45 M184.92 542.04L189.82 547.73 M183.89 550.94L188.48 549.85 M188.48 549.85L189.82 547.73 M175.37 535.12L181.66 542.33 M171.22 546.02L175.1 549.22 M175.1 549.22L179.56 547.66 M195.64 545.61L189.82 547.73 M190.47 555.5L188.48 549.85 M157.08 558.62L158.73 568.46 M157.08 558.62L149.08 562.31 M149.08 562.31L149.25 567 M149.25 567L154.19 570.71 M144.98 558.53L149.08 562.31 M150.76 550.54L157.37 558.18 M153.71 575.39L154.19 570.71 M159.93 580.4L165.65 575.77 M161.02 568.83L158.73 568.46 M172.34 606.23L177.94 602.47 M158.14 592.59L153.82 591.62 M153.82 591.62L150.45 596.61 M162.3 586.37L167.29 588.01 M167.29 588.01L168.72 593.27 M222.69 605.68L217.49 601.64 M224.59 594.53L217.9 598.48 M209.17 577.08L205.87 582.07 M205.87 582.07L211.87 587.03 M221.97 589.47L212.52 590.17 M211.87 587.03L212.52 590.17 M212.09 593.67L217.9 598.48 M165.65 575.77L167.04 575.83 M167.04 575.83L170.51 578.56 M167.29 588.01L170.27 584.94 M170.51 578.56L170.27 584.94 M174.18 595.04L178.2 586.77 M199.25 572.64L205.27 572.09 M209.34 565.71L207.71 564.02 M206.67 556.45L206.78 556.55 M188.97 563.12L189.45 569.96 M209.17 577.08L205.27 572.09 M209.97 565.85L209.34 565.71 M233.17 548.21L238.73 550.6 M238.73 550.6L243.65 544.43 M243.06 543.01L243.71 543.93 M239.13 552.34L238.73 550.6 M229.13 551.43L230.4 556.42 M229.13 551.43L233.17 548.21 M234.59 183.52L233.3 539.74 M221.3 538.66L224.89 542.58 M224.89 542.58L232.14 541.35 M215.32 547.86L215.51 555.52 M221.41 556.02L224.69 550.19 M221.41 556.02L217.2 557.08 M224.69 550.19L223.39 548.04 M217.2 557.08L215.51 555.52 M212.98 545.25L215.32 547.86 M206.78 556.55L215.51 555.52 M241.46 578.43L241.79 570.69 M266.38 567.88L252.12 573.51 M247.82 564.17L244.16 569.68 M252.12 573.51L244.16 569.68 M248.59 589.87L242.66 589.7 M254.08 585.31L248.97 579.69 M242.2 589.35L242.53 579.55 M242.2 589.35L242.66 589.7 M248.97 579.69L242.53 579.55 M251.32 596.5L248.59 589.87 M242.87 597.16L242.66 589.7 M241.46 578.43L242.53 579.55 M169.54 556.52L167.41 563.15 M169.54 556.52L164.73 552.27 M167.41 563.15L158.82 557.62 M164.73 552.27L162.18 552.72 M175.1 549.22L174.71 554.7 M168.85 546.27L164.73 552.27 M157.37 558.18L158.82 557.62 M161.02 568.83L167.46 563.3 M156.69 544.78L162.18 552.72 M174.71 554.7L178.05 557.98 M183.89 550.94L181.57 558.47 M178.05 557.98L181.57 558.47 M186.81 560.67L183.54 560.18 M183.54 560.18L181.57 558.47 M167.04 575.83L172.49 566.72 M172.49 566.72L172.38 566.5 M189.07 605.93L182.78 604.32 M189.07 605.93L190.7 604.97 M190.7 604.97L191.94 598.87 M182.78 604.32L182.62 604.08 M186.45 663.63L189.07 605.93 M179.07 614.67L182.78 604.32 M198.24 616.38L188.2 686.1 M177.94 602.47L182.62 604.08 M184.24 594.72L175.86 596.14 M184.24 594.72L184.95 596.22 M211.52 605.44L208.36 600 M210.47 608.05L203.9 607.88 M210.47 608.05L211.14 607.43 M203.9 607.88L200.51 603.11 M200.51 603.11L200.94 600.53 M218.58 611.21L211.14 607.43 M198.24 616.38L203.9 607.88 M187.92 738.68L210.47 608.05 M195.64 606.73L200.51 603.11 M201.7 591.9L202.13 599.34 M192.97 598.13L200.94 600.53 M197.63 589.16L194.2 580.08 M199.48 589.4L205.24 582.18 M192.97 598.13L194.47 590.74 M194.47 590.74L197.63 589.16 M205.87 582.07L205.24 582.18 M177.56 577.13L177.29 569.43 M179.97 568.4L177.29 569.43 M187.92 583.25L187.35 588.89 M187.92 583.25L181.61 578.83 M185.22 590.22L187.35 588.89 M178.2 586.77L178.39 586.68 M194.47 590.74L187.35 588.89" stroke="#fff" stroke-opacity="0.3" stroke-width="0.8" fill="none" clip-path="url(#cp11)"/>
<clipPath id="cp11"><rect x="142.9" y="542.9" width="105.1" height="64.9"/></clipPath>
<g fill="#a262c2" fill-opacity="0.62" stroke="#74389e" stroke-opacity="0.6" stroke-width="0.55"><circle cx="233.76" cy="553.26" r="1.4"/><circle cx="183.46" cy="584.36" r="1.33"/><circle cx="156.76" cy="551.79" r="1.23"/><circle cx="186.27" cy="554.56" r="1.54"/><circle cx="215.41" cy="568.91" r="1.42"/><circle cx="162.75" cy="591.98" r="1.23"/><circle cx="242.59" cy="563.83" r="1.74"/><circle cx="231.05" cy="560.98" r="1.61"/><circle cx="225.94" cy="555.26" r="1.39"/><circle cx="203.5" cy="568.23" r="1.37"/><circle cx="238.88" cy="595.44" r="1.61"/><circle cx="149.52" cy="544.54" r="1.64"/><circle cx="218.05" cy="593.77" r="1.59"/><circle cx="237.24" cy="545.17" r="1.65"/><circle cx="155.14" cy="596.15" r="1.55"/><circle cx="226.36" cy="571.96" r="1.21"/><circle cx="179.88" cy="552.6" r="1.45"/><circle cx="205.49" cy="604.04" r="1.27"/><circle cx="179.41" cy="592.16" r="1.45"/><circle cx="206.4" cy="595.45" r="1.79"/><circle cx="151.13" cy="556.66" r="1.24"/><circle cx="228.39" cy="546.5" r="1.66"/><circle cx="202.48" cy="561.17" r="1.49"/><circle cx="174.76" cy="582.46" r="1.22"/><circle cx="148.08" cy="600.68" r="1.76"/><circle cx="202.63" cy="545.75" r="1.35"/><circle cx="237.68" cy="584.09" r="1.55"/><circle cx="224.72" cy="581.08" r="1.61"/><circle cx="211.14" cy="551.98" r="1.73"/><circle cx="192.74" cy="559.14" r="1.75"/><circle cx="189.69" cy="594.4" r="1.64"/><circle cx="166.06" cy="598.77" r="1.61"/><circle cx="230.17" cy="603.16" r="1.52"/><circle cx="172.7" cy="559.91" r="1.24"/><circle cx="181.94" cy="573" r="1.38"/><circle cx="187.29" cy="600.73" r="1.52"/><circle cx="166.49" cy="569.47" r="1.44"/><circle cx="235.97" cy="574.39" r="1.46"/><circle cx="244.36" cy="550.84" r="1.78"/><circle cx="221.92" cy="560.59" r="1.4"/><circle cx="236.5" cy="605.79" r="1.22"/><circle cx="222.1" cy="600.63" r="1.4"/><circle cx="206.24" cy="588.15" r="1.31"/><circle cx="149.12" cy="592.09" r="1.76"/><circle cx="200.63" cy="554.61" r="1.22"/><circle cx="184.54" cy="566.35" r="1.59"/><circle cx="219.7" cy="551.76" r="1.74"/><circle cx="173.63" cy="600.99" r="1.8"/><circle cx="212.08" cy="559.98" r="1.2"/><circle cx="172.9" cy="573.32" r="1.6"/><circle cx="192.07" cy="585.22" r="1.55"/><circle cx="154.7" cy="564.41" r="1.2"/><circle cx="173.22" cy="589.14" r="1.23"/><circle cx="178.35" cy="563.66" r="1.41"/><circle cx="169.89" cy="551.9" r="1.66"/><circle cx="187.44" cy="578.68" r="1.77"/><circle cx="227.75" cy="588.75" r="1.52"/><circle cx="232.2" cy="596.39" r="1.66"/><circle cx="159.1" cy="601.49" r="1.33"/><circle cx="148.29" cy="572.96" r="1.66"/><circle cx="145.32" cy="581.52" r="1.53"/><circle cx="195.5" cy="602.4" r="1.2"/><circle cx="236.17" cy="566.46" r="1.48"/><circle cx="238.95" cy="557.78" r="1.4"/><circle cx="217.46" cy="585.8" r="1.43"/><circle cx="165.01" cy="557.44" r="1.32"/><circle cx="184.39" cy="546.62" r="1.58"/><circle cx="220.18" cy="576.22" r="1.65"/><circle cx="156.95" cy="588.09" r="1.43"/><circle cx="242.23" cy="601.45" r="1.59"/><circle cx="231.95" cy="580.54" r="1.57"/><circle cx="161.21" cy="563.32" r="1.68"/><circle cx="180.53" cy="598.73" r="1.37"/></g>
<g fill="#3a1a60" fill-opacity="0.7"><circle cx="232.19" cy="557.04" r="0.43"/><circle cx="179.24" cy="585.4" r="0.46"/><circle cx="226.04" cy="579.76" r="0.51"/><circle cx="190.86" cy="575.59" r="0.69"/><circle cx="178.35" cy="591.59" r="0.5"/><circle cx="153.05" cy="574.51" r="0.54"/><circle cx="240.93" cy="601.91" r="0.7"/><circle cx="239.55" cy="563.71" r="0.62"/><circle cx="198.19" cy="563.14" r="0.42"/><circle cx="244.31" cy="549.62" r="0.47"/><circle cx="219.72" cy="598.98" r="0.47"/><circle cx="146.02" cy="567.77" r="0.41"/><circle cx="218.29" cy="548.06" r="0.46"/><circle cx="148.17" cy="585.52" r="0.56"/><circle cx="146.35" cy="569.26" r="0.5"/><circle cx="154.52" cy="563.85" r="0.66"/><circle cx="232.11" cy="565.76" r="0.55"/><circle cx="199.02" cy="604.43" r="0.53"/><circle cx="201.59" cy="558.81" r="0.56"/><circle cx="150.18" cy="545.09" r="0.51"/><circle cx="196.42" cy="577.38" r="0.47"/><circle cx="195.23" cy="575.18" r="0.68"/><circle cx="198.41" cy="556.75" r="0.64"/><circle cx="185.4" cy="603.23" r="0.44"/><circle cx="186.8" cy="579.98" r="0.65"/><circle cx="144.32" cy="607.13" r="0.61"/><circle cx="202.95" cy="550.3" r="0.67"/><circle cx="233.3" cy="578.91" r="0.4"/><circle cx="171.22" cy="554.75" r="0.67"/><circle cx="178.76" cy="554.56" r="0.58"/><circle cx="220.19" cy="598.98" r="0.46"/><circle cx="192.88" cy="581.35" r="0.61"/><circle cx="146.7" cy="599.98" r="0.61"/><circle cx="224.96" cy="604.47" r="0.56"/><circle cx="235.02" cy="598.05" r="0.4"/><circle cx="195.97" cy="583.17" r="0.42"/><circle cx="194.58" cy="591.96" r="0.48"/><circle cx="237.85" cy="604.81" r="0.61"/><circle cx="244.8" cy="568.92" r="0.41"/><circle cx="202.29" cy="567.14" r="0.49"/><circle cx="152.59" cy="558.78" r="0.66"/><circle cx="208.46" cy="573.78" r="0.42"/><circle cx="223.66" cy="547.31" r="0.43"/><circle cx="222.09" cy="553.2" r="0.44"/><circle cx="229.04" cy="582.26" r="0.63"/><circle cx="245.37" cy="594.33" r="0.48"/><circle cx="208.4" cy="551.12" r="0.62"/><circle cx="205.34" cy="606.68" r="0.51"/><circle cx="193.4" cy="562.43" r="0.67"/><circle cx="160.08" cy="570.58" r="0.67"/><circle cx="226.86" cy="550.59" r="0.64"/><circle cx="154.09" cy="565.56" r="0.56"/><circle cx="177.16" cy="574.51" r="0.44"/><circle cx="205.18" cy="576.71" r="0.49"/><circle cx="159.78" cy="589.86" r="0.43"/><circle cx="182.94" cy="582" r="0.61"/><circle cx="206.32" cy="575.12" r="0.46"/><circle cx="190.78" cy="553.68" r="0.51"/><circle cx="207.64" cy="591.51" r="0.51"/><circle cx="206.67" cy="582.22" r="0.66"/><circle cx="238.45" cy="552.39" r="0.5"/><circle cx="181.33" cy="593.97" r="0.55"/><circle cx="236.8" cy="594.77" r="0.48"/><circle cx="238.22" cy="557.97" r="0.68"/><circle cx="162.91" cy="557.61" r="0.55"/><circle cx="216.58" cy="562.69" r="0.47"/><circle cx="187.75" cy="589.58" r="0.56"/><circle cx="205.4" cy="602.84" r="0.52"/><circle cx="208.22" cy="554.09" r="0.62"/><circle cx="209.63" cy="574.79" r="0.6"/></g>
<rect x="251.1" y="542.9" width="104.7" height="64.9" fill="#d6a2d6"/>
<rect x="251.1" y="542.9" width="104.7" height="64.9" filter="url(#nz1)" opacity="0.55"/>
<rect x="251.1" y="542.9" width="104.7" height="64.9" filter="url(#nz2)" opacity="0.6"/>
<path d="M250.81 610.53L256.42 619.6 M259.23 646.89L256.42 619.6 M353.66 604.26L356.24 604.54 M357.87 606.16L356.24 604.54 M355.26 614.86L349.53 608.43 M343.1 589.84L338.45 591.42 M343.1 589.84L342.98 587.21 M338.45 591.42L335.06 588.55 M335.06 588.55L337.57 583.75 M337.57 583.75L339.03 583.25 M345.89 592.94L341.8 597.87 M341.8 597.87L345.13 602.42 M337.4 597.2L337.79 597.54 M337.4 597.2L338.45 591.42 M322.37 584.42L327.79 582.9 M322.37 584.42L320.97 586.21 M321.62 588.56L328.21 592.33 M328.04 583.01L327.79 582.9 M328.04 583.01L331.21 589.49 M331.21 589.49L330.17 591.55 M337.57 583.75L332.96 581.16 M337.4 597.2L334.02 596.92 M334.02 596.92L330.17 591.55 M297.66 760.74L299.54 609.95 M308.28 616.48L304.59 606.8 M304.59 606.8L304.17 606.8 M299.54 609.95L304.17 606.8 M249.52 602.59L252.73 605.42 M252.55 535.66L249.12 543.22 M251.36 566.69L251.08 567.2 M251.36 566.69L248.81 562.34 M248.81 562.34L-194.5 558.15 M213.61 576.44L105.73 580.43 M30.74 580.93L105.73 580.43 M-1556.64 565.16L-194.5 558.15 M251.08 567.2L238.81 572.9 M342.98 587.21L347.64 583.72 M347.64 583.72L350.53 585.73 M348.62 591.15L350.53 585.73 M358.92 597.6L375.71 593.06 M358.92 597.6L354.5 596.07 M375.71 593.06L355.88 589.65 M354.5 596.07L353.71 592.94 M969.66 617.83L399.2 590.69 M399.2 590.69L375.71 593.06 M350.4 599.35L353.66 604.26 M348.62 591.15L353.71 592.94 M354.16 585.15L355.41 583.44 M364.33 582.3L355.41 583.44 M359.78 571.96L357.99 575.83 M620.41 556.99L443.6 561.15 M364.33 582.3L357.99 575.83 M356.41 568.98L353.35 569.69 M174.64 553.11L-194.5 558.15 M174.64 553.11L248.04 548.52 M248.04 548.52L249.18 543.32 M261.52 559.44L256.99 560.81 M263.34 563.46L261.58 566.13 M261.58 566.13L255.45 566.08 M255.45 566.08L256.99 560.81 M269.4 568.32L263.07 570.7 M263.07 570.7L261.58 566.13 M255.38 566.14L258.28 572.42 M255.38 566.14L255.45 566.08 M258.28 572.42L262.1 572.71 M349.53 608.43L348.68 608.37 M345.13 602.42L344.97 603.11 M348.68 608.37L344.97 603.11 M348.68 608.37L343.76 612.87 M306.84 582.62L309.76 585.86 M306.84 582.62L301.79 582.94 M301.79 582.94L304.78 589.34 M314.06 583.25L309.76 585.86 M327.79 582.9L326.83 575.46 M313.64 578.77L314.06 583.25 M315.91 568.9L311.13 575.25 M318.72 571.69L319.07 577.01 M311.13 575.25L311.13 577.15 M289.41 589.79L288.99 583.68 M284.02 584.31L282.98 590.33 M282.98 590.33L286.39 591.86 M287.16 598.13L286.39 591.86 M294.55 591.39L289.41 589.79 M293.47 596.63L289.36 598.82 M296.52 590.1L301.42 592.69 M301.42 592.69L304.78 589.34 M251.36 566.69L255.38 566.14 M258.28 572.42L255.84 574.34 M251.95 573.19L249.98 575 M213.61 576.44L248.4 581.1 M248.4 581.1L250.65 579 M249.02 596.73L250.04 591.9 M105.73 580.43L248.11 588.76 M248.11 588.76L250.04 591.9 M262.42 585.97L257.64 588.58 M261.11 580.03L256.18 579.97 M254.83 585.26L257.64 588.58 M265.25 586.88L262.42 585.97 M267.98 584.79L268.38 581.35 M262.1 572.71L263.46 575.49 M257.28 591.31L257.64 588.58 M250.65 579L256.07 580.06 M271.92 592.06L266.06 590.23 M267.98 584.79L274.52 587.6 M274.52 587.6L271.92 592.06 M258.18 593.27L264.6 592.62 M258.18 593.27L257.28 591.31 M256.42 619.6L258.71 611.48 M252.73 605.42L255.59 605.19 M258.71 611.48L255.59 605.19 M303.9 459.12L315.86 540.54 M315.86 540.54L320.15 542.58 M323.13 538.18L320.15 542.58 M356.41 568.98L358.65 564.24 M427.66 560.84L358.65 564.24 M347.64 583.72L347.02 581.11 M347.02 581.11L349.05 577.35 M280.4 591.01L275.49 587.11 M280.4 591.01L282.98 590.33 M248.81 562.34L250.15 559.19 M256.99 560.81L254.49 558.49 M250.15 559.19L254.49 558.49 M321.62 588.56L319.92 593.69 M313.14 591.59L315.8 594.24 M341 610.35L340.94 605.64 M341 610.35L334.86 611.32 M340.94 605.64L337.22 603.98 M334.38 605.43L337.22 603.98 M344.97 603.11L340.94 605.64 M337.79 597.54L337.22 603.98 M295.42 607.73L290.17 616.84 M290.17 616.84L286.89 608.35 M299.54 609.95L295.42 607.73 M304.17 606.8L298.12 602.55 M298.12 602.55L294.83 605.4 M297.66 760.74L291.75 696.52 M291.75 696.52L290.17 616.84 M298.56 599.58L298.12 602.55 M307.09 604.21L313.26 608.14 M307.09 604.21L307.36 602.99 M314.49 600.07L316 601.36 M316 601.36L315.42 607.52 M308.28 616.48L313.26 608.14 M304.59 606.8L307.09 604.21 M302.28 597.04L307.36 602.99 M315.8 594.24L314.49 600.07 M301.25 810.42L305.1 902.33 M321.89 676.1L321.04 618.41 M278.51 602.48L276.25 597.53 M283.74 606.92L282.7 603.55 M275.5 605.68L278.51 602.48 M274.52 587.6L275.49 587.11 M250.14 598.22L256.7 597.48 M258.18 593.27L257.87 596.16 M354.72 532.17L350.23 540.83 M342.96 540.3L339.15 530.41 M353.35 569.69L351.44 568.61 M358.65 564.24L355.24 560.73 M332.15 557.58L332.27 559.64 M332.27 559.64L327.24 562.4 M327.24 562.4L324.07 557.53 M302.14 458.92L291.75 518.74 M302.14 458.92L304.3 520.91 M297.47 544.74L296.85 544.65 M297.47 544.74L299.71 543.4 M292.79 566.57L293.39 566.34 M295.75 562.52L293.39 566.34 M305.17 546.23L310.08 548.89 M305.17 546.23L304.84 544.88 M307.47 540.12L312.66 543.91 M312.66 543.91L312.89 546.25 M311.32 548.55L310.08 548.89 M304.3 520.91L307.47 540.12 M302.64 452.78L302.14 458.92 M315.86 540.54L312.66 543.91 M318.76 547.22L320.74 544.98 M289.12 578.71L285.85 576.22 M285.87 572.43L290.79 571.27 M285.87 572.43L285.85 576.22 M282.34 578.21L281.57 582.54 M282.34 578.21L285.85 576.22 M286.84 564.59L284.1 566.87 M292.79 566.57L290.79 571.27 M284.1 566.87L283.67 569.8 M298.38 571.15L293.39 566.34 M298.38 571.15L296.44 575.35 M296.44 575.35L293.92 575.12 M296.75 588.05L301.78 582.93 M292.57 583.08L298.52 578.76 M300.33 579.67L298.52 578.76 M296.52 590.1L296.75 588.05 M301.79 582.94L301.78 582.93 M289.87 582.73L292.57 583.08 M296.44 575.35L298.52 578.76 M271.9 578.78L274 579.12 M274 579.12L277.41 575.24 M269.5 574.69L271.18 569.76 M277.42 572.03L274.71 569.65 M271.18 569.76L274.71 569.65 M263.46 575.49L269.5 574.69 M283.67 569.8L277.42 572.03 M278.82 563.07L276.87 563.89 M276.87 563.89L274.71 569.65 M283.88 537.99L276.98 541.12 M267.9 521.71L275.51 540.28 M252.55 535.66L256.19 540.83 M249.18 543.32L254.13 544.9 M254.13 544.9L256.19 540.83 M278.74 545.72L274.15 548.98 M271.64 543.57L272.64 548.18 M321.04 618.41L326.23 608.11 M327.59 607.9L326.23 608.11 M334.38 605.43L330.74 603.89 M326.23 608.11L322.78 605.61 M334.02 596.92L329.78 601.26 M330.74 603.89L329.78 601.26 M304.11 576.34L303.93 570.86 M311.13 575.25L307.42 570.6 M307.42 570.6L303.93 570.86 M315.71 568.11L311.4 565.69 M321.25 556.98L319.19 559.86 M314.74 553.09L311.76 557.62 M311.76 557.62L312.27 559.21 M315.91 568.9L315.71 568.11 M318.72 571.69L324.43 570.38 M324.43 570.38L323.9 565.47 M321.25 556.98L324.07 557.53 M323.9 565.47L326.89 563.59 M296.85 544.65L291.21 549.2 M294.37 553.72L298.65 553.19 M298.65 553.19L300.53 551.26 M307.01 554.09L301.66 551.04 M276.25 597.53L271.69 601.39 M266.52 598.74L271.69 601.39 M275.5 605.68L272.29 605.46 M271.69 601.39L272.29 605.46 M333.77 542.72L333.64 542.56 M333.64 542.56L329.27 541.55 M328.91 541.68L325.85 546.31 M328.91 541.68L329.27 541.55 M328.09 550.36L326.76 549.33 M339.15 530.41L333.64 542.56 M339.79 549.26L334.53 548.22 M342.46 547.24L341.68 542.91 M323.13 538.18L328.91 541.68 M320.74 544.98L325.85 546.31 M334.56 554.95L333.29 549.62 M320.03 553.33L326.76 549.33 M356.18 555.1L356.09 555.16 M356.09 555.16L348.54 553.46 M351.17 544.77L347.58 549.13 M351.17 544.77L355.84 546.29 M355.24 560.73L356.09 555.16 M342.46 547.24L347.58 549.13 M350.23 540.83L351.17 544.77 M358.91 541.66L355.84 546.29 M347.29 561.2L347.11 555.13 M347.29 561.2L342.91 564.45 M342.91 564.45L339.43 562.72 M339.43 562.72L340.27 555.64 M340.27 555.64L347.11 555.13 M339.99 555.33L340.27 555.64 M336.37 563.46L339.43 562.72 M342.91 564.45L343.34 565.9 M347.4 569.65L343.34 565.9 M324.43 570.38L327.96 573.18 M336.37 563.46L334.86 566.11 M326.83 575.46L328 573.3 M284.06 557.22L285.06 557.3 M267.16 542.35L265.47 544.26 M267.9 521.71L267.13 525.66 M271.64 543.57L267.16 542.35 M267.11 549.55L265.47 544.26 M327.01 600.03L322.62 603.92 M325.3 596.81L322.15 596.38 M322.15 596.38L318.92 601.05 M318.92 601.05L322.62 603.92 M329.78 601.26L327.01 600.03 M322.78 605.61L322.62 603.92 M319.92 593.69L322.15 596.38 M302.32 565.41L305.73 563.04 M302.32 565.41L297.8 562.39 M310.43 563.68L305.73 563.04 M295.75 562.52L297.8 562.39 M292.6 557.67L294.37 553.72 M298.65 553.19L300.94 557.89 M261.92 603.99L264.53 601.93 M261.92 603.99L262.32 608.64 M264.53 601.93L269.53 607.98 M262.32 608.64L268.02 610.21 M269.22 609.12L269.53 607.98 M343.06 574.66L339.83 571.73 M339.83 571.73L336.49 572.01 M334.43 574.78L334.41 574.74 M340.58 580.28L340.42 579.33 M332.96 581.16L334.43 574.78 M343.34 565.9L339.83 571.73 M334.86 566.11L336.49 572.01 M328 573.3L334.41 574.74 M280.75 546.49L281.88 549.12 M280.75 546.49L284.91 543.23 M281.88 549.12L287.51 550.3 M284.91 543.23L288.57 545.01 M288.57 545.01L290.04 548.79 M290.04 548.79L287.51 550.3 M278.74 545.72L280.75 546.49 M274.15 548.98L275.2 553.44 M275.2 553.44L280.63 552.21 M280.63 552.21L281.88 549.12 M292.72 538.99L288.57 545.01 M291.21 549.2L290.04 548.79 M260.48 554.84L262.4 551.06 M255.65 548.25L254.09 550.98 M254.49 558.49L255.83 553.62 M266.71 550.37L262.4 551.06 M250.86 551.45L254.09 550.98 M266.54 556.82L267.95 554.23 M266.54 556.82L270.08 561.6 M267.95 554.23L274.6 554.9 M272.14 560.95L274.64 555.1 M274.64 555.1L274.6 554.9 M262.1 558.02L266.54 556.82 M266.71 550.37L267.95 554.23 M276.87 563.89L272.14 560.95 M280.09 559.3L274.64 555.1" stroke="#fff" stroke-opacity="0.3" stroke-width="0.8" fill="none" clip-path="url(#cp12)"/>
<clipPath id="cp12"><rect x="251.1" y="542.9" width="104.7" height="64.9"/></clipPath>
<g fill="#a262c2" fill-opacity="0.62" stroke="#74389e" stroke-opacity="0.6" stroke-width="0.55"><circle cx="301.26" cy="588.12" r="1.26"/><circle cx="264.07" cy="553.89" r="1.48"/><circle cx="298.17" cy="566.9" r="1.5"/><circle cx="271.63" cy="583.25" r="1.05"/><circle cx="316.23" cy="556.45" r="1.03"/><circle cx="252.72" cy="588.92" r="1.34"/><circle cx="280.92" cy="586.66" r="1.43"/><circle cx="350.99" cy="581.65" r="1.25"/><circle cx="322.39" cy="573.68" r="1.5"/><circle cx="305.95" cy="550.04" r="1.32"/><circle cx="312.28" cy="604.27" r="1.33"/><circle cx="264.83" cy="567" r="1.01"/><circle cx="315.73" cy="549.55" r="1.05"/><circle cx="253.16" cy="594.41" r="1.07"/><circle cx="317.72" cy="581.52" r="1.23"/><circle cx="308.78" cy="544.81" r="1.23"/><circle cx="253.05" cy="576.58" r="1.37"/><circle cx="290.74" cy="562.31" r="1.27"/><circle cx="332.58" cy="570.03" r="1.39"/><circle cx="253.43" cy="561.7" r="1.49"/><circle cx="336.34" cy="558.03" r="1.37"/><circle cx="323.37" cy="561.56" r="1.14"/><circle cx="346.86" cy="587.58" r="1.38"/><circle cx="296.61" cy="583.54" r="1.18"/><circle cx="307.45" cy="559.27" r="1.31"/><circle cx="343.53" cy="558.88" r="1.28"/><circle cx="293.39" cy="579.1" r="1.16"/><circle cx="294.19" cy="600.93" r="1.09"/><circle cx="289.13" cy="554.06" r="1.03"/><circle cx="336.75" cy="552.16" r="1.47"/><circle cx="284.97" cy="547.07" r="1.35"/><circle cx="335.14" cy="592.68" r="1.16"/><circle cx="315.34" cy="574.15" r="1.14"/><circle cx="330.35" cy="546.48" r="1.42"/><circle cx="333.23" cy="584.85" r="1.15"/><circle cx="348.42" cy="565.47" r="1.09"/><circle cx="283.01" cy="594.53" r="1.45"/><circle cx="323.75" cy="579.11" r="1.28"/><circle cx="339.14" cy="587.94" r="1.44"/><circle cx="273.05" cy="574.44" r="1.01"/><circle cx="262.31" cy="590.21" r="1.21"/><circle cx="283.07" cy="562.1" r="1.12"/><circle cx="336.25" cy="579.47" r="1.11"/><circle cx="306.11" cy="585.86" r="1.07"/><circle cx="279.25" cy="567.4" r="1.29"/><circle cx="311.07" cy="553.06" r="1.42"/><circle cx="259.51" cy="563.48" r="1.21"/><circle cx="266.84" cy="572.32" r="1.45"/><circle cx="310.14" cy="582.22" r="1.03"/><circle cx="269.46" cy="545.88" r="1.26"/><circle cx="292.33" cy="587.14" r="1.27"/><circle cx="313.16" cy="587.2" r="1.17"/><circle cx="315.65" cy="562.65" r="1.38"/><circle cx="345.97" cy="597.78" r="1.14"/><circle cx="318.3" cy="597.24" r="1.34"/><circle cx="264.78" cy="582.46" r="1.06"/><circle cx="271.43" cy="598.15" r="1.04"/><circle cx="279.02" cy="606.13" r="1.32"/><circle cx="334.42" cy="601.28" r="1.17"/><circle cx="350.91" cy="558.67" r="1.28"/><circle cx="338.84" cy="568.3" r="1.44"/><circle cx="258.8" cy="583.78" r="1.34"/><circle cx="263.09" cy="547.86" r="1.38"/><circle cx="302.35" cy="602.13" r="1.23"/><circle cx="278.76" cy="579.47" r="1.26"/><circle cx="279.47" cy="555.26" r="1.25"/><circle cx="305.98" cy="592.87" r="1.22"/><circle cx="330.94" cy="563.81" r="1.3"/><circle cx="344.4" cy="578.08" r="1.21"/><circle cx="350.31" cy="572.82" r="1.16"/><circle cx="321.16" cy="568.3" r="1.14"/><circle cx="352.23" cy="589.48" r="1.07"/><circle cx="269.38" cy="588.49" r="1.33"/><circle cx="341.12" cy="593.76" r="1.13"/><circle cx="328.04" cy="558.52" r="1.43"/><circle cx="280.7" cy="599.52" r="1.24"/><circle cx="330.74" cy="578.21" r="1.14"/><circle cx="253.93" cy="601.26" r="1.32"/><circle cx="276.28" cy="592.51" r="1.39"/><circle cx="288.59" cy="568.75" r="1.11"/><circle cx="265.89" cy="560.59" r="1.41"/><circle cx="307.29" cy="597.91" r="1.15"/><circle cx="343.32" cy="571" r="1.38"/><circle cx="322.19" cy="548.93" r="1.27"/><circle cx="306.91" cy="574.17" r="1.28"/><circle cx="274.59" cy="544.77" r="1.45"/><circle cx="276.03" cy="559.73" r="1.24"/><circle cx="340.45" cy="601.81" r="1.35"/><circle cx="339.44" cy="575.27" r="1.04"/><circle cx="262.84" cy="595.45" r="1.22"/><circle cx="319.12" cy="604.91" r="1.11"/><circle cx="343.72" cy="583.38" r="1.44"/><circle cx="283.89" cy="552.24" r="1.35"/><circle cx="323.71" cy="592.77" r="1.35"/><circle cx="286.15" cy="587.56" r="1.22"/><circle cx="322.7" cy="600.28" r="1.1"/><circle cx="327.18" cy="567.64" r="1.1"/><circle cx="289.94" cy="574.5" r="1.01"/><circle cx="274.83" cy="602.19" r="1.43"/><circle cx="267.55" cy="577.67" r="1.19"/></g>
<g fill="#3a1a60" fill-opacity="0.7"><circle cx="327.39" cy="564.54" r="0.44"/><circle cx="317.36" cy="588.73" r="0.53"/><circle cx="330.77" cy="605.14" r="0.52"/><circle cx="258.82" cy="606.2" r="0.67"/><circle cx="296.81" cy="560.44" r="0.42"/><circle cx="344.93" cy="594.32" r="0.51"/><circle cx="251.95" cy="592.65" r="0.49"/><circle cx="285.36" cy="600.68" r="0.42"/><circle cx="350.12" cy="573.71" r="0.58"/><circle cx="301.96" cy="606.55" r="0.66"/><circle cx="287.8" cy="556.38" r="0.49"/><circle cx="255.56" cy="602.18" r="0.4"/><circle cx="290.95" cy="551.76" r="0.47"/><circle cx="272.93" cy="559.36" r="0.63"/><circle cx="329.18" cy="606.94" r="0.55"/><circle cx="286.73" cy="562.78" r="0.43"/><circle cx="253.63" cy="596.33" r="0.45"/><circle cx="303.71" cy="607" r="0.56"/><circle cx="324.71" cy="581.67" r="0.56"/><circle cx="353.15" cy="603.6" r="0.69"/><circle cx="298.01" cy="553.49" r="0.42"/><circle cx="352.52" cy="551.57" r="0.46"/><circle cx="340.29" cy="592.44" r="0.66"/><circle cx="263.59" cy="553.32" r="0.42"/><circle cx="314.99" cy="600.96" r="0.58"/><circle cx="293.56" cy="561.37" r="0.45"/><circle cx="261.73" cy="586.92" r="0.56"/><circle cx="268.6" cy="578.79" r="0.45"/><circle cx="317.59" cy="602.76" r="0.7"/><circle cx="324.25" cy="595.91" r="0.45"/><circle cx="319.46" cy="585.12" r="0.48"/><circle cx="332.46" cy="576.55" r="0.62"/><circle cx="343.35" cy="550.3" r="0.52"/><circle cx="342.5" cy="567.21" r="0.6"/><circle cx="312.06" cy="604.23" r="0.65"/><circle cx="281.64" cy="550.28" r="0.66"/><circle cx="293.24" cy="559.57" r="0.7"/><circle cx="311.97" cy="574.53" r="0.44"/><circle cx="330.09" cy="592.53" r="0.49"/><circle cx="258.98" cy="558.79" r="0.54"/></g>
<g filter="url(#bl3)">
<path d="M73.8 529.6 L81.8 525.2 L86.9 524.9 L91.3 527 L92.7 527.4 L99.3 526.7 L108.8 525.2 L99.3 528 L92.7 528.5 L89.1 529.6 L85.8 531.4 L87.6 536.9 L89.1 541.4 L80.3 541.4 L78.1 534.7 Z" fill="#f7f2f7"/>
<ellipse cx="83.8" cy="537.3" rx="2.2" ry="2.5" fill="#d24f6e"/>
<ellipse cx="86.3" cy="527.2" rx="0.8" ry="1.2" fill="#e57a9a"/>
<path d="M73.4 493.8 L77 488.5 L80.2 487 L80.7 489 L78.6 494.3 L76 496.9 Z" fill="#f6eef6"/>
<path d="M80.2 487.5 L84.9 477" stroke="#f4e8f4" stroke-width="0.7" stroke-opacity="0.8"/>
<circle cx="85.9" cy="506" r="1.3" fill="#a0306a" opacity="0.75"/>
<path d="M77.6 580 L81.4 572.4 L87.5 567.1 L92.4 564 L92.8 567 L90.5 573.9 L86.7 582.2 L82.9 584.5 L79.1 583.4 Z" fill="#f7f0f6"/>
<path d="M91.8 565.5 L103.4 543.3" stroke="#f6eef6" stroke-width="1.0" stroke-opacity="0.85"/>
<circle cx="84" cy="573" r="0.7" fill="#ec90b0"/>
<circle cx="87" cy="570" r="0.7" fill="#ec90b0"/>
<circle cx="85" cy="577" r="0.7" fill="#ec90b0"/>
<circle cx="82" cy="580" r="0.7" fill="#ec90b0"/>
<circle cx="89" cy="568.5" r="0.7" fill="#ec90b0"/>
<circle cx="95.7" cy="603" r="1.6" fill="#a83068" opacity="0.7"/>
<path d="M143 477 L150 477 L149.5 482 L147.5 486.5 L145 487.5 L143 486 Z" fill="#f8f2f8"/>
<ellipse cx="197.4" cy="513" rx="2.2" ry="1.6" fill="#f6ecf4" opacity="0.75"/>
<ellipse cx="238.9" cy="534.5" rx="2.3" ry="2.2" fill="#f3dcec" opacity="0.7"/>
<path d="M190 574.5 L193 572.5 L197.5 572 L201 573.5 L200 577 L196.5 579.5 L191.5 578.5 Z" fill="#f4e4ee"/>
<circle cx="193" cy="575" r="0.7" fill="#ec7fa0"/>
<circle cx="195.5" cy="577" r="0.7" fill="#ec7fa0"/>
<circle cx="198" cy="574.5" r="0.7" fill="#ec7fa0"/>
<path d="M317 500.5 L327 505.5" stroke="#ec8aa8" stroke-width="2.2" stroke-linecap="round"/>
<ellipse cx="262" cy="495" rx="9" ry="7" fill="#f4e4f2" opacity="0.25" filter="url(#bl1)"/>
<ellipse cx="300" cy="490" rx="11" ry="6" fill="#f4e4f2" opacity="0.2" filter="url(#bl1)"/>
<path d="M251 543.5 L256.4 543.5 L251 549 Z" fill="#f4e0ea"/>
</g>
<line x1="266.6" y1="580.8" x2="271.5" y2="581.3" stroke="#151515" stroke-width="1.8"/>
<line x1="273.4" y1="583.7" x2="278.4" y2="584" stroke="#151515" stroke-width="1.8"/>
<line x1="289" y1="586" x2="292.4" y2="589" stroke="#151515" stroke-width="1.8"/>
<line x1="296.5" y1="578.6" x2="300.5" y2="581.4" stroke="#151515" stroke-width="1.8"/>
<line x1="320.1" y1="534.5" x2="352.4" y2="534.5" stroke="#111" stroke-width="1"/>
<text x="338.5" y="539.6" font-size="4.2" font-weight="normal" text-anchor="middle" fill="#000">20 μm</text>
<line x1="335.4" y1="600.3" x2="352.2" y2="600.3" stroke="#111" stroke-width="1"/>
<text x="343.4" y="605" font-size="4.2" font-weight="normal" text-anchor="middle" fill="#000">5 μm</text>
<line x1="437.4" y1="468.7" x2="437.4" y2="589.9" stroke="#000" stroke-width="1.3"/>
<line x1="432.9" y1="589.3" x2="437.4" y2="589.3" stroke="#000" stroke-width="1.3"/>
<text x="432.3" y="592.6" font-size="9.3" font-weight="bold" text-anchor="end" fill="#000" stroke="#000" stroke-width="0.22">0</text>
<line x1="435.2" y1="581.3" x2="437.4" y2="581.3" stroke="#000" stroke-width="1.2"/>
<line x1="435.2" y1="573.3" x2="437.4" y2="573.3" stroke="#000" stroke-width="1.2"/>
<line x1="435.2" y1="565.3" x2="437.4" y2="565.3" stroke="#000" stroke-width="1.2"/>
<line x1="435.2" y1="557.3" x2="437.4" y2="557.3" stroke="#000" stroke-width="1.2"/>
<line x1="432.9" y1="549.3" x2="437.4" y2="549.3" stroke="#000" stroke-width="1.3"/>
<text x="432.3" y="552.6" font-size="9.3" font-weight="bold" text-anchor="end" fill="#000" stroke="#000" stroke-width="0.22">100</text>
<line x1="435.2" y1="541.3" x2="437.4" y2="541.3" stroke="#000" stroke-width="1.2"/>
<line x1="435.2" y1="533.3" x2="437.4" y2="533.3" stroke="#000" stroke-width="1.2"/>
<line x1="435.2" y1="525.3" x2="437.4" y2="525.3" stroke="#000" stroke-width="1.2"/>
<line x1="435.2" y1="517.3" x2="437.4" y2="517.3" stroke="#000" stroke-width="1.2"/>
<line x1="432.9" y1="509.3" x2="437.4" y2="509.3" stroke="#000" stroke-width="1.3"/>
<text x="432.3" y="512.6" font-size="9.3" font-weight="bold" text-anchor="end" fill="#000" stroke="#000" stroke-width="0.22">200</text>
<line x1="435.2" y1="501.3" x2="437.4" y2="501.3" stroke="#000" stroke-width="1.2"/>
<line x1="435.2" y1="493.3" x2="437.4" y2="493.3" stroke="#000" stroke-width="1.2"/>
<line x1="435.2" y1="485.3" x2="437.4" y2="485.3" stroke="#000" stroke-width="1.2"/>
<line x1="435.2" y1="477.3" x2="437.4" y2="477.3" stroke="#000" stroke-width="1.2"/>
<line x1="432.9" y1="469.3" x2="437.4" y2="469.3" stroke="#000" stroke-width="1.3"/>
<text x="432.3" y="472.6" font-size="9.3" font-weight="bold" text-anchor="end" fill="#000" stroke="#000" stroke-width="0.22">300</text>
<line x1="436.8" y1="589.3" x2="517.5" y2="589.3" stroke="#000" stroke-width="1.3"/>
<line x1="453.6" y1="589.3" x2="453.6" y2="594.3" stroke="#000" stroke-width="1.3"/>
<line x1="477.3" y1="589.3" x2="477.3" y2="594.3" stroke="#000" stroke-width="1.3"/>
<line x1="501.6" y1="589.3" x2="501.6" y2="594.3" stroke="#000" stroke-width="1.3"/>
<text x="410.6" y="529.2" font-size="9.8" font-weight="bold" text-anchor="middle" fill="#000" transform="rotate(-90 410.6 529.2)" stroke="#000" stroke-width="0.22">Serum ALT (U/L)</text>
<text x="459.1" y="600.6" font-size="9.8" font-weight="bold" text-anchor="end" fill="#000" transform="rotate(-45 459.1 600.6)" stroke="#000" stroke-width="0.22">H<tspan font-size="0.7em" dy="0.25em">2</tspan><tspan dy="-0.18em">O</tspan></text>
<text x="482.8" y="600.6" font-size="9.8" font-weight="bold" text-anchor="end" fill="#000" transform="rotate(-45 482.8 600.6)" stroke="#000" stroke-width="0.22">60 mg/kg</text>
<text x="507.1" y="600.6" font-size="9.8" font-weight="bold" text-anchor="end" fill="#000" transform="rotate(-45 507.1 600.6)" stroke="#000" stroke-width="0.22">150 mg/kg</text>
<line x1="446.5" y1="583" x2="461" y2="583" stroke="#000" stroke-width="1.3"/>
<line x1="470" y1="582.5" x2="485" y2="582.5" stroke="#000" stroke-width="1.3"/>
<line x1="493.5" y1="536.3" x2="509.7" y2="536.3" stroke="#000" stroke-width="1.3"/>
<line x1="501.6" y1="523.2" x2="501.6" y2="549.4" stroke="#000" stroke-width="1.3"/>
<line x1="498" y1="523.2" x2="505.2" y2="523.2" stroke="#000" stroke-width="1.3"/>
<line x1="498" y1="549.4" x2="505.2" y2="549.4" stroke="#000" stroke-width="1.3"/>
<circle cx="447.5" cy="580.7" r="2" stroke="#000" stroke-width="1.3" fill="none"/>
<circle cx="447.5" cy="584.5" r="2" stroke="#000" stroke-width="1.3" fill="none"/>
<circle cx="451.7" cy="582.6" r="2" stroke="#000" stroke-width="1.3" fill="none"/>
<circle cx="455.5" cy="584.1" r="2" stroke="#000" stroke-width="1.3" fill="none"/>
<circle cx="459.8" cy="582.6" r="2" stroke="#000" stroke-width="1.3" fill="none"/>
<circle cx="471.5" cy="582.3" r="2" stroke="#1c1cff" stroke-width="1.3" fill="none"/>
<circle cx="474.5" cy="582" r="2" stroke="#1c1cff" stroke-width="1.3" fill="none"/>
<circle cx="477.5" cy="582" r="2" stroke="#1c1cff" stroke-width="1.3" fill="none"/>
<circle cx="480.5" cy="582" r="2" stroke="#1c1cff" stroke-width="1.3" fill="none"/>
<circle cx="483.6" cy="583" r="2" stroke="#1c1cff" stroke-width="1.3" fill="none"/>
<circle cx="501.4" cy="486" r="2" stroke="#f0245e" stroke-width="1.3" fill="none"/>
<circle cx="501.6" cy="535.8" r="2" stroke="#f0245e" stroke-width="1.3" fill="none"/>
<circle cx="501.6" cy="547.5" r="2" stroke="#f0245e" stroke-width="1.3" fill="none"/>
<circle cx="497.8" cy="556.4" r="2" stroke="#f0245e" stroke-width="1.3" fill="none"/>
<circle cx="505" cy="555.5" r="2" stroke="#f0245e" stroke-width="1.3" fill="none"/>
<polyline points="455.5,477.4 455.5,471.7 501,471.7 501,477.4" stroke="#333" stroke-width="1.2" fill="none"/>
<text x="476.4" y="470.6" font-size="8.5" font-weight="normal" text-anchor="middle" fill="#000">**</text>
<line x1="583.3" y1="467.3" x2="583.3" y2="588.9" stroke="#000" stroke-width="1.3"/>
<line x1="579.1" y1="588.3" x2="583.3" y2="588.3" stroke="#000" stroke-width="1.3"/>
<text x="577" y="591.6" font-size="9.6" font-weight="bold" text-anchor="end" fill="#000" stroke="#000" stroke-width="0.22">0</text>
<line x1="579.1" y1="558.3" x2="583.3" y2="558.3" stroke="#000" stroke-width="1.3"/>
<text x="577" y="561.6" font-size="9.6" font-weight="bold" text-anchor="end" fill="#000" stroke="#000" stroke-width="0.22">100</text>
<line x1="579.1" y1="528.3" x2="583.3" y2="528.3" stroke="#000" stroke-width="1.3"/>
<text x="577" y="531.6" font-size="9.6" font-weight="bold" text-anchor="end" fill="#000" stroke="#000" stroke-width="0.22">200</text>
<line x1="579.1" y1="498.3" x2="583.3" y2="498.3" stroke="#000" stroke-width="1.3"/>
<text x="577" y="501.6" font-size="9.6" font-weight="bold" text-anchor="end" fill="#000" stroke="#000" stroke-width="0.22">300</text>
<line x1="579.1" y1="468.3" x2="583.3" y2="468.3" stroke="#000" stroke-width="1.3"/>
<text x="577" y="471.6" font-size="9.6" font-weight="bold" text-anchor="end" fill="#000" stroke="#000" stroke-width="0.22">400</text>
<line x1="582.7" y1="588.3" x2="663.7" y2="588.3" stroke="#000" stroke-width="1.3"/>
<line x1="598.8" y1="588.3" x2="598.8" y2="593.3" stroke="#000" stroke-width="1.3"/>
<line x1="622.9" y1="588.3" x2="622.9" y2="593.3" stroke="#000" stroke-width="1.3"/>
<line x1="647.2" y1="588.3" x2="647.2" y2="593.3" stroke="#000" stroke-width="1.3"/>
<text x="550.8" y="527.5" font-size="9.8" font-weight="bold" text-anchor="middle" fill="#000" transform="rotate(-90 550.8 527.5)" stroke="#000" stroke-width="0.22">Serum AST (U/L)</text>
<text x="604.2" y="600.1" font-size="9.8" font-weight="bold" text-anchor="end" fill="#000" transform="rotate(-45 604.2 600.1)" stroke="#000" stroke-width="0.22">H<tspan font-size="0.7em" dy="0.25em">2</tspan><tspan dy="-0.18em">O</tspan></text>
<text x="628.3" y="600.1" font-size="9.8" font-weight="bold" text-anchor="end" fill="#000" transform="rotate(-45 628.3 600.1)" stroke="#000" stroke-width="0.22">60 mg/kg</text>
<text x="652.6" y="600.1" font-size="9.8" font-weight="bold" text-anchor="end" fill="#000" transform="rotate(-45 652.6 600.1)" stroke="#000" stroke-width="0.22">150 mg/kg</text>
<line x1="592" y1="580.5" x2="606" y2="580.5" stroke="#000" stroke-width="1.3"/>
<line x1="614.9" y1="575.4" x2="630.9" y2="575.4" stroke="#000" stroke-width="1.3"/>
<line x1="622.9" y1="572.8" x2="622.9" y2="578" stroke="#000" stroke-width="1.3"/>
<line x1="618.9" y1="572.8" x2="626.9" y2="572.8" stroke="#000" stroke-width="1.3"/>
<line x1="618.9" y1="578" x2="626.9" y2="578" stroke="#000" stroke-width="1.3"/>
<line x1="639.1" y1="503.4" x2="655.3" y2="503.4" stroke="#000" stroke-width="1.3"/>
<line x1="647.2" y1="499.6" x2="647.2" y2="507.2" stroke="#000" stroke-width="1.3"/>
<line x1="643.6" y1="499.6" x2="650.8" y2="499.6" stroke="#000" stroke-width="1.3"/>
<line x1="643.6" y1="507.2" x2="650.8" y2="507.2" stroke="#000" stroke-width="1.3"/>
<circle cx="592.3" cy="580.1" r="2" stroke="#000" stroke-width="1.3" fill="none"/>
<circle cx="596" cy="578.6" r="2" stroke="#000" stroke-width="1.3" fill="none"/>
<circle cx="598.9" cy="580.1" r="2" stroke="#000" stroke-width="1.3" fill="none"/>
<circle cx="602.2" cy="578.8" r="2" stroke="#000" stroke-width="1.3" fill="none"/>
<circle cx="605.4" cy="582.3" r="2" stroke="#000" stroke-width="1.3" fill="none"/>
<circle cx="623" cy="565.3" r="2" stroke="#1c1cff" stroke-width="1.3" fill="none"/>
<circle cx="616.8" cy="579.3" r="2" stroke="#1c1cff" stroke-width="1.3" fill="none"/>
<circle cx="620.8" cy="576.8" r="2" stroke="#1c1cff" stroke-width="1.3" fill="none"/>
<circle cx="625" cy="579.1" r="2" stroke="#1c1cff" stroke-width="1.3" fill="none"/>
<circle cx="629.4" cy="577" r="2" stroke="#1c1cff" stroke-width="1.3" fill="none"/>
<circle cx="643.4" cy="494.5" r="2" stroke="#ff1a1a" stroke-width="1.3" fill="none"/>
<circle cx="651" cy="497.1" r="2" stroke="#ff1a1a" stroke-width="1.3" fill="none"/>
<circle cx="647.2" cy="501.5" r="2" stroke="#ff1a1a" stroke-width="1.3" fill="none"/>
<circle cx="647.2" cy="506.2" r="2" stroke="#ff1a1a" stroke-width="1.3" fill="none"/>
<circle cx="647.2" cy="517.6" r="2" stroke="#ff1a1a" stroke-width="1.3" fill="none"/>
<polyline points="595.4,474.9 595.4,469.2 649.1,469.2 649.1,474.9" stroke="#333" stroke-width="1.2" fill="none"/>
<text x="622" y="468.3" font-size="8.5" font-weight="normal" text-anchor="middle" fill="#000">***</text></svg></body></html>
